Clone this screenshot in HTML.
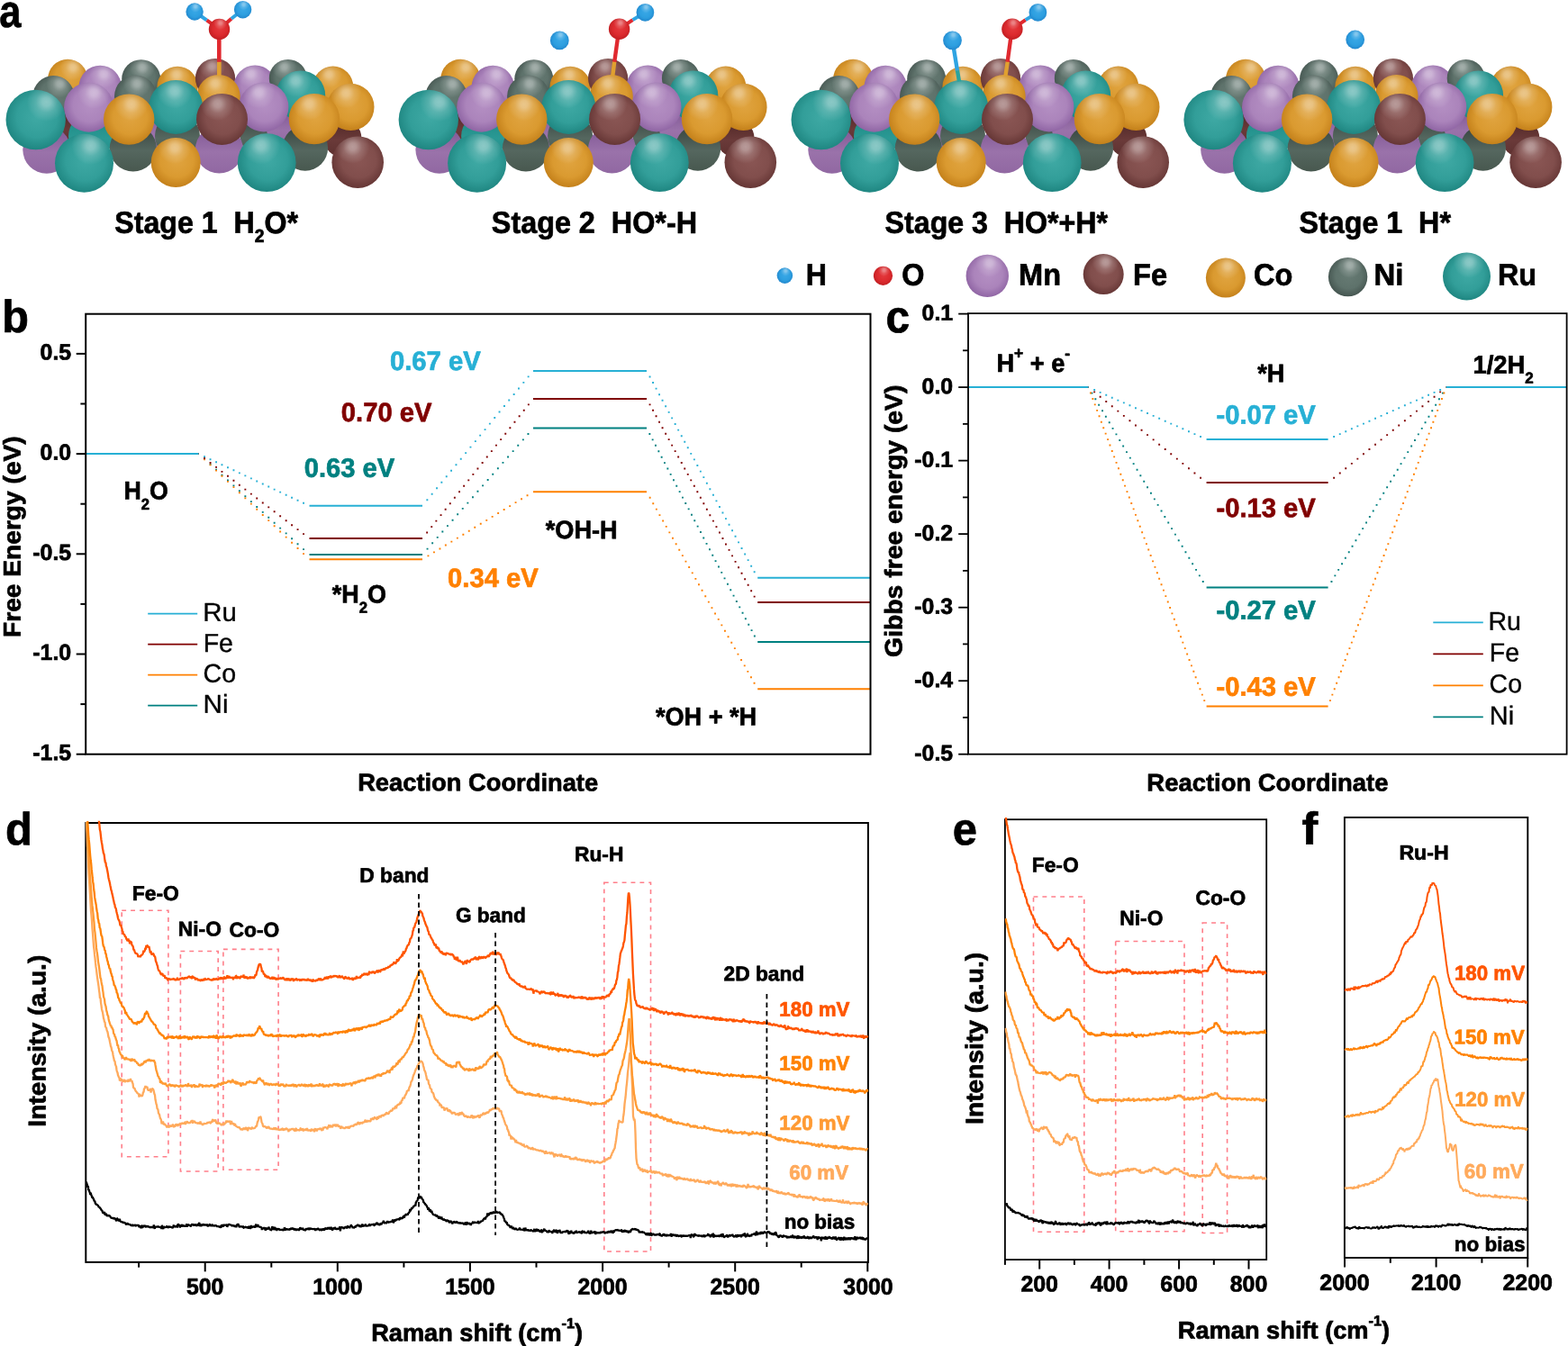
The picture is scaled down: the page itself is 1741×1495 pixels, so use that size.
<!DOCTYPE html>
<html lang="en">
<head>
<meta charset="utf-8">
<title>Figure: reaction stages, free energy diagrams and in-situ Raman spectra</title>
<style>
html,body{margin:0;padding:0;background:#fff;}
body{width:1741px;height:1495px;overflow:hidden;}
svg{display:block;}
svg text{font-family:"Liberation Sans", sans-serif;font-weight:bold;white-space:pre;stroke-linejoin:round;text-rendering:geometricPrecision;}
svg text.r{font-weight:normal;}
</style>
</head>
<body>
<svg width="1741" height="1495" viewBox="0 0 1741 1495" role="img" aria-label="Reaction stages on a high-entropy alloy surface, free energy diagrams, and in-situ Raman spectra">
<rect width="1741" height="1495" fill="#fff"/>
<defs>
<radialGradient id="gRu" cx="0.52" cy="0.46" r="0.56"><stop offset="0" stop-color="#3fa9a4"/><stop offset="0.6" stop-color="#329e99"/><stop offset="1" stop-color="#1d847f"/></radialGradient>
<radialGradient id="gCo" cx="0.52" cy="0.46" r="0.56"><stop offset="0" stop-color="#e0a440"/><stop offset="0.6" stop-color="#da9a30"/><stop offset="1" stop-color="#c27e18"/></radialGradient>
<radialGradient id="gMn" cx="0.52" cy="0.46" r="0.56"><stop offset="0" stop-color="#b48fc3"/><stop offset="0.6" stop-color="#ab84bb"/><stop offset="1" stop-color="#8d62a2"/></radialGradient>
<radialGradient id="gNi" cx="0.52" cy="0.46" r="0.56"><stop offset="0" stop-color="#667a73"/><stop offset="0.6" stop-color="#5e726b"/><stop offset="1" stop-color="#43534e"/></radialGradient>
<radialGradient id="gFe" cx="0.52" cy="0.46" r="0.56"><stop offset="0" stop-color="#8a5654"/><stop offset="0.6" stop-color="#814e4c"/><stop offset="1" stop-color="#633433"/></radialGradient>
<radialGradient id="gH" cx="0.52" cy="0.46" r="0.56"><stop offset="0" stop-color="#3aa8e6"/><stop offset="0.6" stop-color="#2d9fe0"/><stop offset="1" stop-color="#2286cc"/></radialGradient>
<radialGradient id="gO" cx="0.52" cy="0.46" r="0.56"><stop offset="0" stop-color="#e43a3e"/><stop offset="0.6" stop-color="#dc2a2e"/><stop offset="1" stop-color="#bf1e22"/></radialGradient>
<linearGradient id="gRud" x1="0.5" y1="0" x2="0.5" y2="1"><stop offset="0" stop-color="#1c8681"/><stop offset="0.55" stop-color="#2a9994"/><stop offset="1" stop-color="#238c87"/></linearGradient>
<linearGradient id="gMnd" x1="0.5" y1="0" x2="0.5" y2="1"><stop offset="0" stop-color="#7d5592"/><stop offset="0.55" stop-color="#9a72aa"/><stop offset="1" stop-color="#9168a2"/></linearGradient>
<linearGradient id="gNid" x1="0.5" y1="0" x2="0.5" y2="1"><stop offset="0" stop-color="#35423e"/><stop offset="0.55" stop-color="#55675f"/><stop offset="1" stop-color="#48584f"/></linearGradient>
<linearGradient id="gFed" x1="0.5" y1="0" x2="0.5" y2="1"><stop offset="0" stop-color="#4f2625"/><stop offset="0.55" stop-color="#6a3a39"/><stop offset="1" stop-color="#5d302f"/></linearGradient>
<radialGradient id="hl" cx="0.5" cy="0.5" r="0.5"><stop offset="0" stop-color="#fff" stop-opacity="0.43"/><stop offset="0.22" stop-color="#fff" stop-opacity="0.38"/><stop offset="0.55" stop-color="#fff" stop-opacity="0.16"/><stop offset="1" stop-color="#fff" stop-opacity="0"/></radialGradient>
<g id="slab">
<circle cx="76.0" cy="142.0" r="20.0" fill="url(#gFed)"/>
<circle cx="51.8" cy="166.3" r="26.5" fill="url(#gMnd)"/>
<circle cx="101.0" cy="151.0" r="25.0" fill="url(#gRud)"/>
<circle cx="172.0" cy="146.0" r="22.0" fill="url(#gMnd)"/>
<circle cx="197.0" cy="151.0" r="25.0" fill="url(#gNid)"/>
<circle cx="289.5" cy="151.0" r="23.0" fill="url(#gNid)"/>
<circle cx="318.0" cy="143.0" r="22.0" fill="url(#gMnd)"/>
<circle cx="380.5" cy="153.6" r="21.0" fill="url(#gFed)"/>
<clipPath id="k1"><circle cx="75.2" cy="87.9" r="22.1"/></clipPath><circle cx="75.2" cy="87.9" r="22.1" fill="url(#gCo)"/><circle cx="81.1" cy="74.6" r="14.6" fill="url(#hl)" clip-path="url(#k1)"/>
<clipPath id="k2"><circle cx="111.2" cy="96.5" r="23.7"/></clipPath><circle cx="111.2" cy="96.5" r="23.7" fill="url(#gMn)"/><circle cx="115.3" cy="82.3" r="15.6" fill="url(#hl)" clip-path="url(#k2)"/>
<clipPath id="k3"><circle cx="156.7" cy="87.7" r="21.5"/></clipPath><circle cx="156.7" cy="87.7" r="21.5" fill="url(#gNi)"/><circle cx="157.9" cy="74.8" r="14.2" fill="url(#hl)" clip-path="url(#k3)"/>
<clipPath id="k4"><circle cx="197.1" cy="96.5" r="22.7"/></clipPath><circle cx="197.1" cy="96.5" r="22.7" fill="url(#gCo)"/><circle cx="196.0" cy="82.9" r="15.0" fill="url(#hl)" clip-path="url(#k4)"/>
<clipPath id="k5"><circle cx="239.0" cy="87.0" r="22.1"/></clipPath><circle cx="239.0" cy="87.0" r="22.1" fill="url(#gFe)"/><circle cx="235.5" cy="73.7" r="14.6" fill="url(#hl)" clip-path="url(#k5)"/>
<clipPath id="k6"><circle cx="283.2" cy="96.2" r="23.7"/></clipPath><circle cx="283.2" cy="96.2" r="23.7" fill="url(#gMn)"/><circle cx="278.5" cy="82.0" r="15.6" fill="url(#hl)" clip-path="url(#k6)"/>
<clipPath id="k7"><circle cx="319.8" cy="86.9" r="21.0"/></clipPath><circle cx="319.8" cy="86.9" r="21.0" fill="url(#gNi)"/><circle cx="315.6" cy="74.3" r="13.9" fill="url(#hl)" clip-path="url(#k7)"/>
<clipPath id="k8"><circle cx="369.7" cy="96.1" r="22.5"/></clipPath><circle cx="369.7" cy="96.1" r="22.5" fill="url(#gCo)"/><circle cx="365.2" cy="82.6" r="14.9" fill="url(#hl)" clip-path="url(#k8)"/>
<clipPath id="k9"><circle cx="59.4" cy="106.9" r="23.0"/></clipPath><circle cx="59.4" cy="106.9" r="23.0" fill="url(#gNi)"/><circle cx="66.5" cy="93.1" r="15.2" fill="url(#hl)" clip-path="url(#k9)"/>
<clipPath id="k10"><circle cx="150.4" cy="106.9" r="23.4"/></clipPath><circle cx="150.4" cy="106.9" r="23.4" fill="url(#gNi)"/><circle cx="152.1" cy="92.9" r="15.4" fill="url(#hl)" clip-path="url(#k10)"/>
<clipPath id="k11"><circle cx="242.7" cy="106.9" r="24.0"/></clipPath><circle cx="242.7" cy="106.9" r="24.0" fill="url(#gCo)"/><circle cx="238.7" cy="92.5" r="15.8" fill="url(#hl)" clip-path="url(#k11)"/>
<clipPath id="k12"><circle cx="333.7" cy="106.0" r="27.5"/></clipPath><circle cx="333.7" cy="106.0" r="27.5" fill="url(#gRu)"/><circle cx="328.2" cy="89.5" r="18.2" fill="url(#hl)" clip-path="url(#k12)"/>
<clipPath id="k13"><circle cx="98.6" cy="119.2" r="27.5"/></clipPath><circle cx="98.6" cy="119.2" r="27.5" fill="url(#gMn)"/><circle cx="104.3" cy="102.7" r="18.2" fill="url(#hl)" clip-path="url(#k13)"/>
<clipPath id="k14"><circle cx="195.2" cy="118.9" r="30.0"/></clipPath><circle cx="195.2" cy="118.9" r="30.0" fill="url(#gRu)"/><circle cx="193.9" cy="100.9" r="19.8" fill="url(#hl)" clip-path="url(#k14)"/>
<clipPath id="k15"><circle cx="292.9" cy="118.9" r="27.5"/></clipPath><circle cx="292.9" cy="118.9" r="27.5" fill="url(#gMn)"/><circle cx="287.4" cy="102.4" r="18.2" fill="url(#hl)" clip-path="url(#k15)"/>
<clipPath id="k16"><circle cx="389.3" cy="118.9" r="26.2"/></clipPath><circle cx="389.3" cy="118.9" r="26.2" fill="url(#gCo)"/><circle cx="384.1" cy="103.2" r="17.3" fill="url(#hl)" clip-path="url(#k16)"/>
<circle cx="147.8" cy="164.6" r="26.0" fill="url(#gNid)"/>
<circle cx="243.4" cy="166.0" r="26.5" fill="url(#gMnd)"/>
<circle cx="338.8" cy="164.4" r="25.3" fill="url(#gNid)"/>
<clipPath id="k17"><circle cx="39.7" cy="133.0" r="33.2"/></clipPath><circle cx="39.7" cy="133.0" r="33.2" fill="url(#gRu)"/><circle cx="51.7" cy="113.1" r="21.9" fill="url(#hl)" clip-path="url(#k17)"/>
<clipPath id="k18"><circle cx="143.2" cy="132.6" r="28.2"/></clipPath><circle cx="143.2" cy="132.6" r="28.2" fill="url(#gCo)"/><circle cx="145.8" cy="115.7" r="18.6" fill="url(#hl)" clip-path="url(#k18)"/>
<clipPath id="k19"><circle cx="246.5" cy="132.4" r="28.5"/></clipPath><circle cx="246.5" cy="132.4" r="28.5" fill="url(#gFe)"/><circle cx="241.5" cy="115.3" r="18.8" fill="url(#hl)" clip-path="url(#k19)"/>
<clipPath id="k20"><circle cx="348.9" cy="132.1" r="28.2"/></clipPath><circle cx="348.9" cy="132.1" r="28.2" fill="url(#gCo)"/><circle cx="343.3" cy="115.2" r="18.6" fill="url(#hl)" clip-path="url(#k20)"/>
<clipPath id="k21"><circle cx="93.5" cy="181.2" r="32.5"/></clipPath><circle cx="93.5" cy="181.2" r="32.5" fill="url(#gRu)"/><circle cx="100.7" cy="161.7" r="21.4" fill="url(#hl)" clip-path="url(#k21)"/>
<clipPath id="k22"><circle cx="195.2" cy="180.5" r="27.5"/></clipPath><circle cx="195.2" cy="180.5" r="27.5" fill="url(#gCo)"/><circle cx="194.0" cy="164.0" r="18.2" fill="url(#hl)" clip-path="url(#k22)"/>
<clipPath id="k23"><circle cx="296.2" cy="180.7" r="32.4"/></clipPath><circle cx="296.2" cy="180.7" r="32.4" fill="url(#gRu)"/><circle cx="289.7" cy="161.3" r="21.4" fill="url(#hl)" clip-path="url(#k23)"/>
<clipPath id="k24"><circle cx="397.2" cy="180.2" r="28.8"/></clipPath><circle cx="397.2" cy="180.2" r="28.8" fill="url(#gFe)"/><circle cx="391.4" cy="162.9" r="19.0" fill="url(#hl)" clip-path="url(#k24)"/>
</g>
</defs>

<g id="panel-a">
<use href="#slab" x="0" y="0"/>
<use href="#slab" x="436.1" y="0"/>
<use href="#slab" x="872.0" y="0"/>
<use href="#slab" x="1307.9" y="0"/>
<line x1="243.3" y1="32.4" x2="243.3" y2="69.0" stroke="#e0292f" stroke-width="4.6"/>
<line x1="243.3" y1="68.8" x2="243.3" y2="84.0" stroke="#e0a030" stroke-width="4.6"/>
<line x1="243.5" y1="32.4" x2="229.5" y2="22.4" stroke="#e0292f" stroke-width="4.0"/>
<line x1="229.5" y1="22.4" x2="216.1" y2="13.0" stroke="#2fa4e2" stroke-width="4.0"/>
<line x1="243.5" y1="32.4" x2="256.9" y2="20.7" stroke="#e0292f" stroke-width="4.0"/>
<line x1="256.9" y1="20.7" x2="269.6" y2="10.7" stroke="#2fa4e2" stroke-width="4.0"/>
<clipPath id="k25"><circle cx="216.1" cy="13.0" r="9.7"/></clipPath><circle cx="216.1" cy="13.0" r="9.7" fill="url(#gH)"/><circle cx="217.1" cy="7.2" r="6.4" fill="url(#hl)" clip-path="url(#k25)"/>
<clipPath id="k26"><circle cx="269.6" cy="10.7" r="9.7"/></clipPath><circle cx="269.6" cy="10.7" r="9.7" fill="url(#gH)"/><circle cx="270.6" cy="4.9" r="6.4" fill="url(#hl)" clip-path="url(#k26)"/>
<clipPath id="k27"><circle cx="243.5" cy="32.4" r="11.7"/></clipPath><circle cx="243.5" cy="32.4" r="11.7" fill="url(#gO)"/><circle cx="244.7" cy="25.4" r="7.7" fill="url(#hl)" clip-path="url(#k27)"/>
<line x1="687.3" y1="32.2" x2="682.2" y2="69.0" stroke="#e0292f" stroke-width="4.4"/>
<line x1="682.2" y1="68.7" x2="680.2" y2="84.5" stroke="#e0a030" stroke-width="4.4"/>
<line x1="687.6" y1="32.2" x2="702.5" y2="22.1" stroke="#e0292f" stroke-width="4.0"/>
<line x1="702.5" y1="22.1" x2="716.4" y2="13.8" stroke="#2fa4e2" stroke-width="4.0"/>
<clipPath id="k28"><circle cx="716.4" cy="13.8" r="9.9"/></clipPath><circle cx="716.4" cy="13.8" r="9.9" fill="url(#gH)"/><circle cx="717.4" cy="7.9" r="6.5" fill="url(#hl)" clip-path="url(#k28)"/>
<clipPath id="k29"><circle cx="621.3" cy="44.9" r="10.4"/></clipPath><circle cx="621.3" cy="44.9" r="10.4" fill="url(#gH)"/><circle cx="622.3" cy="38.7" r="6.9" fill="url(#hl)" clip-path="url(#k29)"/>
<clipPath id="k30"><circle cx="687.6" cy="32.2" r="11.7"/></clipPath><circle cx="687.6" cy="32.2" r="11.7" fill="url(#gO)"/><circle cx="688.8" cy="25.2" r="7.7" fill="url(#hl)" clip-path="url(#k30)"/>
<line x1="1123.6" y1="32.2" x2="1118.6" y2="69.0" stroke="#e0292f" stroke-width="4.4"/>
<line x1="1118.7" y1="68.7" x2="1116.4" y2="84.5" stroke="#e0a030" stroke-width="4.4"/>
<line x1="1123.9" y1="32.2" x2="1138.7" y2="22.1" stroke="#e0292f" stroke-width="4.0"/>
<line x1="1138.7" y1="22.1" x2="1152.4" y2="13.8" stroke="#2fa4e2" stroke-width="4.0"/>
<line x1="1057.5" y1="44.8" x2="1063.0" y2="78.6" stroke="#2fa4e2" stroke-width="4.4"/>
<line x1="1063.0" y1="78.3" x2="1065.0" y2="90.5" stroke="#2aa39e" stroke-width="4.4"/>
<clipPath id="k31"><circle cx="1152.4" cy="13.8" r="9.9"/></clipPath><circle cx="1152.4" cy="13.8" r="9.9" fill="url(#gH)"/><circle cx="1153.4" cy="7.9" r="6.5" fill="url(#hl)" clip-path="url(#k31)"/>
<clipPath id="k32"><circle cx="1057.5" cy="44.8" r="10.4"/></clipPath><circle cx="1057.5" cy="44.8" r="10.4" fill="url(#gH)"/><circle cx="1058.5" cy="38.6" r="6.9" fill="url(#hl)" clip-path="url(#k32)"/>
<clipPath id="k33"><circle cx="1123.9" cy="32.2" r="11.7"/></clipPath><circle cx="1123.9" cy="32.2" r="11.7" fill="url(#gO)"/><circle cx="1125.1" cy="25.2" r="7.7" fill="url(#hl)" clip-path="url(#k33)"/>
<clipPath id="k34"><circle cx="1504.7" cy="44.0" r="10.4"/></clipPath><circle cx="1504.7" cy="44.0" r="10.4" fill="url(#gH)"/><circle cx="1505.7" cy="37.8" r="6.9" fill="url(#hl)" clip-path="url(#k34)"/>
<text transform="translate(-0.64 29.50) rotate(0.03) scale(0.8583 1.0000)" font-size="50.71" stroke="#000" stroke-width="0.7">a</text>
<text transform="translate(127.31 258.79) rotate(0.03) scale(0.9452 1.0000)" font-size="34.01" stroke="#000" stroke-width="0.7">Stage 1  H<tspan dy="10.20" font-size="20.41">2</tspan><tspan dy="-10.20">O*</tspan></text>
<text transform="translate(545.81 258.79) rotate(0.03) scale(0.9510 1.0000)" font-size="34.01" stroke="#000" stroke-width="0.7">Stage 2  HO*-H</text>
<text transform="translate(982.61 258.79) rotate(0.03) scale(0.9457 1.0000)" font-size="34.01" stroke="#000" stroke-width="0.7">Stage 3  HO*+H*</text>
<text transform="translate(1442.61 258.79) rotate(0.03) scale(0.9476 1.0000)" font-size="34.01" stroke="#000" stroke-width="0.7">Stage 1  H*</text>
<clipPath id="k35"><circle cx="871.4" cy="306.1" r="8.8"/></clipPath><circle cx="871.4" cy="306.1" r="8.8" fill="url(#gH)"/><circle cx="872.3" cy="300.8" r="5.8" fill="url(#hl)" clip-path="url(#k35)"/>
<text transform="translate(894.81 316.69) rotate(0.03) scale(0.9421 1.0000)" font-size="34.01" stroke="#000" stroke-width="0.7">H</text>
<clipPath id="k36"><circle cx="980.5" cy="306.3" r="10.6"/></clipPath><circle cx="980.5" cy="306.3" r="10.6" fill="url(#gO)"/><circle cx="981.6" cy="299.9" r="7.0" fill="url(#hl)" clip-path="url(#k36)"/>
<text transform="translate(1001.31 316.69) rotate(0.03) scale(0.9526 1.0000)" font-size="34.01" stroke="#000" stroke-width="0.7">O</text>
<clipPath id="k37"><circle cx="1096.3" cy="306.4" r="23.7"/></clipPath><circle cx="1096.3" cy="306.4" r="23.7" fill="url(#gMn)"/><circle cx="1098.7" cy="292.2" r="15.6" fill="url(#hl)" clip-path="url(#k37)"/>
<text transform="translate(1131.09 316.69) rotate(0.03) scale(0.9573 1.0000)" font-size="34.01" stroke="#000" stroke-width="0.7">Mn</text>
<clipPath id="k38"><circle cx="1225.2" cy="304.6" r="22.5"/></clipPath><circle cx="1225.2" cy="304.6" r="22.5" fill="url(#gFe)"/><circle cx="1227.5" cy="291.1" r="14.9" fill="url(#hl)" clip-path="url(#k38)"/>
<text transform="translate(1257.98 316.69) rotate(0.03) scale(0.9584 1.0000)" font-size="34.01" stroke="#000" stroke-width="0.7">Fe</text>
<clipPath id="k39"><circle cx="1360.9" cy="308.6" r="22.0"/></clipPath><circle cx="1360.9" cy="308.6" r="22.0" fill="url(#gCo)"/><circle cx="1363.1" cy="295.4" r="14.5" fill="url(#hl)" clip-path="url(#k39)"/>
<text transform="translate(1392.00 316.69) rotate(0.03) scale(0.9558 1.0000)" font-size="34.01" stroke="#000" stroke-width="0.7">Co</text>
<clipPath id="k40"><circle cx="1496.6" cy="307.6" r="21.7"/></clipPath><circle cx="1496.6" cy="307.6" r="21.7" fill="url(#gNi)"/><circle cx="1498.8" cy="294.6" r="14.3" fill="url(#hl)" clip-path="url(#k40)"/>
<text transform="translate(1525.57 316.69) rotate(0.03) scale(0.9684 1.0000)" font-size="34.01" stroke="#000" stroke-width="0.7">Ni</text>
<clipPath id="k41"><circle cx="1628.5" cy="307.1" r="26.5"/></clipPath><circle cx="1628.5" cy="307.1" r="26.5" fill="url(#gRu)"/><circle cx="1631.2" cy="291.2" r="17.5" fill="url(#hl)" clip-path="url(#k41)"/>
<text transform="translate(1662.89 316.69) rotate(0.03) scale(0.9536 1.0000)" font-size="34.01" stroke="#000" stroke-width="0.7">Ru</text>
</g>
<g id="panel-b">
<path d="M226.1,510.0h1.9M232.6,515.9h1.9M239.1,521.8h1.9M245.5,527.7h1.9M252.0,533.5h1.9M258.5,539.4h1.9M264.9,545.3h1.9M271.4,551.2h1.9M277.9,557.1h1.9M284.3,563.0h1.9M290.8,568.9h1.9M297.3,574.8h1.9M303.7,580.7h1.9M310.2,586.6h1.9M316.7,592.4h1.9M323.1,598.3h1.9M329.6,604.2h1.9M336.1,610.1h1.9" stroke="#008080" stroke-width="1.9" fill="none"/>
<path d="M473.6,609.6h1.9M479.2,603.2h1.9M484.8,596.9h1.9M490.4,590.5h1.9M496.0,584.1h1.9M501.6,577.7h1.9M507.2,571.3h1.9M512.8,564.9h1.9M518.4,558.6h1.9M524.0,552.2h1.9M529.5,545.8h1.9M535.1,539.4h1.9M540.7,533.0h1.9M546.3,526.7h1.9M551.9,520.3h1.9M557.5,513.9h1.9M563.1,507.5h1.9M568.7,501.1h1.9M574.3,494.7h1.9M579.9,488.4h1.9M585.5,482.0h1.9" stroke="#008080" stroke-width="1.9" fill="none"/>
<path d="M720.4,482.0h1.9M723.7,488.4h1.9M727.0,494.8h1.9M730.4,501.3h1.9M733.7,507.7h1.9M737.0,514.1h1.9M740.4,520.5h1.9M743.7,526.9h1.9M747.0,533.3h1.9M750.3,539.7h1.9M753.7,546.1h1.9M757.0,552.6h1.9M760.3,559.0h1.9M763.7,565.4h1.9M767.0,571.8h1.9M770.3,578.2h1.9M773.7,584.6h1.9M777.0,591.0h1.9M780.3,597.5h1.9M783.6,603.9h1.9M787.0,610.3h1.9M790.3,616.7h1.9M793.6,623.1h1.9M797.0,629.5h1.9M800.3,635.9h1.9M803.6,642.4h1.9M807.0,648.8h1.9M810.3,655.2h1.9M813.6,661.6h1.9M816.9,668.0h1.9M820.3,674.4h1.9M823.6,680.8h1.9M826.9,687.2h1.9M830.3,693.7h1.9M833.6,700.1h1.9M836.9,706.5h1.9" stroke="#008080" stroke-width="1.9" fill="none"/>
<path d="M226.1,510.3h1.9M232.6,516.4h1.9M239.1,522.6h1.9M245.5,528.8h1.9M252.0,534.9h1.9M258.5,541.1h1.9M264.9,547.3h1.9M271.4,553.4h1.9M277.9,559.6h1.9M284.3,565.8h1.9M290.8,572.0h1.9M297.3,578.1h1.9M303.7,584.3h1.9M310.2,590.5h1.9M316.7,596.6h1.9M323.1,602.8h1.9M329.6,609.0h1.9M336.1,615.1h1.9" stroke="#ff8000" stroke-width="1.9" fill="none"/>
<path d="M474.5,617.4h1.9M481.0,613.4h1.9M487.5,609.5h1.9M493.9,605.5h1.9M500.4,601.6h1.9M506.9,597.6h1.9M513.4,593.7h1.9M519.8,589.7h1.9M526.3,585.8h1.9M532.8,581.8h1.9M539.3,577.9h1.9M545.7,573.9h1.9M552.2,570.0h1.9M558.7,566.0h1.9M565.2,562.1h1.9M571.6,558.1h1.9M578.1,554.2h1.9M584.6,550.2h1.9" stroke="#ff8000" stroke-width="1.9" fill="none"/>
<path d="M720.7,552.7h1.9M724.3,559.2h1.9M727.9,565.6h1.9M731.5,572.1h1.9M735.2,578.5h1.9M738.8,584.9h1.9M742.4,591.4h1.9M746.0,597.8h1.9M749.7,604.2h1.9M753.3,610.7h1.9M756.9,617.1h1.9M760.5,623.6h1.9M764.2,630.0h1.9M767.8,636.4h1.9M771.4,642.9h1.9M775.0,649.3h1.9M778.6,655.8h1.9M782.3,662.2h1.9M785.9,668.6h1.9M789.5,675.1h1.9M793.1,681.5h1.9M796.8,687.9h1.9M800.4,694.4h1.9M804.0,700.8h1.9M807.6,707.3h1.9M811.3,713.7h1.9M814.9,720.1h1.9M818.5,726.6h1.9M822.1,733.0h1.9M825.8,739.4h1.9M829.4,745.9h1.9M833.0,752.3h1.9M836.6,758.8h1.9" stroke="#ff8000" stroke-width="1.9" fill="none"/>
<path d="M226.1,509.0h1.9M232.6,514.0h1.9M239.1,518.9h1.9M245.5,523.9h1.9M252.0,528.8h1.9M258.5,533.8h1.9M264.9,538.7h1.9M271.4,543.6h1.9M277.9,548.6h1.9M284.3,553.5h1.9M290.8,558.5h1.9M297.3,563.4h1.9M303.7,568.3h1.9M310.2,573.3h1.9M316.7,578.2h1.9M323.1,583.2h1.9M329.6,588.1h1.9M336.1,593.1h1.9" stroke="#800000" stroke-width="1.9" fill="none"/>
<path d="M473.2,591.5h1.9M478.3,585.1h1.9M483.4,578.6h1.9M488.6,572.1h1.9M493.7,565.7h1.9M498.8,559.2h1.9M503.9,552.8h1.9M509.1,546.3h1.9M514.2,539.8h1.9M519.3,533.4h1.9M524.4,526.9h1.9M529.5,520.5h1.9M534.7,514.0h1.9M539.8,507.5h1.9M544.9,501.1h1.9M550.0,494.6h1.9M555.2,488.1h1.9M560.3,481.7h1.9M565.4,475.2h1.9M570.5,468.8h1.9M575.7,462.3h1.9M580.8,455.8h1.9M585.9,449.4h1.9" stroke="#800000" stroke-width="1.9" fill="none"/>
<path d="M720.6,449.4h1.9M724.1,455.8h1.9M727.6,462.3h1.9M731.1,468.8h1.9M734.6,475.2h1.9M738.2,481.7h1.9M741.7,488.1h1.9M745.2,494.6h1.9M748.7,501.1h1.9M752.2,507.5h1.9M755.8,514.0h1.9M759.3,520.5h1.9M762.8,526.9h1.9M766.3,533.4h1.9M769.9,539.8h1.9M773.4,546.3h1.9M776.9,552.8h1.9M780.4,559.2h1.9M783.9,565.7h1.9M787.4,572.2h1.9M791.0,578.6h1.9M794.5,585.1h1.9M798.0,591.5h1.9M801.5,598.0h1.9M805.0,604.5h1.9M808.6,610.9h1.9M812.1,617.4h1.9M815.6,623.9h1.9M819.1,630.3h1.9M822.6,636.8h1.9M826.2,643.2h1.9M829.7,649.7h1.9M833.2,656.2h1.9M836.7,662.6h1.9" stroke="#800000" stroke-width="1.9" fill="none"/>
<path d="M226.1,507.1h1.9M232.6,510.2h1.9M239.1,513.2h1.9M245.5,516.2h1.9M252.0,519.3h1.9M258.5,522.3h1.9M264.9,525.4h1.9M271.4,528.4h1.9M277.9,531.4h1.9M284.3,534.5h1.9M290.8,537.5h1.9M297.3,540.5h1.9M303.7,543.6h1.9M310.2,546.6h1.9M316.7,549.7h1.9M323.1,552.7h1.9M329.6,555.7h1.9M336.1,558.8h1.9" stroke="#27b0d5" stroke-width="1.9" fill="none"/>
<path d="M473.4,555.3h1.9M478.7,548.8h1.9M484.1,542.2h1.9M489.4,535.7h1.9M494.8,529.2h1.9M500.1,522.7h1.9M505.5,516.2h1.9M510.8,509.7h1.9M516.2,503.1h1.9M521.5,496.6h1.9M526.9,490.1h1.9M532.2,483.6h1.9M537.6,477.1h1.9M542.9,470.6h1.9M548.3,464.0h1.9M553.6,457.5h1.9M559.0,451.0h1.9M564.3,444.5h1.9M569.7,438.0h1.9M575.0,431.5h1.9M580.4,424.9h1.9M585.7,418.4h1.9" stroke="#27b0d5" stroke-width="1.9" fill="none"/>
<path d="M720.6,418.5h1.9M724.1,425.0h1.9M727.6,431.6h1.9M731.1,438.2h1.9M734.6,444.7h1.9M738.2,451.3h1.9M741.7,457.9h1.9M745.2,464.4h1.9M748.7,471.0h1.9M752.2,477.6h1.9M755.8,484.2h1.9M759.3,490.7h1.9M762.8,497.3h1.9M766.3,503.9h1.9M769.9,510.4h1.9M773.4,517.0h1.9M776.9,523.6h1.9M780.4,530.1h1.9M783.9,536.7h1.9M787.4,543.3h1.9M791.0,549.8h1.9M794.5,556.4h1.9M798.0,563.0h1.9M801.5,569.5h1.9M805.0,576.1h1.9M808.6,582.7h1.9M812.1,589.3h1.9M815.6,595.8h1.9M819.1,602.4h1.9M822.6,609.0h1.9M826.2,615.5h1.9M829.7,622.1h1.9M833.2,628.7h1.9M836.7,635.2h1.9" stroke="#27b0d5" stroke-width="1.9" fill="none"/>
<line x1="95.2" y1="504.1" x2="220.6" y2="504.1" stroke="#008080" stroke-width="2.0"/>
<line x1="343.5" y1="616.0" x2="469.0" y2="616.0" stroke="#008080" stroke-width="2.0"/>
<line x1="592.0" y1="475.6" x2="718.0" y2="475.6" stroke="#008080" stroke-width="2.0"/>
<line x1="841.2" y1="712.9" x2="966.5" y2="712.9" stroke="#008080" stroke-width="2.0"/>
<line x1="95.2" y1="504.1" x2="220.6" y2="504.1" stroke="#ff8000" stroke-width="2.0"/>
<line x1="343.5" y1="621.3" x2="469.0" y2="621.3" stroke="#ff8000" stroke-width="2.0"/>
<line x1="592.0" y1="546.3" x2="718.0" y2="546.3" stroke="#ff8000" stroke-width="2.0"/>
<line x1="841.2" y1="765.2" x2="966.5" y2="765.2" stroke="#ff8000" stroke-width="2.0"/>
<line x1="95.2" y1="504.1" x2="220.6" y2="504.1" stroke="#800000" stroke-width="2.0"/>
<line x1="343.5" y1="598.0" x2="469.0" y2="598.0" stroke="#800000" stroke-width="2.0"/>
<line x1="592.0" y1="442.9" x2="718.0" y2="442.9" stroke="#800000" stroke-width="2.0"/>
<line x1="841.2" y1="669.1" x2="966.5" y2="669.1" stroke="#800000" stroke-width="2.0"/>
<line x1="95.2" y1="504.1" x2="220.6" y2="504.1" stroke="#27b0d5" stroke-width="2.0"/>
<line x1="343.5" y1="561.8" x2="469.0" y2="561.8" stroke="#27b0d5" stroke-width="2.0"/>
<line x1="592.0" y1="411.9" x2="718.0" y2="411.9" stroke="#27b0d5" stroke-width="2.0"/>
<line x1="841.2" y1="641.8" x2="966.5" y2="641.8" stroke="#27b0d5" stroke-width="2.0"/>
<rect x="95.2" y="348.7" width="871.3" height="489.0" fill="none" stroke="#000" stroke-width="2"/>
<line x1="84.7" y1="392.9" x2="95.2" y2="392.9" stroke="#000" stroke-width="2"/>
<text transform="translate(44.57 399.50) rotate(0.03) scale(1.0000 1.0000)" font-size="24.91" stroke="#000" stroke-width="0.7">0.5</text>
<line x1="84.7" y1="504.1" x2="95.2" y2="504.1" stroke="#000" stroke-width="2"/>
<text transform="translate(44.57 510.69) rotate(0.03) scale(1.0000 1.0000)" font-size="24.91" stroke="#000" stroke-width="0.7">0.0</text>
<line x1="84.7" y1="615.3" x2="95.2" y2="615.3" stroke="#000" stroke-width="2"/>
<text transform="translate(36.28 621.90) rotate(0.03) scale(1.0000 1.0000)" font-size="24.91" stroke="#000" stroke-width="0.7">-0.5</text>
<line x1="84.7" y1="726.5" x2="95.2" y2="726.5" stroke="#000" stroke-width="2"/>
<text transform="translate(36.28 733.10) rotate(0.03) scale(1.0000 1.0000)" font-size="24.91" stroke="#000" stroke-width="0.7">-1.0</text>
<line x1="84.7" y1="837.7" x2="95.2" y2="837.7" stroke="#000" stroke-width="2"/>
<text transform="translate(36.28 844.30) rotate(0.03) scale(1.0000 1.0000)" font-size="24.91" stroke="#000" stroke-width="0.7">-1.5</text>
<line x1="89.4" y1="448.5" x2="95.2" y2="448.5" stroke="#000" stroke-width="2"/>
<line x1="89.4" y1="559.7" x2="95.2" y2="559.7" stroke="#000" stroke-width="2"/>
<line x1="89.4" y1="670.9" x2="95.2" y2="670.9" stroke="#000" stroke-width="2"/>
<line x1="89.4" y1="782.1" x2="95.2" y2="782.1" stroke="#000" stroke-width="2"/>
<text transform="translate(432.92 411.00) rotate(0.03) scale(0.9852 1.0000)" font-size="29.71" fill="#27b0d5" stroke="#27b0d5" stroke-width="0.7">0.67 eV</text>
<text transform="translate(378.82 468.09) rotate(0.03) scale(0.9823 1.0000)" font-size="29.71" fill="#800000" stroke="#800000" stroke-width="0.7">0.70 eV</text>
<text transform="translate(337.82 529.79) rotate(0.03) scale(0.9793 1.0000)" font-size="29.71" fill="#008080" stroke="#008080" stroke-width="0.7">0.63 eV</text>
<text transform="translate(497.12 651.89) rotate(0.03) scale(0.9823 1.0000)" font-size="29.71" fill="#ff8000" stroke="#ff8000" stroke-width="0.7">0.34 eV</text>
<text transform="translate(137.57 554.60) rotate(0.03) scale(0.9474 1.0000)" font-size="28.21" stroke="#000" stroke-width="0.7">H<tspan dy="11.28" font-size="17.49">2</tspan><tspan dy="-11.28">O</tspan></text>
<text transform="translate(368.84 669.50) rotate(0.03) scale(0.9543 1.0000)" font-size="28.21" stroke="#000" stroke-width="0.7">*H<tspan dy="11.28" font-size="17.49">2</tspan><tspan dy="-11.28">O</tspan></text>
<text transform="translate(605.74 598.10) rotate(0.03) scale(0.9615 1.0000)" font-size="28.21" stroke="#000" stroke-width="0.7">*OH-H</text>
<text transform="translate(727.94 805.39) rotate(0.03) scale(0.9605 1.0000)" font-size="28.21" stroke="#000" stroke-width="0.7">*OH + *H</text>
<line x1="164.2" y1="681.6" x2="219.2" y2="681.6" stroke="#27b0d5" stroke-width="1.8"/>
<text transform="translate(225.20 689.85) rotate(0.03) scale(1.0161 1.0000)" font-size="28.86" stroke="#000" stroke-width="0.35" class="r">Ru</text>
<line x1="164.2" y1="715.6" x2="219.2" y2="715.6" stroke="#800000" stroke-width="1.8"/>
<text transform="translate(225.66 723.95) rotate(0.03) scale(0.9877 1.0000)" font-size="28.86" stroke="#000" stroke-width="0.35" class="r">Fe</text>
<line x1="164.2" y1="749.6" x2="219.2" y2="749.6" stroke="#ff8000" stroke-width="1.8"/>
<text transform="translate(225.62 757.65) rotate(0.03) scale(0.9897 1.0000)" font-size="28.86" stroke="#000" stroke-width="0.35" class="r">Co</text>
<line x1="164.2" y1="783.6" x2="219.2" y2="783.6" stroke="#008080" stroke-width="1.8"/>
<text transform="translate(225.58 791.85) rotate(0.03) scale(1.0256 1.0000)" font-size="28.86" stroke="#000" stroke-width="0.35" class="r">Ni</text>
<text transform="translate(397.15 878.29) rotate(0.03) scale(1.0070 1.0000)" font-size="27.11" stroke="#000" stroke-width="0.7">Reaction Coordinate</text>
<text transform="translate(22.70 707.99) rotate(-89.97) scale(1.0382 1.0000)" font-size="27.11" stroke="#000" stroke-width="0.7">Free Energy (eV)</text>
<text transform="translate(2.33 368.89) rotate(0.03) scale(0.9578 1.0000)" font-size="50.71" stroke="#000" stroke-width="0.7">b</text>
</g>
<g id="panel-c">
<path d="M1211.5,436.6h1.9M1215.4,443.2h1.9M1219.2,449.7h1.9M1223.1,456.3h1.9M1226.9,462.8h1.9M1230.8,469.3h1.9M1234.6,475.9h1.9M1238.5,482.4h1.9M1242.3,489.0h1.9M1246.2,495.5h1.9M1250.0,502.1h1.9M1253.9,508.6h1.9M1257.7,515.1h1.9M1261.6,521.7h1.9M1265.4,528.2h1.9M1269.3,534.8h1.9M1273.1,541.3h1.9M1277.0,547.8h1.9M1280.9,554.4h1.9M1284.7,560.9h1.9M1288.6,567.5h1.9M1292.4,574.0h1.9M1296.3,580.5h1.9M1300.1,587.1h1.9M1304.0,593.6h1.9M1307.8,600.2h1.9M1311.7,606.7h1.9M1315.5,613.3h1.9M1319.4,619.8h1.9M1323.2,626.3h1.9M1327.1,632.9h1.9M1330.9,639.4h1.9M1334.8,646.0h1.9" stroke="#008080" stroke-width="1.9" fill="none"/>
<path d="M1477.5,646.0h1.9M1481.4,639.4h1.9M1485.2,632.9h1.9M1489.1,626.3h1.9M1492.9,619.8h1.9M1496.8,613.3h1.9M1500.6,606.7h1.9M1504.5,600.2h1.9M1508.4,593.6h1.9M1512.2,587.1h1.9M1516.1,580.5h1.9M1519.9,574.0h1.9M1523.8,567.5h1.9M1527.6,560.9h1.9M1531.5,554.4h1.9M1535.3,547.8h1.9M1539.2,541.3h1.9M1543.1,534.8h1.9M1546.9,528.2h1.9M1550.8,521.7h1.9M1554.6,515.1h1.9M1558.5,508.6h1.9M1562.3,502.1h1.9M1566.2,495.5h1.9M1570.0,489.0h1.9M1573.9,482.4h1.9M1577.8,475.9h1.9M1581.6,469.3h1.9M1585.5,462.8h1.9M1589.3,456.3h1.9M1593.2,449.7h1.9M1597.0,443.2h1.9M1600.9,436.6h1.9" stroke="#008080" stroke-width="1.9" fill="none"/>
<path d="M1210.0,436.5h1.9M1212.4,443.0h1.9M1214.8,449.4h1.9M1217.2,455.9h1.9M1219.6,462.3h1.9M1221.9,468.8h1.9M1224.3,475.2h1.9M1226.7,481.6h1.9M1229.1,488.1h1.9M1231.5,494.5h1.9M1233.8,501.0h1.9M1236.2,507.4h1.9M1238.6,513.9h1.9M1241.0,520.3h1.9M1243.4,526.8h1.9M1245.8,533.2h1.9M1248.1,539.6h1.9M1250.5,546.1h1.9M1252.9,552.5h1.9M1255.3,559.0h1.9M1257.7,565.4h1.9M1260.0,571.9h1.9M1262.4,578.3h1.9M1264.8,584.7h1.9M1267.2,591.2h1.9M1269.6,597.6h1.9M1272.0,604.1h1.9M1274.3,610.5h1.9M1276.7,617.0h1.9M1279.1,623.4h1.9M1281.5,629.9h1.9M1283.9,636.3h1.9M1286.2,642.7h1.9M1288.6,649.2h1.9M1291.0,655.6h1.9M1293.4,662.1h1.9M1295.8,668.5h1.9M1298.2,675.0h1.9M1300.5,681.4h1.9M1302.9,687.8h1.9M1305.3,694.3h1.9M1307.7,700.7h1.9M1310.1,707.2h1.9M1312.4,713.6h1.9M1314.8,720.1h1.9M1317.2,726.5h1.9M1319.6,733.0h1.9M1322.0,739.4h1.9M1324.4,745.8h1.9M1326.7,752.3h1.9M1329.1,758.7h1.9M1331.5,765.2h1.9M1333.9,771.6h1.9M1336.3,778.1h1.9" stroke="#ff8000" stroke-width="1.9" fill="none"/>
<path d="M1476.0,778.1h1.9M1478.4,771.6h1.9M1480.8,765.2h1.9M1483.2,758.7h1.9M1485.6,752.3h1.9M1488.0,745.8h1.9M1490.3,739.4h1.9M1492.7,733.0h1.9M1495.1,726.5h1.9M1497.5,720.1h1.9M1499.9,713.6h1.9M1502.3,707.2h1.9M1504.6,700.7h1.9M1507.0,694.3h1.9M1509.4,687.8h1.9M1511.8,681.4h1.9M1514.2,675.0h1.9M1516.6,668.5h1.9M1518.9,662.1h1.9M1521.3,655.6h1.9M1523.7,649.2h1.9M1526.1,642.7h1.9M1528.5,636.3h1.9M1530.9,629.9h1.9M1533.2,623.4h1.9M1535.6,617.0h1.9M1538.0,610.5h1.9M1540.4,604.1h1.9M1542.8,597.6h1.9M1545.2,591.2h1.9M1547.5,584.7h1.9M1549.9,578.3h1.9M1552.3,571.9h1.9M1554.7,565.4h1.9M1557.1,559.0h1.9M1559.5,552.5h1.9M1561.8,546.1h1.9M1564.2,539.6h1.9M1566.6,533.2h1.9M1569.0,526.8h1.9M1571.4,520.3h1.9M1573.8,513.9h1.9M1576.1,507.4h1.9M1578.5,501.0h1.9M1580.9,494.5h1.9M1583.3,488.1h1.9M1585.7,481.6h1.9M1588.1,475.2h1.9M1590.4,468.8h1.9M1592.8,462.3h1.9M1595.2,455.9h1.9M1597.6,449.4h1.9M1600.0,443.0h1.9M1602.4,436.5h1.9" stroke="#ff8000" stroke-width="1.9" fill="none"/>
<path d="M1214.2,435.4h1.9M1220.7,440.7h1.9M1227.3,446.0h1.9M1233.8,451.3h1.9M1240.4,456.6h1.9M1246.9,461.9h1.9M1253.5,467.2h1.9M1260.0,472.5h1.9M1266.6,477.8h1.9M1273.1,483.1h1.9M1279.7,488.4h1.9M1286.2,493.7h1.9M1292.8,499.0h1.9M1299.3,504.3h1.9M1305.9,509.6h1.9M1312.4,514.9h1.9M1319.0,520.2h1.9M1325.5,525.5h1.9M1332.1,530.8h1.9" stroke="#800000" stroke-width="1.9" fill="none"/>
<path d="M1480.2,530.8h1.9M1486.8,525.5h1.9M1493.3,520.2h1.9M1499.9,514.9h1.9M1506.4,509.6h1.9M1513.0,504.3h1.9M1519.5,499.0h1.9M1526.1,493.7h1.9M1532.6,488.4h1.9M1539.2,483.1h1.9M1545.8,477.8h1.9M1552.3,472.5h1.9M1558.9,467.2h1.9M1565.4,461.9h1.9M1572.0,456.6h1.9M1578.5,451.3h1.9M1585.1,446.0h1.9M1591.6,440.7h1.9M1598.2,435.4h1.9" stroke="#800000" stroke-width="1.9" fill="none"/>
<path d="M1214.2,433.0h1.9M1220.7,435.9h1.9M1227.3,438.8h1.9M1233.8,441.7h1.9M1240.4,444.6h1.9M1246.9,447.4h1.9M1253.5,450.3h1.9M1260.0,453.2h1.9M1266.6,456.1h1.9M1273.1,459.0h1.9M1279.7,461.9h1.9M1286.2,464.8h1.9M1292.8,467.7h1.9M1299.3,470.6h1.9M1305.9,473.4h1.9M1312.4,476.3h1.9M1319.0,479.2h1.9M1325.5,482.1h1.9M1332.1,485.0h1.9" stroke="#27b0d5" stroke-width="1.9" fill="none"/>
<path d="M1480.2,485.0h1.9M1486.8,482.1h1.9M1493.3,479.2h1.9M1499.9,476.3h1.9M1506.4,473.4h1.9M1513.0,470.6h1.9M1519.5,467.7h1.9M1526.1,464.8h1.9M1532.6,461.9h1.9M1539.2,459.0h1.9M1545.8,456.1h1.9M1552.3,453.2h1.9M1558.9,450.3h1.9M1565.4,447.4h1.9M1572.0,444.6h1.9M1578.5,441.7h1.9M1585.1,438.8h1.9M1591.6,435.9h1.9M1598.2,433.0h1.9" stroke="#27b0d5" stroke-width="1.9" fill="none"/>
<line x1="1075.0" y1="430.1" x2="1208.6" y2="430.1" stroke="#008080" stroke-width="2.0"/>
<line x1="1339.6" y1="652.5" x2="1474.6" y2="652.5" stroke="#008080" stroke-width="2.0"/>
<line x1="1605.7" y1="430.1" x2="1739.6" y2="430.1" stroke="#008080" stroke-width="2.0"/>
<line x1="1075.0" y1="430.1" x2="1208.6" y2="430.1" stroke="#ff8000" stroke-width="2.0"/>
<line x1="1339.6" y1="784.5" x2="1474.6" y2="784.5" stroke="#ff8000" stroke-width="2.0"/>
<line x1="1605.7" y1="430.1" x2="1739.6" y2="430.1" stroke="#ff8000" stroke-width="2.0"/>
<line x1="1075.0" y1="430.1" x2="1208.6" y2="430.1" stroke="#800000" stroke-width="2.0"/>
<line x1="1339.6" y1="536.1" x2="1474.6" y2="536.1" stroke="#800000" stroke-width="2.0"/>
<line x1="1605.7" y1="430.1" x2="1739.6" y2="430.1" stroke="#800000" stroke-width="2.0"/>
<line x1="1075.0" y1="430.1" x2="1208.6" y2="430.1" stroke="#27b0d5" stroke-width="2.0"/>
<line x1="1339.6" y1="487.9" x2="1474.6" y2="487.9" stroke="#27b0d5" stroke-width="2.0"/>
<line x1="1605.7" y1="430.1" x2="1739.6" y2="430.1" stroke="#27b0d5" stroke-width="2.0"/>
<rect x="1075.0" y="348.1" width="664.6" height="489.6" fill="none" stroke="#000" stroke-width="1.8"/>
<line x1="1064.2" y1="348.6" x2="1075.0" y2="348.6" stroke="#000" stroke-width="1.8"/>
<text transform="translate(1023.61 355.68) rotate(0.03) scale(1.0080 1.0000)" font-size="24.61" stroke="#000" stroke-width="0.7">0.1</text>
<line x1="1064.2" y1="430.1" x2="1075.0" y2="430.1" stroke="#000" stroke-width="1.8"/>
<text transform="translate(1023.61 437.19) rotate(0.03) scale(1.0080 1.0000)" font-size="24.61" stroke="#000" stroke-width="0.7">0.0</text>
<line x1="1064.2" y1="511.6" x2="1075.0" y2="511.6" stroke="#000" stroke-width="1.8"/>
<text transform="translate(1015.35 518.72) rotate(0.03) scale(1.0080 1.0000)" font-size="24.61" stroke="#000" stroke-width="0.7">-0.1</text>
<line x1="1064.2" y1="593.1" x2="1075.0" y2="593.1" stroke="#000" stroke-width="1.8"/>
<text transform="translate(1015.35 600.24) rotate(0.03) scale(1.0080 1.0000)" font-size="24.61" stroke="#000" stroke-width="0.7">-0.2</text>
<line x1="1064.2" y1="674.7" x2="1075.0" y2="674.7" stroke="#000" stroke-width="1.8"/>
<text transform="translate(1015.35 681.76) rotate(0.03) scale(1.0080 1.0000)" font-size="24.61" stroke="#000" stroke-width="0.7">-0.3</text>
<line x1="1064.2" y1="756.2" x2="1075.0" y2="756.2" stroke="#000" stroke-width="1.8"/>
<text transform="translate(1015.35 763.28) rotate(0.03) scale(1.0080 1.0000)" font-size="24.61" stroke="#000" stroke-width="0.7">-0.4</text>
<line x1="1064.2" y1="837.7" x2="1075.0" y2="837.7" stroke="#000" stroke-width="1.8"/>
<text transform="translate(1015.35 844.80) rotate(0.03) scale(1.0080 1.0000)" font-size="24.61" stroke="#000" stroke-width="0.7">-0.5</text>
<line x1="1069.0" y1="389.3" x2="1075.0" y2="389.3" stroke="#000" stroke-width="1.8"/>
<line x1="1069.0" y1="470.9" x2="1075.0" y2="470.9" stroke="#000" stroke-width="1.8"/>
<line x1="1069.0" y1="552.4" x2="1075.0" y2="552.4" stroke="#000" stroke-width="1.8"/>
<line x1="1069.0" y1="633.9" x2="1075.0" y2="633.9" stroke="#000" stroke-width="1.8"/>
<line x1="1069.0" y1="715.4" x2="1075.0" y2="715.4" stroke="#000" stroke-width="1.8"/>
<line x1="1069.0" y1="796.9" x2="1075.0" y2="796.9" stroke="#000" stroke-width="1.8"/>
<text transform="translate(1106.44 413.00) rotate(0.03) scale(0.9638 1.0000)" font-size="28.21" stroke="#000" stroke-width="0.7">H<tspan dy="-14.67" font-size="18.05">+</tspan><tspan dy="14.67"> + e</tspan><tspan dy="-14.67" font-size="18.05">-</tspan></text>
<text transform="translate(1396.34 424.29) rotate(0.03) scale(0.9583 1.0000)" font-size="28.21" stroke="#000" stroke-width="0.7">*H</text>
<text transform="translate(1635.50 414.79) rotate(0.03) scale(0.9714 1.0000)" font-size="28.21" stroke="#000" stroke-width="0.7">1/2H<tspan dy="10.86" font-size="17.49">2</tspan></text>
<text transform="translate(1350.42 470.69) rotate(0.03) scale(0.9832 1.0000)" font-size="29.71" fill="#27b0d5" stroke="#27b0d5" stroke-width="0.7">-0.07 eV</text>
<text transform="translate(1350.42 574.29) rotate(0.03) scale(0.9832 1.0000)" font-size="29.71" fill="#800000" stroke="#800000" stroke-width="0.7">-0.13 eV</text>
<text transform="translate(1350.42 687.69) rotate(0.03) scale(0.9832 1.0000)" font-size="29.71" fill="#008080" stroke="#008080" stroke-width="0.7">-0.27 eV</text>
<text transform="translate(1350.42 772.69) rotate(0.03) scale(0.9832 1.0000)" font-size="29.71" fill="#ff8000" stroke="#ff8000" stroke-width="0.7">-0.43 eV</text>
<line x1="1591.3" y1="691.4" x2="1646.8" y2="691.4" stroke="#27b0d5" stroke-width="1.8"/>
<text transform="translate(1652.46 699.65) rotate(0.03) scale(0.9888 1.0000)" font-size="28.86" stroke="#000" stroke-width="0.35" class="r">Ru</text>
<line x1="1591.3" y1="726.4" x2="1646.8" y2="726.4" stroke="#800000" stroke-width="1.8"/>
<text transform="translate(1653.87 734.45) rotate(0.03) scale(0.9844 1.0000)" font-size="28.86" stroke="#000" stroke-width="0.35" class="r">Fe</text>
<line x1="1591.3" y1="761.3" x2="1646.8" y2="761.3" stroke="#ff8000" stroke-width="1.8"/>
<text transform="translate(1653.62 769.35) rotate(0.03) scale(0.9839 1.0000)" font-size="28.86" stroke="#000" stroke-width="0.35" class="r">Co</text>
<line x1="1591.3" y1="796.3" x2="1646.8" y2="796.3" stroke="#008080" stroke-width="1.8"/>
<text transform="translate(1653.83 804.55) rotate(0.03) scale(1.0041 1.0000)" font-size="28.86" stroke="#000" stroke-width="0.35" class="r">Ni</text>
<text transform="translate(1273.34 878.39) rotate(0.03) scale(1.0115 1.0000)" font-size="27.11" stroke="#000" stroke-width="0.7">Reaction Coordinate</text>
<text transform="translate(1001.39 729.90) rotate(-89.97) scale(1.0451 1.0000)" font-size="27.11" stroke="#000" stroke-width="0.7">Gibbs free energy (eV)</text>
<text transform="translate(983.39 369.29) rotate(0.03) scale(0.9432 1.0000)" font-size="50.71" stroke="#000" stroke-width="0.7">c</text>
</g>
<g id="panel-d">
<clipPath id="cd"><rect x="95.0" y="911.8" width="869.2" height="489.9"/></clipPath>
<rect x="95.3" y="914.0" width="868.6" height="487.9" fill="none" stroke="#000" stroke-width="2.0"/>
<rect x="135.2" y="1011.3" width="51.7" height="273.5" fill="none" stroke="#ff7f8a" stroke-width="1.6" stroke-dasharray="4.9 5"/>
<rect x="200.4" y="1056.5" width="41.8" height="244.5" fill="none" stroke="#ff7f8a" stroke-width="1.6" stroke-dasharray="4.9 5"/>
<rect x="247.9" y="1054.4" width="61.2" height="244.8" fill="none" stroke="#ff7f8a" stroke-width="1.6" stroke-dasharray="4.9 5"/>
<rect x="670.8" y="980.3" width="51.7" height="409.7" fill="none" stroke="#ff7f8a" stroke-width="1.6" stroke-dasharray="4.9 5"/>
<g clip-path="url(#cd)">
<path d="M95.3,1313.3 95.8,1312.9 96.3,1314.4 96.8,1315.5 97.3,1318.9 97.8,1317.2 98.3,1322.2 98.8,1321.3 99.3,1323.7 99.8,1324.5 100.3,1327.1 100.8,1324.8 101.3,1327.4 101.8,1328.2 102.3,1330.4 102.8,1329.3 103.3,1331.1 103.8,1331.4 104.3,1333.0 104.8,1334.3 105.3,1333.7 105.8,1336.6 106.3,1337.0 106.8,1337.4 107.3,1338.6 107.8,1337.8 108.3,1338.8 108.8,1338.7 109.3,1339.7 109.8,1341.2 110.3,1340.5 110.8,1341.5 111.3,1341.9 111.8,1342.5 112.3,1343.3 112.8,1344.5 113.3,1344.2 113.8,1345.9 114.3,1347.5 114.8,1347.2 115.3,1346.9 115.8,1346.5 116.3,1347.1 116.8,1349.7 117.3,1348.5 117.8,1348.0 118.3,1349.1 118.8,1351.0 119.3,1349.7 119.8,1350.4 120.3,1350.4 120.8,1350.1 121.3,1349.7 121.8,1350.6 122.3,1350.9 122.8,1351.9 123.3,1352.5 123.8,1352.9 124.3,1352.5 124.8,1353.5 125.3,1352.0 125.8,1354.0 126.3,1353.3 126.8,1352.6 127.3,1353.4 127.8,1353.3 128.3,1354.4 128.8,1355.2 129.3,1356.3 129.8,1353.1 130.3,1353.4 130.8,1354.5 131.3,1355.2 131.8,1355.9 132.3,1355.8 132.8,1353.7 133.3,1355.4 133.8,1356.9 134.3,1356.7 134.8,1357.6 135.3,1357.0 135.8,1357.3 136.3,1357.8 136.8,1358.2 137.3,1357.9 137.8,1358.0 138.3,1357.4 138.8,1358.7 139.3,1358.5 139.8,1359.8 140.3,1360.1 140.8,1359.4 141.3,1358.9 141.8,1358.8 142.3,1360.0 142.8,1359.8 143.3,1359.6 143.8,1360.1 144.3,1359.7 144.8,1361.1 145.3,1360.1 145.8,1361.6 146.3,1361.1 146.8,1361.3 147.3,1359.8 147.8,1361.2 148.3,1361.8 148.8,1360.4 149.3,1361.1 149.8,1361.3 150.3,1360.0 150.8,1361.5 151.3,1362.0 151.8,1360.4 152.3,1361.6 152.8,1360.1 153.3,1361.5 153.8,1360.3 154.3,1363.0 154.8,1362.5 155.3,1362.3 155.8,1361.4 156.3,1363.4 156.8,1364.2 157.3,1360.6 157.8,1363.3 158.3,1363.6 158.8,1362.3 159.3,1360.8 159.8,1362.7 160.3,1361.9 160.8,1361.7 161.3,1361.1 161.8,1362.6 162.3,1362.9 162.8,1361.6 163.3,1362.5 163.8,1361.2 164.3,1363.2 164.8,1362.5 165.3,1362.4 165.8,1362.7 166.3,1363.5 166.8,1363.3 167.3,1363.1 167.8,1362.7 168.3,1362.9 168.8,1363.3 169.3,1363.1 169.8,1363.6 170.3,1362.6 170.8,1360.5 171.3,1363.7 171.8,1364.8 172.3,1363.1 172.8,1362.7 173.3,1362.6 173.8,1362.6 174.3,1362.8 174.8,1362.0 175.3,1362.6 175.8,1362.1 176.3,1363.2 176.8,1362.6 177.3,1363.2 177.8,1362.6 178.3,1363.9 178.8,1363.1 179.3,1364.9 179.8,1361.0 180.3,1362.2 180.8,1363.5 181.3,1365.1 181.8,1362.6 182.3,1362.8 182.8,1362.5 183.3,1364.0 183.8,1362.5 184.3,1363.4 184.8,1362.5 185.3,1361.5 185.8,1363.0 186.3,1363.2 186.8,1363.9 187.3,1362.7 187.8,1362.1 188.3,1363.2 188.8,1362.8 189.3,1362.7 189.8,1362.3 190.3,1363.6 190.8,1362.6 191.3,1364.1 191.8,1363.4 192.3,1362.8 192.8,1360.6 193.3,1362.6 193.8,1362.1 194.3,1362.4 194.8,1362.7 195.3,1361.5 195.8,1362.5 196.3,1361.1 196.8,1363.5 197.3,1360.4 197.8,1359.7 198.3,1360.0 198.8,1360.9 199.3,1360.7 199.8,1363.5 200.3,1361.5 200.8,1360.5 201.3,1362.6 201.8,1360.9 202.3,1360.2 202.8,1361.8 203.3,1361.7 203.8,1360.6 204.3,1362.2 204.8,1361.1 205.3,1362.5 205.8,1361.3 206.3,1362.2 206.8,1360.8 207.3,1359.5 207.8,1362.8 208.3,1360.2 208.8,1360.6 209.3,1360.1 209.8,1360.6 210.3,1361.0 210.8,1360.8 211.3,1361.3 211.8,1362.4 212.3,1360.8 212.8,1360.0 213.3,1360.0 213.8,1360.3 214.3,1359.3 214.8,1361.5 215.3,1360.1 215.8,1360.5 216.3,1361.0 216.8,1359.9 217.3,1360.3 217.8,1361.6 218.3,1361.2 218.8,1360.1 219.3,1361.9 219.8,1359.0 220.3,1359.9 220.8,1360.2 221.3,1357.8 221.8,1362.1 222.3,1360.7 222.8,1359.4 223.3,1362.2 223.8,1360.8 224.3,1360.8 224.8,1360.1 225.3,1360.7 225.8,1359.2 226.3,1361.4 226.8,1360.2 227.3,1360.3 227.8,1361.3 228.3,1360.4 228.8,1360.4 229.3,1360.6 229.8,1359.7 230.3,1361.3 230.8,1362.0 231.3,1361.4 231.8,1361.6 232.3,1360.1 232.8,1360.1 233.3,1359.8 233.8,1362.0 234.3,1360.6 234.8,1362.2 235.3,1360.2 235.8,1360.4 236.3,1360.9 236.8,1361.9 237.3,1361.1 237.8,1361.5 238.3,1361.4 238.8,1361.8 239.3,1360.5 239.8,1361.8 240.3,1361.6 240.8,1361.8 241.3,1362.5 241.8,1361.5 242.3,1362.3 242.8,1362.0 243.3,1362.6 243.8,1363.0 244.3,1361.5 244.8,1362.7 245.3,1363.9 245.8,1360.7 246.3,1360.9 246.8,1360.7 247.3,1361.0 247.8,1362.6 248.3,1360.9 248.8,1360.3 249.3,1361.1 249.8,1360.0 250.3,1361.5 250.8,1360.7 251.3,1361.4 251.8,1359.6 252.3,1362.9 252.8,1360.9 253.3,1360.9 253.8,1360.4 254.3,1359.9 254.8,1359.9 255.3,1360.5 255.8,1359.9 256.3,1361.0 256.8,1360.1 257.3,1361.4 257.8,1361.8 258.3,1360.2 258.8,1362.0 259.3,1360.7 259.8,1362.2 260.3,1361.9 260.8,1362.7 261.3,1360.9 261.8,1361.7 262.3,1363.1 262.8,1361.3 263.3,1360.0 263.8,1360.2 264.3,1359.6 264.8,1360.2 265.3,1361.6 265.8,1363.3 266.3,1361.9 266.8,1362.7 267.3,1362.3 267.8,1362.5 268.3,1362.3 268.8,1362.3 269.3,1363.1 269.8,1361.6 270.3,1363.8 270.8,1363.8 271.3,1362.8 271.8,1363.7 272.3,1362.5 272.8,1362.7 273.3,1363.4 273.8,1363.3 274.3,1363.2 274.8,1363.1 275.3,1363.2 275.8,1364.6 276.3,1361.8 276.8,1364.0 277.3,1363.4 277.8,1364.3 278.3,1364.2 278.8,1360.9 279.3,1363.8 279.8,1363.3 280.3,1362.7 280.8,1362.0 281.3,1363.0 281.8,1361.5 282.3,1363.5 282.8,1362.2 283.3,1363.5 283.8,1360.9 284.3,1359.7 284.8,1362.1 285.3,1362.3 285.8,1361.6 286.3,1360.2 286.8,1361.6 287.3,1362.8 287.8,1362.3 288.3,1362.7 288.8,1363.1 289.3,1362.6 289.8,1363.2 290.3,1362.9 290.8,1366.0 291.3,1364.1 291.8,1365.1 292.3,1363.7 292.8,1365.1 293.3,1363.0 293.8,1365.4 294.3,1364.7 294.8,1366.7 295.3,1363.5 295.8,1364.4 296.3,1364.8 296.8,1365.6 297.3,1364.0 297.8,1364.5 298.3,1362.8 298.8,1364.0 299.3,1365.2 299.8,1365.9 300.3,1364.7 300.8,1366.6 301.3,1366.1 301.8,1364.4 302.3,1362.4 302.8,1363.1 303.3,1364.1 303.8,1365.9 304.3,1365.2 304.8,1362.8 305.3,1364.5 305.8,1366.3 306.3,1364.6 306.8,1364.4 307.3,1367.0 307.8,1365.1 308.3,1364.7 308.8,1365.4 309.3,1365.0 309.8,1364.5 310.3,1366.1 310.8,1366.0 311.3,1365.9 311.8,1365.1 312.3,1366.5 312.8,1365.4 313.3,1365.9 313.8,1366.4 314.3,1366.0 314.8,1366.9 315.3,1365.7 315.8,1363.6 316.3,1364.1 316.8,1366.6 317.3,1365.0 317.8,1365.4 318.3,1364.4 318.8,1366.2 319.3,1364.8 319.8,1366.5 320.3,1364.7 320.8,1366.2 321.3,1365.7 321.8,1364.6 322.3,1366.2 322.8,1364.4 323.3,1364.4 323.8,1365.7 324.3,1364.2 324.8,1364.3 325.3,1364.5 325.8,1364.0 326.3,1366.1 326.8,1365.8 327.3,1365.2 327.8,1365.1 328.3,1365.6 328.8,1366.7 329.3,1366.0 329.8,1364.8 330.3,1366.1 330.8,1365.3 331.3,1365.3 331.8,1367.0 332.3,1365.0 332.8,1364.8 333.3,1363.5 333.8,1364.1 334.3,1365.9 334.8,1364.7 335.3,1365.8 335.8,1364.1 336.3,1364.5 336.8,1365.7 337.3,1366.5 337.8,1365.8 338.3,1366.3 338.8,1366.8 339.3,1366.1 339.8,1364.4 340.3,1365.1 340.8,1365.7 341.3,1364.6 341.8,1365.5 342.3,1363.8 342.8,1364.8 343.3,1366.2 343.8,1363.7 344.3,1364.7 344.8,1365.7 345.3,1363.9 345.8,1365.5 346.3,1364.7 346.8,1365.3 347.3,1365.0 347.8,1365.4 348.3,1364.7 348.8,1365.2 349.3,1364.6 349.8,1365.7 350.3,1366.9 350.8,1365.6 351.3,1365.6 351.8,1364.5 352.3,1366.0 352.8,1364.6 353.3,1364.5 353.8,1365.5 354.3,1365.1 354.8,1366.2 355.3,1366.5 355.8,1364.7 356.3,1365.6 356.8,1366.8 357.3,1366.0 357.8,1365.7 358.3,1366.4 358.8,1364.4 359.3,1365.3 359.8,1366.1 360.3,1366.2 360.8,1363.9 361.3,1364.4 361.8,1365.3 362.3,1364.5 362.8,1364.4 363.3,1365.5 363.8,1364.5 364.3,1363.0 364.8,1365.1 365.3,1364.3 365.8,1363.9 366.3,1363.3 366.8,1365.9 367.3,1363.1 367.8,1363.6 368.3,1364.8 368.8,1366.2 369.3,1366.2 369.8,1363.7 370.3,1364.5 370.8,1363.4 371.3,1365.4 371.8,1363.0 372.3,1364.4 372.8,1365.4 373.3,1364.2 373.8,1366.0 374.3,1364.0 374.8,1365.0 375.3,1365.3 375.8,1364.1 376.3,1365.3 376.8,1364.3 377.3,1362.3 377.8,1367.4 378.3,1364.4 378.8,1363.8 379.3,1362.4 379.8,1363.7 380.3,1363.2 380.8,1363.9 381.3,1363.6 381.8,1365.0 382.3,1363.1 382.8,1363.4 383.3,1363.5 383.8,1362.8 384.3,1362.6 384.8,1364.0 385.3,1363.7 385.8,1362.1 386.3,1361.7 386.8,1362.8 387.3,1363.8 387.8,1362.5 388.3,1364.3 388.8,1362.1 389.3,1362.6 389.8,1360.2 390.3,1361.8 390.8,1362.0 391.3,1362.7 391.8,1364.0 392.3,1362.5 392.8,1364.1 393.3,1363.3 393.8,1363.5 394.3,1361.9 394.8,1363.5 395.3,1361.0 395.8,1362.2 396.3,1360.8 396.8,1361.1 397.3,1360.1 397.8,1361.1 398.3,1361.9 398.8,1361.5 399.3,1360.5 399.8,1363.0 400.3,1361.8 400.8,1362.5 401.3,1362.3 401.8,1360.9 402.3,1359.7 402.8,1360.7 403.3,1362.6 403.8,1360.4 404.3,1362.0 404.8,1360.8 405.3,1361.5 405.8,1359.5 406.3,1362.2 406.8,1361.1 407.3,1362.0 407.8,1361.3 408.3,1361.8 408.8,1361.1 409.3,1361.9 409.8,1359.8 410.3,1360.1 410.8,1361.6 411.3,1360.8 411.8,1360.5 412.3,1360.2 412.8,1360.7 413.3,1359.6 413.8,1360.7 414.3,1359.3 414.8,1359.9 415.3,1361.2 415.8,1361.2 416.3,1359.0 416.8,1360.8 417.3,1358.9 417.8,1360.3 418.3,1357.8 418.8,1358.6 419.3,1358.9 419.8,1359.2 420.3,1360.6 420.8,1360.2 421.3,1360.7 421.8,1360.2 422.3,1358.8 422.8,1359.1 423.3,1360.2 423.8,1359.0 424.3,1358.7 424.8,1357.7 425.3,1358.3 425.8,1355.7 426.3,1358.1 426.8,1357.6 427.3,1359.0 427.8,1357.8 428.3,1357.8 428.8,1359.2 429.3,1357.0 429.8,1358.0 430.3,1356.0 430.8,1357.5 431.3,1357.7 431.8,1358.0 432.3,1356.5 432.8,1357.4 433.3,1357.3 433.8,1356.8 434.3,1356.8 434.8,1357.0 435.3,1356.7 435.8,1355.4 436.3,1355.0 436.8,1358.3 437.3,1357.3 437.8,1354.4 438.3,1355.8 438.8,1355.8 439.3,1355.7 439.8,1355.2 440.3,1354.0 440.8,1354.6 441.3,1354.2 441.8,1354.5 442.3,1353.9 442.8,1353.9 443.3,1354.6 443.8,1354.6 444.3,1352.3 444.8,1352.9 445.3,1352.5 445.8,1354.1 446.3,1352.6 446.8,1353.7 447.3,1351.7 447.8,1351.6 448.3,1350.1 448.8,1352.6 449.3,1350.7 449.8,1349.3 450.3,1349.9 450.8,1348.0 451.3,1349.5 451.8,1349.2 452.3,1348.9 452.8,1349.5 453.3,1347.2 453.8,1347.6 454.3,1346.6 454.8,1345.7 455.3,1343.0 455.8,1345.1 456.3,1343.3 456.8,1343.0 457.3,1341.1 457.8,1342.0 458.3,1341.3 458.8,1340.6 459.3,1339.6 459.8,1339.8 460.3,1339.2 460.8,1338.2 461.3,1339.6 461.8,1335.5 462.3,1335.0 462.8,1333.5 463.3,1334.0 463.8,1332.2 464.3,1329.6 464.8,1330.1 465.3,1330.6 465.8,1331.1 466.3,1328.4 466.8,1329.2 467.3,1329.7 467.8,1329.4 468.3,1331.3 468.8,1331.5 469.3,1332.6 469.8,1332.6 470.3,1335.7 470.8,1335.0 471.3,1337.1 471.8,1336.3 472.3,1338.2 472.8,1337.9 473.3,1338.6 473.8,1339.5 474.3,1340.8 474.8,1341.3 475.3,1343.7 475.8,1341.8 476.3,1342.4 476.8,1345.4 477.3,1344.9 477.8,1343.1 478.3,1346.0 478.8,1346.2 479.3,1344.8 479.8,1347.0 480.3,1347.8 480.8,1348.7 481.3,1349.5 481.8,1348.9 482.3,1350.1 482.8,1349.5 483.3,1349.3 483.8,1349.5 484.3,1351.3 484.8,1349.3 485.3,1351.9 485.8,1350.6 486.3,1351.5 486.8,1352.6 487.3,1353.5 487.8,1351.0 488.3,1352.2 488.8,1353.1 489.3,1352.8 489.8,1354.1 490.3,1351.5 490.8,1354.0 491.3,1354.1 491.8,1354.0 492.3,1355.2 492.8,1353.4 493.3,1355.8 493.8,1354.4 494.3,1355.9 494.8,1355.1 495.3,1356.3 495.8,1356.4 496.3,1354.6 496.8,1355.9 497.3,1356.2 497.8,1356.0 498.3,1355.8 498.8,1358.4 499.3,1356.9 499.8,1358.2 500.3,1356.6 500.8,1356.3 501.3,1357.4 501.8,1356.7 502.3,1359.5 502.8,1357.6 503.3,1358.3 503.8,1356.9 504.3,1357.0 504.8,1357.3 505.3,1357.7 505.8,1358.4 506.3,1357.5 506.8,1357.1 507.3,1356.8 507.8,1357.7 508.3,1358.3 508.8,1358.5 509.3,1358.2 509.8,1357.7 510.3,1358.5 510.8,1358.9 511.3,1358.3 511.8,1358.6 512.3,1358.2 512.8,1359.1 513.3,1358.0 513.8,1358.7 514.3,1358.9 514.8,1359.5 515.3,1360.2 515.8,1359.4 516.3,1359.2 516.8,1357.2 517.3,1359.1 517.8,1360.7 518.3,1357.8 518.8,1357.8 519.3,1358.6 519.8,1359.6 520.3,1359.3 520.8,1358.4 521.3,1358.7 521.8,1359.6 522.3,1359.4 522.8,1361.0 523.3,1359.3 523.8,1358.6 524.3,1358.8 524.8,1357.6 525.3,1357.0 525.8,1358.1 526.3,1358.6 526.8,1357.0 527.3,1357.8 527.8,1357.7 528.3,1358.3 528.8,1357.6 529.3,1358.2 529.8,1357.7 530.3,1358.6 530.8,1355.9 531.3,1358.8 531.8,1358.5 532.3,1357.3 532.8,1357.7 533.3,1357.6 533.8,1356.2 534.3,1356.5 534.8,1356.6 535.3,1355.9 535.8,1356.3 536.3,1355.0 536.8,1354.7 537.3,1353.4 537.8,1353.4 538.3,1352.8 538.8,1354.4 539.3,1352.6 539.8,1351.0 540.3,1351.6 540.8,1350.7 541.3,1347.5 541.8,1350.6 542.3,1348.4 542.8,1350.0 543.3,1348.2 543.8,1347.4 544.3,1348.7 544.8,1346.4 545.3,1347.2 545.8,1347.6 546.3,1347.6 546.8,1347.5 547.3,1346.6 547.8,1345.8 548.3,1348.0 548.8,1345.6 549.3,1347.7 549.8,1345.7 550.3,1346.9 550.8,1346.9 551.3,1345.1 551.8,1346.4 552.3,1346.8 552.8,1346.9 553.3,1346.5 553.8,1347.0 554.3,1346.5 554.8,1346.1 555.3,1348.1 555.8,1346.9 556.3,1349.0 556.8,1348.8 557.3,1348.1 557.8,1349.7 558.3,1350.4 558.8,1350.7 559.3,1353.1 559.8,1353.1 560.3,1356.3 560.8,1356.5 561.3,1356.1 561.8,1357.8 562.3,1358.2 562.8,1357.4 563.3,1360.2 563.8,1360.3 564.3,1360.9 564.8,1360.2 565.3,1362.0 565.8,1361.2 566.3,1362.8 566.8,1363.8 567.3,1362.8 567.8,1361.6 568.3,1363.0 568.8,1364.1 569.3,1365.1 569.8,1363.0 570.3,1364.3 570.8,1364.9 571.3,1365.3 571.8,1365.7 572.3,1364.1 572.8,1364.5 573.3,1366.0 573.8,1365.4 574.3,1365.7 574.8,1366.2 575.3,1365.4 575.8,1365.8 576.3,1365.2 576.8,1364.1 577.3,1364.4 577.8,1365.8 578.3,1365.7 578.8,1365.2 579.3,1366.3 579.8,1365.3 580.3,1366.2 580.8,1366.1 581.3,1365.4 581.8,1364.0 582.3,1367.2 582.8,1366.4 583.3,1363.6 583.8,1365.5 584.3,1366.5 584.8,1366.0 585.3,1366.8 585.8,1365.4 586.3,1366.9 586.8,1366.6 587.3,1366.6 587.8,1366.4 588.3,1366.9 588.8,1367.3 589.3,1366.2 589.8,1366.2 590.3,1367.0 590.8,1366.8 591.3,1367.2 591.8,1367.4 592.3,1367.9 592.8,1366.6 593.3,1364.9 593.8,1367.1 594.3,1367.6 594.8,1367.3 595.3,1367.1 595.8,1364.8 596.3,1367.6 596.8,1366.8 597.3,1365.6 597.8,1366.2 598.3,1366.3 598.8,1367.7 599.3,1367.6 599.8,1368.5 600.3,1368.0 600.8,1366.2 601.3,1366.2 601.8,1368.5 602.3,1368.8 602.8,1367.0 603.3,1367.6 603.8,1365.6 604.3,1365.1 604.8,1365.9 605.3,1366.8 605.8,1366.8 606.3,1367.2 606.8,1367.2 607.3,1368.3 607.8,1368.8 608.3,1367.5 608.8,1369.2 609.3,1366.7 609.8,1366.9 610.3,1367.9 610.8,1367.2 611.3,1368.7 611.8,1367.2 612.3,1369.0 612.8,1367.8 613.3,1370.0 613.8,1367.1 614.3,1367.2 614.8,1367.7 615.3,1365.6 615.8,1368.2 616.3,1368.2 616.8,1367.9 617.3,1366.3 617.8,1366.6 618.3,1368.6 618.8,1369.1 619.3,1369.4 619.8,1367.2 620.3,1366.8 620.8,1367.7 621.3,1366.0 621.8,1367.3 622.3,1368.8 622.8,1369.4 623.3,1368.1 623.8,1369.7 624.3,1368.6 624.8,1368.3 625.3,1368.2 625.8,1368.5 626.3,1368.0 626.8,1368.0 627.3,1367.6 627.8,1368.4 628.3,1368.2 628.8,1366.7 629.3,1368.0 629.8,1367.3 630.3,1366.4 630.8,1368.8 631.3,1369.9 631.8,1370.5 632.3,1369.7 632.8,1367.5 633.3,1369.3 633.8,1369.3 634.3,1366.6 634.8,1369.4 635.3,1369.1 635.8,1369.0 636.3,1369.4 636.8,1369.2 637.3,1370.5 637.8,1368.6 638.3,1368.5 638.8,1368.4 639.3,1368.6 639.8,1366.7 640.3,1369.7 640.8,1368.7 641.3,1369.0 641.8,1368.7 642.3,1368.5 642.8,1368.1 643.3,1368.3 643.8,1368.5 644.3,1369.3 644.8,1368.5 645.3,1368.3 645.8,1370.4 646.3,1367.5 646.8,1367.5 647.3,1369.1 647.8,1368.5 648.3,1367.0 648.8,1368.5 649.3,1368.3 649.8,1370.0 650.3,1368.2 650.8,1369.8 651.3,1369.2 651.8,1368.5 652.3,1368.8 652.8,1369.3 653.3,1366.8 653.8,1369.5 654.3,1368.8 654.8,1370.8 655.3,1368.6 655.8,1370.1 656.3,1366.7 656.8,1369.8 657.3,1369.2 657.8,1368.8 658.3,1369.0 658.8,1368.8 659.3,1369.3 659.8,1368.8 660.3,1367.3 660.8,1368.7 661.3,1370.9 661.8,1368.9 662.3,1369.1 662.8,1368.6 663.3,1369.3 663.8,1369.4 664.3,1369.0 664.8,1370.1 665.3,1368.3 665.8,1369.2 666.3,1369.6 666.8,1369.1 667.3,1368.1 667.8,1369.7 668.3,1368.1 668.8,1368.6 669.3,1368.0 669.8,1368.6 670.3,1368.2 670.8,1368.3 671.3,1369.4 671.8,1370.3 672.3,1368.4 672.8,1369.3 673.3,1368.4 673.8,1368.7 674.3,1369.8 674.8,1368.7 675.3,1367.9 675.8,1368.0 676.3,1368.0 676.8,1368.4 677.3,1369.3 677.8,1367.2 678.3,1367.4 678.8,1367.6 679.3,1366.8 679.8,1369.5 680.3,1368.2 680.8,1369.8 681.3,1366.4 681.8,1368.8 682.3,1366.7 682.8,1366.7 683.3,1366.3 683.8,1366.3 684.3,1365.7 684.8,1367.1 685.3,1365.5 685.8,1366.2 686.3,1366.3 686.8,1366.9 687.3,1366.4 687.8,1366.7 688.3,1367.0 688.8,1366.6 689.3,1367.0 689.8,1365.9 690.3,1366.3 690.8,1368.9 691.3,1367.3 691.8,1366.7 692.3,1368.6 692.8,1367.2 693.3,1366.8 693.8,1366.0 694.3,1368.3 694.8,1366.7 695.3,1367.2 695.8,1368.4 696.3,1368.1 696.8,1367.6 697.3,1367.3 697.8,1368.6 698.3,1369.4 698.8,1366.7 699.3,1367.6 699.8,1368.7 700.3,1367.6 700.8,1365.7 701.3,1365.7 701.8,1365.4 702.3,1365.0 702.8,1365.1 703.3,1365.8 703.8,1364.8 704.3,1365.8 704.8,1365.2 705.3,1364.6 705.8,1366.0 706.3,1365.6 706.8,1365.7 707.3,1366.5 707.8,1366.1 708.3,1365.7 708.8,1367.0 709.3,1366.7 709.8,1369.3 710.3,1368.0 710.8,1368.4 711.3,1368.7 711.8,1367.9 712.3,1369.3 712.8,1368.3 713.3,1367.9 713.8,1368.5 714.3,1369.6 714.8,1368.0 715.3,1369.8 715.8,1369.1 716.3,1370.4 716.8,1369.4 717.3,1371.8 717.8,1371.1 718.3,1369.3 718.8,1372.2 719.3,1370.4 719.8,1370.0 720.3,1369.8 720.8,1371.3 721.3,1372.3 721.8,1370.4 722.3,1369.9 722.8,1369.6 723.3,1371.9 723.8,1372.1 724.3,1370.1 724.8,1371.0 725.3,1370.6 725.8,1370.7 726.3,1371.7 726.8,1371.6 727.3,1371.6 727.8,1371.1 728.3,1372.2 728.8,1371.0 729.3,1371.2 729.8,1371.5 730.3,1370.4 730.8,1371.2 731.3,1371.4 731.8,1371.7 732.3,1370.4 732.8,1370.1 733.3,1372.8 733.8,1372.3 734.3,1372.2 734.8,1373.2 735.3,1372.1 735.8,1371.7 736.3,1372.4 736.8,1370.3 737.3,1371.1 737.8,1372.8 738.3,1372.2 738.8,1370.8 739.3,1372.3 739.8,1372.8 740.3,1372.5 740.8,1371.9 741.3,1371.3 741.8,1372.3 742.3,1372.3 742.8,1371.7 743.3,1372.5 743.8,1372.0 744.3,1372.0 744.8,1369.9 745.3,1372.6 745.8,1373.4 746.3,1371.6 746.8,1370.6 747.3,1372.6 747.8,1371.6 748.3,1371.0 748.8,1373.0 749.3,1370.9 749.8,1372.8 750.3,1371.1 750.8,1373.5 751.3,1372.6 751.8,1371.6 752.3,1372.0 752.8,1372.5 753.3,1372.9 753.8,1373.1 754.3,1372.8 754.8,1372.1 755.3,1373.2 755.8,1371.5 756.3,1373.5 756.8,1373.5 757.3,1373.8 757.8,1371.9 758.3,1372.5 758.8,1373.3 759.3,1372.7 759.8,1372.0 760.3,1372.8 760.8,1372.6 761.3,1373.4 761.8,1372.0 762.3,1372.9 762.8,1372.7 763.3,1373.2 763.8,1372.3 764.3,1372.5 764.8,1372.1 765.3,1372.1 765.8,1372.2 766.3,1372.0 766.8,1375.0 767.3,1371.5 767.8,1371.2 768.3,1371.4 768.8,1371.4 769.3,1372.0 769.8,1373.5 770.3,1373.8 770.8,1372.6 771.3,1370.0 771.8,1372.7 772.3,1371.2 772.8,1372.0 773.3,1371.5 773.8,1372.9 774.3,1371.8 774.8,1373.2 775.3,1372.6 775.8,1371.9 776.3,1372.3 776.8,1373.2 777.3,1371.9 777.8,1373.3 778.3,1372.3 778.8,1372.6 779.3,1373.2 779.8,1373.6 780.3,1372.8 780.8,1372.6 781.3,1373.4 781.8,1371.4 782.3,1374.3 782.8,1371.6 783.3,1373.5 783.8,1371.9 784.3,1372.7 784.8,1372.0 785.3,1372.4 785.8,1371.4 786.3,1370.3 786.8,1372.8 787.3,1372.1 787.8,1371.9 788.3,1371.9 788.8,1374.2 789.3,1371.6 789.8,1372.2 790.3,1370.9 790.8,1373.5 791.3,1371.4 791.8,1369.7 792.3,1374.6 792.8,1371.1 793.3,1373.2 793.8,1373.0 794.3,1372.8 794.8,1372.3 795.3,1372.7 795.8,1373.7 796.3,1372.2 796.8,1372.7 797.3,1373.2 797.8,1372.5 798.3,1372.2 798.8,1373.8 799.3,1372.8 799.8,1372.2 800.3,1371.5 800.8,1371.3 801.3,1373.2 801.8,1373.3 802.3,1370.1 802.8,1371.5 803.3,1372.8 803.8,1374.1 804.3,1374.1 804.8,1373.2 805.3,1373.9 805.8,1372.3 806.3,1373.5 806.8,1371.5 807.3,1372.2 807.8,1372.7 808.3,1374.4 808.8,1373.1 809.3,1372.7 809.8,1372.1 810.3,1371.3 810.8,1373.2 811.3,1372.1 811.8,1372.6 812.3,1371.6 812.8,1372.5 813.3,1370.9 813.8,1372.7 814.3,1373.5 814.8,1373.1 815.3,1374.2 815.8,1372.5 816.3,1372.7 816.8,1372.8 817.3,1371.5 817.8,1374.2 818.3,1373.2 818.8,1372.1 819.3,1371.5 819.8,1372.9 820.3,1373.2 820.8,1372.3 821.3,1372.2 821.8,1372.0 822.3,1372.2 822.8,1373.5 823.3,1373.7 823.8,1371.0 824.3,1372.5 824.8,1371.3 825.3,1371.2 825.8,1372.9 826.3,1371.5 826.8,1369.4 827.3,1372.7 827.8,1373.3 828.3,1373.9 828.8,1371.9 829.3,1373.6 829.8,1369.9 830.3,1371.3 830.8,1372.6 831.3,1372.5 831.8,1373.1 832.3,1372.9 832.8,1371.7 833.3,1373.2 833.8,1372.3 834.3,1373.2 834.8,1370.5 835.3,1371.4 835.8,1370.5 836.3,1371.5 836.8,1370.4 837.3,1370.5 837.8,1369.5 838.3,1371.1 838.8,1371.8 839.3,1371.4 839.8,1367.6 840.3,1368.8 840.8,1371.9 841.3,1369.7 841.8,1369.9 842.3,1371.1 842.8,1370.0 843.3,1369.2 843.8,1369.5 844.3,1371.2 844.8,1367.9 845.3,1370.4 845.8,1368.8 846.3,1368.7 846.8,1370.8 847.3,1368.4 847.8,1369.8 848.3,1368.6 848.8,1367.9 849.3,1368.7 849.8,1369.9 850.3,1368.4 850.8,1369.3 851.3,1368.8 851.8,1368.7 852.3,1368.5 852.8,1369.3 853.3,1367.4 853.8,1369.0 854.3,1368.0 854.8,1370.1 855.3,1370.2 855.8,1369.1 856.3,1370.8 856.8,1370.7 857.3,1370.4 857.8,1370.1 858.3,1371.1 858.8,1371.7 859.3,1370.0 859.8,1370.0 860.3,1371.9 860.8,1368.8 861.3,1368.9 861.8,1369.8 862.3,1372.0 862.8,1372.2 863.3,1372.7 863.8,1372.6 864.3,1374.1 864.8,1374.2 865.3,1373.8 865.8,1371.7 866.3,1373.2 866.8,1372.4 867.3,1372.8 867.8,1372.6 868.3,1373.7 868.8,1374.2 869.3,1373.8 869.8,1372.6 870.3,1372.1 870.8,1372.8 871.3,1372.6 871.8,1373.9 872.3,1373.0 872.8,1373.2 873.3,1373.3 873.8,1374.5 874.3,1375.1 874.8,1373.9 875.3,1373.4 875.8,1375.0 876.3,1374.2 876.8,1373.3 877.3,1374.7 877.8,1374.0 878.3,1372.6 878.8,1374.5 879.3,1374.3 879.8,1372.4 880.3,1372.1 880.8,1374.2 881.3,1374.6 881.8,1374.6 882.3,1372.7 882.8,1373.8 883.3,1374.9 883.8,1373.0 884.3,1374.7 884.8,1375.1 885.3,1375.4 885.8,1372.2 886.3,1374.4 886.8,1375.9 887.3,1373.3 887.8,1373.6 888.3,1375.0 888.8,1373.7 889.3,1375.4 889.8,1375.0 890.3,1373.3 890.8,1374.8 891.3,1373.1 891.8,1375.6 892.3,1373.4 892.8,1373.1 893.3,1373.7 893.8,1374.0 894.3,1375.8 894.8,1374.4 895.3,1374.8 895.8,1375.5 896.3,1373.9 896.8,1373.9 897.3,1373.6 897.8,1375.1 898.3,1375.9 898.8,1374.9 899.3,1374.2 899.8,1374.5 900.3,1374.0 900.8,1375.9 901.3,1374.4 901.8,1375.0 902.3,1374.0 902.8,1373.4 903.3,1372.7 903.8,1374.1 904.3,1375.1 904.8,1374.7 905.3,1374.7 905.8,1374.0 906.3,1374.1 906.8,1374.1 907.3,1375.3 907.8,1376.9 908.3,1374.7 908.8,1373.4 909.3,1375.7 909.8,1373.8 910.3,1375.3 910.8,1374.4 911.3,1375.1 911.8,1378.3 912.3,1374.4 912.8,1374.5 913.3,1375.5 913.8,1375.2 914.3,1374.9 914.8,1374.5 915.3,1375.7 915.8,1376.0 916.3,1374.0 916.8,1373.8 917.3,1376.8 917.8,1373.8 918.3,1376.0 918.8,1375.7 919.3,1374.1 919.8,1375.6 920.3,1374.0 920.8,1373.9 921.3,1373.7 921.8,1375.8 922.3,1374.6 922.8,1376.0 923.3,1374.4 923.8,1375.6 924.3,1376.4 924.8,1374.9 925.3,1373.8 925.8,1374.5 926.3,1376.0 926.8,1375.7 927.3,1374.8 927.8,1373.6 928.3,1375.9 928.8,1377.0 929.3,1377.0 929.8,1376.0 930.3,1375.5 930.8,1375.1 931.3,1375.2 931.8,1374.1 932.3,1377.4 932.8,1375.4 933.3,1377.7 933.8,1375.6 934.3,1374.2 934.8,1377.6 935.3,1375.2 935.8,1375.6 936.3,1377.2 936.8,1377.1 937.3,1373.7 937.8,1375.7 938.3,1374.7 938.8,1376.3 939.3,1377.2 939.8,1375.3 940.3,1377.0 940.8,1374.4 941.3,1377.4 941.8,1374.8 942.3,1375.2 942.8,1375.9 943.3,1374.5 943.8,1377.2 944.3,1374.6 944.8,1376.4 945.3,1374.4 945.8,1375.8 946.3,1375.7 946.8,1375.4 947.3,1376.0 947.8,1374.6 948.3,1377.0 948.8,1375.8 949.3,1373.1 949.8,1377.4 950.3,1376.1 950.8,1377.1 951.3,1375.7 951.8,1373.9 952.3,1375.5 952.8,1374.7 953.3,1375.7 953.8,1375.1 954.3,1375.5 954.8,1373.7 955.3,1375.5 955.8,1375.1 956.3,1376.2 956.8,1373.9 957.3,1375.2 957.8,1376.9 958.3,1374.3 958.8,1376.2 959.3,1376.8 959.8,1375.6 960.3,1376.6 960.8,1376.7 961.3,1377.0 961.8,1375.2 962.3,1375.4 962.8,1376.2 963.3,1374.7 963.8,1375.6" fill="none" stroke="#000000" stroke-width="2.3" stroke-linejoin="bevel"/>
<path d="M96.0,913.0 96.5,923.5 97.0,939.5 97.5,948.1 98.0,959.4 98.5,970.0 99.0,977.5 99.5,986.1 100.0,994.2 100.5,1003.0 101.0,1012.0 101.5,1017.0 102.0,1023.0 102.5,1031.5 103.0,1037.1 103.5,1044.0 104.0,1051.0 104.5,1054.5 105.0,1060.2 105.5,1064.2 106.0,1069.4 106.5,1073.9 107.0,1077.1 107.5,1081.7 108.0,1085.6 108.5,1088.8 109.0,1092.0 109.5,1095.3 110.0,1099.8 110.5,1103.1 111.0,1108.9 111.5,1107.9 112.0,1113.6 112.5,1116.9 113.0,1120.9 113.5,1123.0 114.0,1124.4 114.5,1127.8 115.0,1131.0 115.5,1132.4 116.0,1135.4 116.5,1134.8 117.0,1139.8 117.5,1141.2 118.0,1141.1 118.5,1143.9 119.0,1145.2 119.5,1146.3 120.0,1149.1 120.5,1152.0 121.0,1152.6 121.5,1154.6 122.0,1157.2 122.5,1159.6 123.0,1162.4 123.5,1163.0 124.0,1166.1 124.5,1167.8 125.0,1168.1 125.5,1171.7 126.0,1174.1 126.5,1176.3 127.0,1178.7 127.5,1178.4 128.0,1182.2 128.5,1183.4 129.0,1184.5 129.5,1188.5 130.0,1190.6 130.5,1191.2 131.0,1194.3 131.5,1195.1 132.0,1196.8 132.5,1197.0 133.0,1200.5 133.5,1197.3 134.0,1200.0 134.5,1200.7 135.0,1198.2 135.5,1200.0 136.0,1200.2 136.5,1201.1 137.0,1201.5 137.5,1200.0 138.0,1199.0 138.5,1201.6 139.0,1201.4 139.5,1199.9 140.0,1200.6 140.5,1200.6 141.0,1200.7 141.5,1200.5 142.0,1201.7 142.5,1198.7 143.0,1201.2 143.5,1200.4 144.0,1199.9 144.5,1201.1 145.0,1197.8 145.5,1201.2 146.0,1200.8 146.5,1200.2 147.0,1202.7 147.5,1203.4 148.0,1207.6 148.5,1208.4 149.0,1208.6 149.5,1209.0 150.0,1210.4 150.5,1211.6 151.0,1212.2 151.5,1212.6 152.0,1213.3 152.5,1214.3 153.0,1214.5 153.5,1214.8 154.0,1214.8 154.5,1218.5 155.0,1215.1 155.5,1215.9 156.0,1217.3 156.5,1216.6 157.0,1217.3 157.5,1217.3 158.0,1217.0 158.5,1215.6 159.0,1212.7 159.5,1213.3 160.0,1209.2 160.5,1209.2 161.0,1207.6 161.5,1206.2 162.0,1207.3 162.5,1206.6 163.0,1208.5 163.5,1207.0 164.0,1210.3 164.5,1210.8 165.0,1211.3 165.5,1210.3 166.0,1211.5 166.5,1209.9 167.0,1209.2 167.5,1213.6 168.0,1210.8 168.5,1211.0 169.0,1208.7 169.5,1209.5 170.0,1209.7 170.5,1211.0 171.0,1212.9 171.5,1215.3 172.0,1216.3 172.5,1221.3 173.0,1223.4 173.5,1226.2 174.0,1227.2 174.5,1231.3 175.0,1231.6 175.5,1232.8 176.0,1236.7 176.5,1237.1 177.0,1237.9 177.5,1240.3 178.0,1242.1 178.5,1242.9 179.0,1244.1 179.5,1248.4 180.0,1246.5 180.5,1248.0 181.0,1245.5 181.5,1248.4 182.0,1249.2 182.5,1248.5 183.0,1248.4 183.5,1250.0 184.0,1249.8 184.5,1249.8 185.0,1251.6 185.5,1251.9 186.0,1251.2 186.5,1250.6 187.0,1251.5 187.5,1251.9 188.0,1251.7 188.5,1249.7 189.0,1250.3 189.5,1251.0 190.0,1250.9 190.5,1250.9 191.0,1250.6 191.5,1249.0 192.0,1249.4 192.5,1249.1 193.0,1252.2 193.5,1250.7 194.0,1251.0 194.5,1251.2 195.0,1249.6 195.5,1248.5 196.0,1249.0 196.5,1249.4 197.0,1250.7 197.5,1250.1 198.0,1248.2 198.5,1249.7 199.0,1249.6 199.5,1247.8 200.0,1248.8 200.5,1247.2 201.0,1249.0 201.5,1248.2 202.0,1247.3 202.5,1247.6 203.0,1248.2 203.5,1247.2 204.0,1247.9 204.5,1247.7 205.0,1246.3 205.5,1246.6 206.0,1248.9 206.5,1246.8 207.0,1245.9 207.5,1246.5 208.0,1245.3 208.5,1247.4 209.0,1246.7 209.5,1247.4 210.0,1247.3 210.5,1246.6 211.0,1247.3 211.5,1246.6 212.0,1245.6 212.5,1245.3 213.0,1246.0 213.5,1243.9 214.0,1247.9 214.5,1244.9 215.0,1246.5 215.5,1245.5 216.0,1245.0 216.5,1246.8 217.0,1246.9 217.5,1247.0 218.0,1247.7 218.5,1246.7 219.0,1247.7 219.5,1247.8 220.0,1247.2 220.5,1247.3 221.0,1248.2 221.5,1247.8 222.0,1247.9 222.5,1245.6 223.0,1248.0 223.5,1248.4 224.0,1248.0 224.5,1248.5 225.0,1250.0 225.5,1248.3 226.0,1249.0 226.5,1247.8 227.0,1247.8 227.5,1248.2 228.0,1247.7 228.5,1248.6 229.0,1247.6 229.5,1248.3 230.0,1247.0 230.5,1246.5 231.0,1247.2 231.5,1246.6 232.0,1246.7 232.5,1246.4 233.0,1246.4 233.5,1247.5 234.0,1247.4 234.5,1246.4 235.0,1245.3 235.5,1246.7 236.0,1243.8 236.5,1243.3 237.0,1245.3 237.5,1244.9 238.0,1244.9 238.5,1245.1 239.0,1243.6 239.5,1244.5 240.0,1247.0 240.5,1247.3 241.0,1246.0 241.5,1248.8 242.0,1246.4 242.5,1247.2 243.0,1248.1 243.5,1247.1 244.0,1248.0 244.5,1248.3 245.0,1248.3 245.5,1249.7 246.0,1249.6 246.5,1248.1 247.0,1248.5 247.5,1249.2 248.0,1248.7 248.5,1247.6 249.0,1248.6 249.5,1248.6 250.0,1246.9 250.5,1247.8 251.0,1245.4 251.5,1245.1 252.0,1246.7 252.5,1245.4 253.0,1245.3 253.5,1245.9 254.0,1245.4 254.5,1246.5 255.0,1244.8 255.5,1245.8 256.0,1249.2 256.5,1246.6 257.0,1245.0 257.5,1247.5 258.0,1247.8 258.5,1248.8 259.0,1248.0 259.5,1247.4 260.0,1250.0 260.5,1249.7 261.0,1247.9 261.5,1250.5 262.0,1250.1 262.5,1251.7 263.0,1250.9 263.5,1252.1 264.0,1251.9 264.5,1252.4 265.0,1252.0 265.5,1251.7 266.0,1252.6 266.5,1253.5 267.0,1253.8 267.5,1255.0 268.0,1254.1 268.5,1254.2 269.0,1255.4 269.5,1253.3 270.0,1253.8 270.5,1252.7 271.0,1253.3 271.5,1254.8 272.0,1253.7 272.5,1254.9 273.0,1252.6 273.5,1252.2 274.0,1254.0 274.5,1252.4 275.0,1256.0 275.5,1254.6 276.0,1252.1 276.5,1253.2 277.0,1252.7 277.5,1253.5 278.0,1253.1 278.5,1253.9 279.0,1254.3 279.5,1252.6 280.0,1251.8 280.5,1253.4 281.0,1252.8 281.5,1253.9 282.0,1252.6 282.5,1253.3 283.0,1252.8 283.5,1252.1 284.0,1250.9 284.5,1250.9 285.0,1251.1 285.5,1248.1 286.0,1245.8 286.5,1245.3 287.0,1243.3 287.5,1240.8 288.0,1241.1 288.5,1241.5 289.0,1240.2 289.5,1240.5 290.0,1243.3 290.5,1246.3 291.0,1247.2 291.5,1248.3 292.0,1250.8 292.5,1251.3 293.0,1251.3 293.5,1250.6 294.0,1251.3 294.5,1251.2 295.0,1252.1 295.5,1251.0 296.0,1253.4 296.5,1252.3 297.0,1252.0 297.5,1253.4 298.0,1250.9 298.5,1252.2 299.0,1252.4 299.5,1253.9 300.0,1252.7 300.5,1254.4 301.0,1252.9 301.5,1254.1 302.0,1253.1 302.5,1254.8 303.0,1253.7 303.5,1254.3 304.0,1253.2 304.5,1252.6 305.0,1253.7 305.5,1254.8 306.0,1253.1 306.5,1252.9 307.0,1254.0 307.5,1255.0 308.0,1253.5 308.5,1254.0 309.0,1254.4 309.5,1254.2 310.0,1254.9 310.5,1255.5 311.0,1254.4 311.5,1254.6 312.0,1255.3 312.5,1254.3 313.0,1253.6 313.5,1253.6 314.0,1253.3 314.5,1255.9 315.0,1254.2 315.5,1254.7 316.0,1254.8 316.5,1253.4 317.0,1255.1 317.5,1254.0 318.0,1252.7 318.5,1254.6 319.0,1253.9 319.5,1254.7 320.0,1255.4 320.5,1257.1 321.0,1254.4 321.5,1254.6 322.0,1255.1 322.5,1255.0 323.0,1254.5 323.5,1253.8 324.0,1253.9 324.5,1254.4 325.0,1253.5 325.5,1254.1 326.0,1253.7 326.5,1256.0 327.0,1253.5 327.5,1256.7 328.0,1254.2 328.5,1253.6 329.0,1253.5 329.5,1255.4 330.0,1255.7 330.5,1254.3 331.0,1255.6 331.5,1255.2 332.0,1255.1 332.5,1255.5 333.0,1255.9 333.5,1253.3 334.0,1253.0 334.5,1255.1 335.0,1254.9 335.5,1255.6 336.0,1253.6 336.5,1254.1 337.0,1256.5 337.5,1254.0 338.0,1255.5 338.5,1254.3 339.0,1254.7 339.5,1254.0 340.0,1256.1 340.5,1253.3 341.0,1253.8 341.5,1254.3 342.0,1256.1 342.5,1255.3 343.0,1255.8 343.5,1255.1 344.0,1255.3 344.5,1255.6 345.0,1256.7 345.5,1255.2 346.0,1253.7 346.5,1255.9 347.0,1255.1 347.5,1254.2 348.0,1255.2 348.5,1254.4 349.0,1257.3 349.5,1254.7 350.0,1253.2 350.5,1255.4 351.0,1254.4 351.5,1256.3 352.0,1255.5 352.5,1253.5 353.0,1254.5 353.5,1254.0 354.0,1254.3 354.5,1254.2 355.0,1252.8 355.5,1254.7 356.0,1253.5 356.5,1253.3 357.0,1254.9 357.5,1256.1 358.0,1253.5 358.5,1255.5 359.0,1251.6 359.5,1253.5 360.0,1252.0 360.5,1252.4 361.0,1251.7 361.5,1252.2 362.0,1252.4 362.5,1252.2 363.0,1252.9 363.5,1254.3 364.0,1251.4 364.5,1251.8 365.0,1250.3 365.5,1249.3 366.0,1252.6 366.5,1250.1 367.0,1250.3 367.5,1250.8 368.0,1251.6 368.5,1251.1 369.0,1252.3 369.5,1250.3 370.0,1248.8 370.5,1250.4 371.0,1249.9 371.5,1248.9 372.0,1249.5 372.5,1249.2 373.0,1251.4 373.5,1249.5 374.0,1248.8 374.5,1250.5 375.0,1248.7 375.5,1250.9 376.0,1251.2 376.5,1250.5 377.0,1251.1 377.5,1251.3 378.0,1253.6 378.5,1252.7 379.0,1251.2 379.5,1251.4 380.0,1252.6 380.5,1252.7 381.0,1252.0 381.5,1253.1 382.0,1252.6 382.5,1253.7 383.0,1253.0 383.5,1252.5 384.0,1252.5 384.5,1251.3 385.0,1253.0 385.5,1252.5 386.0,1251.6 386.5,1252.1 387.0,1251.3 387.5,1253.9 388.0,1251.0 388.5,1251.8 389.0,1251.6 389.5,1250.3 390.0,1250.8 390.5,1250.5 391.0,1250.7 391.5,1250.4 392.0,1250.9 392.5,1250.7 393.0,1249.5 393.5,1249.5 394.0,1249.4 394.5,1249.0 395.0,1248.1 395.5,1249.8 396.0,1248.9 396.5,1248.6 397.0,1247.1 397.5,1247.0 398.0,1246.2 398.5,1248.3 399.0,1248.7 399.5,1248.3 400.0,1247.6 400.5,1246.4 401.0,1247.2 401.5,1247.2 402.0,1247.9 402.5,1247.5 403.0,1246.6 403.5,1246.3 404.0,1246.7 404.5,1246.3 405.0,1245.8 405.5,1243.7 406.0,1245.2 406.5,1246.5 407.0,1245.7 407.5,1246.3 408.0,1244.7 408.5,1244.8 409.0,1245.4 409.5,1245.2 410.0,1244.7 410.5,1245.3 411.0,1245.4 411.5,1245.2 412.0,1242.0 412.5,1243.0 413.0,1243.1 413.5,1242.8 414.0,1241.4 414.5,1244.1 415.0,1241.6 415.5,1242.6 416.0,1240.2 416.5,1242.0 417.0,1242.0 417.5,1241.4 418.0,1242.6 418.5,1243.8 419.0,1240.7 419.5,1240.4 420.0,1242.5 420.5,1241.2 421.0,1240.3 421.5,1239.2 422.0,1240.8 422.5,1240.0 423.0,1241.2 423.5,1238.6 424.0,1238.9 424.5,1238.7 425.0,1238.6 425.5,1239.6 426.0,1239.3 426.5,1237.9 427.0,1238.1 427.5,1237.7 428.0,1238.3 428.5,1237.0 429.0,1235.8 429.5,1236.0 430.0,1236.3 430.5,1237.0 431.0,1237.1 431.5,1237.1 432.0,1235.8 432.5,1234.4 433.0,1235.1 433.5,1234.0 434.0,1233.2 434.5,1233.9 435.0,1233.7 435.5,1233.7 436.0,1231.8 436.5,1230.7 437.0,1232.3 437.5,1230.6 438.0,1232.1 438.5,1229.6 439.0,1229.7 439.5,1228.1 440.0,1231.2 440.5,1228.3 441.0,1228.0 441.5,1227.1 442.0,1226.9 442.5,1227.4 443.0,1226.4 443.5,1226.1 444.0,1226.7 444.5,1223.7 445.0,1225.3 445.5,1225.1 446.0,1221.7 446.5,1222.7 447.0,1220.7 447.5,1219.2 448.0,1219.4 448.5,1220.0 449.0,1219.4 449.5,1217.5 450.0,1216.2 450.5,1216.0 451.0,1214.6 451.5,1213.7 452.0,1211.1 452.5,1212.0 453.0,1210.7 453.5,1212.0 454.0,1209.6 454.5,1207.7 455.0,1207.0 455.5,1206.1 456.0,1203.9 456.5,1201.2 457.0,1201.0 457.5,1199.9 458.0,1198.8 458.5,1196.2 459.0,1194.5 459.5,1193.6 460.0,1192.3 460.5,1191.1 461.0,1189.1 461.5,1188.7 462.0,1186.4 462.5,1187.2 463.0,1185.7 463.5,1183.6 464.0,1183.5 464.5,1182.7 465.0,1180.6 465.5,1181.3 466.0,1179.4 466.5,1179.5 467.0,1177.9 467.5,1178.9 468.0,1179.4 468.5,1178.9 469.0,1180.2 469.5,1181.3 470.0,1183.8 470.5,1185.3 471.0,1187.8 471.5,1189.3 472.0,1190.0 472.5,1191.6 473.0,1193.9 473.5,1196.0 474.0,1199.1 474.5,1199.3 475.0,1199.6 475.5,1199.7 476.0,1203.8 476.5,1204.7 477.0,1204.8 477.5,1208.1 478.0,1208.9 478.5,1209.6 479.0,1209.3 479.5,1213.0 480.0,1213.1 480.5,1213.8 481.0,1214.1 481.5,1215.6 482.0,1218.2 482.5,1218.7 483.0,1220.8 483.5,1220.7 484.0,1221.0 484.5,1222.4 485.0,1222.3 485.5,1221.6 486.0,1223.2 486.5,1224.7 487.0,1224.4 487.5,1225.3 488.0,1225.3 488.5,1228.6 489.0,1226.5 489.5,1227.2 490.0,1227.8 490.5,1229.9 491.0,1230.5 491.5,1229.2 492.0,1230.5 492.5,1229.6 493.0,1230.8 493.5,1233.6 494.0,1232.4 494.5,1231.7 495.0,1230.7 495.5,1232.0 496.0,1231.1 496.5,1230.6 497.0,1233.6 497.5,1233.8 498.0,1233.6 498.5,1234.5 499.0,1232.3 499.5,1235.3 500.0,1233.4 500.5,1234.9 501.0,1235.3 501.5,1236.3 502.0,1237.3 502.5,1236.0 503.0,1235.7 503.5,1235.3 504.0,1236.7 504.5,1235.9 505.0,1235.8 505.5,1237.1 506.0,1238.2 506.5,1237.6 507.0,1237.0 507.5,1238.1 508.0,1237.0 508.5,1236.7 509.0,1239.2 509.5,1237.8 510.0,1238.9 510.5,1235.4 511.0,1237.3 511.5,1235.7 512.0,1238.2 512.5,1235.6 513.0,1235.6 513.5,1236.7 514.0,1237.2 514.5,1237.1 515.0,1239.0 515.5,1239.3 516.0,1240.0 516.5,1239.9 517.0,1239.3 517.5,1239.4 518.0,1240.5 518.5,1239.3 519.0,1241.7 519.5,1240.3 520.0,1239.5 520.5,1241.3 521.0,1240.2 521.5,1241.2 522.0,1240.3 522.5,1241.8 523.0,1240.0 523.5,1238.5 524.0,1239.3 524.5,1239.2 525.0,1241.2 525.5,1242.2 526.0,1240.3 526.5,1239.2 527.0,1241.0 527.5,1241.0 528.0,1240.1 528.5,1240.9 529.0,1240.4 529.5,1239.3 530.0,1240.6 530.5,1239.4 531.0,1239.0 531.5,1239.3 532.0,1241.0 532.5,1241.4 533.0,1240.7 533.5,1238.5 534.0,1238.2 534.5,1239.2 535.0,1238.5 535.5,1238.4 536.0,1237.1 536.5,1236.6 537.0,1236.1 537.5,1237.6 538.0,1237.6 538.5,1235.8 539.0,1237.0 539.5,1236.9 540.0,1235.4 540.5,1235.9 541.0,1236.6 541.5,1234.6 542.0,1236.4 542.5,1234.8 543.0,1234.7 543.5,1233.8 544.0,1232.2 544.5,1233.6 545.0,1232.9 545.5,1232.2 546.0,1232.1 546.5,1232.5 547.0,1231.4 547.5,1230.8 548.0,1231.3 548.5,1231.8 549.0,1231.1 549.5,1230.5 550.0,1232.0 550.5,1230.9 551.0,1231.9 551.5,1231.3 552.0,1230.7 552.5,1230.7 553.0,1231.4 553.5,1232.2 554.0,1230.8 554.5,1233.6 555.0,1234.7 555.5,1233.9 556.0,1233.8 556.5,1233.9 557.0,1236.8 557.5,1238.3 558.0,1239.2 558.5,1241.3 559.0,1241.6 559.5,1243.5 560.0,1245.3 560.5,1246.4 561.0,1248.1 561.5,1249.4 562.0,1249.8 562.5,1250.5 563.0,1252.0 563.5,1255.1 564.0,1254.5 564.5,1257.0 565.0,1257.3 565.5,1261.5 566.0,1259.9 566.5,1261.7 567.0,1261.2 567.5,1265.6 568.0,1262.0 568.5,1263.9 569.0,1263.0 569.5,1265.4 570.0,1264.0 570.5,1265.4 571.0,1264.9 571.5,1266.4 572.0,1267.1 572.5,1269.2 573.0,1265.9 573.5,1268.9 574.0,1268.9 574.5,1268.6 575.0,1269.0 575.5,1269.8 576.0,1269.6 576.5,1269.7 577.0,1269.4 577.5,1270.2 578.0,1271.2 578.5,1270.0 579.0,1270.7 579.5,1271.6 580.0,1272.0 580.5,1272.1 581.0,1272.0 581.5,1270.5 582.0,1273.3 582.5,1273.5 583.0,1274.0 583.5,1273.3 584.0,1273.9 584.5,1272.9 585.0,1272.5 585.5,1273.4 586.0,1273.6 586.5,1275.3 587.0,1275.4 587.5,1274.3 588.0,1275.0 588.5,1275.5 589.0,1275.4 589.5,1276.9 590.0,1275.2 590.5,1276.7 591.0,1274.2 591.5,1275.1 592.0,1277.2 592.5,1276.2 593.0,1276.1 593.5,1276.9 594.0,1276.2 594.5,1276.6 595.0,1277.0 595.5,1277.3 596.0,1277.3 596.5,1276.7 597.0,1277.8 597.5,1277.0 598.0,1278.2 598.5,1277.8 599.0,1278.3 599.5,1278.3 600.0,1277.5 600.5,1277.7 601.0,1278.2 601.5,1278.6 602.0,1279.2 602.5,1278.5 603.0,1278.2 603.5,1279.3 604.0,1279.6 604.5,1280.3 605.0,1280.9 605.5,1281.5 606.0,1278.3 606.5,1279.4 607.0,1280.1 607.5,1280.8 608.0,1280.9 608.5,1280.4 609.0,1281.1 609.5,1279.9 610.0,1280.2 610.5,1281.0 611.0,1279.8 611.5,1282.3 612.0,1280.2 612.5,1280.2 613.0,1281.5 613.5,1279.8 614.0,1281.6 614.5,1282.1 615.0,1283.5 615.5,1285.4 616.0,1282.6 616.5,1281.3 617.0,1282.8 617.5,1283.4 618.0,1281.9 618.5,1283.2 619.0,1284.4 619.5,1283.5 620.0,1282.4 620.5,1282.9 621.0,1281.9 621.5,1283.0 622.0,1283.0 622.5,1284.9 623.0,1282.0 623.5,1282.3 624.0,1284.2 624.5,1284.3 625.0,1283.5 625.5,1284.4 626.0,1284.9 626.5,1285.0 627.0,1284.9 627.5,1284.9 628.0,1283.2 628.5,1285.4 629.0,1285.0 629.5,1284.2 630.0,1284.8 630.5,1284.9 631.0,1284.8 631.5,1285.2 632.0,1285.3 632.5,1284.4 633.0,1287.9 633.5,1286.5 634.0,1288.3 634.5,1286.1 635.0,1287.9 635.5,1286.2 636.0,1287.7 636.5,1287.4 637.0,1287.0 637.5,1286.2 638.0,1286.8 638.5,1288.0 639.0,1285.0 639.5,1286.4 640.0,1286.1 640.5,1286.5 641.0,1288.1 641.5,1288.4 642.0,1287.6 642.5,1288.9 643.0,1287.3 643.5,1287.4 644.0,1288.2 644.5,1288.4 645.0,1288.1 645.5,1287.3 646.0,1288.7 646.5,1289.8 647.0,1288.3 647.5,1288.4 648.0,1287.6 648.5,1288.9 649.0,1288.2 649.5,1289.0 650.0,1290.7 650.5,1289.7 651.0,1288.6 651.5,1290.0 652.0,1287.7 652.5,1290.3 653.0,1289.8 653.5,1288.6 654.0,1289.5 654.5,1289.1 655.0,1291.9 655.5,1290.5 656.0,1289.1 656.5,1289.3 657.0,1289.9 657.5,1289.3 658.0,1290.1 658.5,1290.3 659.0,1288.9 659.5,1291.0 660.0,1292.2 660.5,1291.2 661.0,1291.4 661.5,1290.4 662.0,1290.5 662.5,1291.0 663.0,1290.0 663.5,1289.4 664.0,1291.8 664.5,1290.5 665.0,1291.5 665.5,1291.4 666.0,1291.5 666.5,1291.6 667.0,1291.5 667.5,1290.6 668.0,1291.4 668.5,1290.3 669.0,1290.5 669.5,1289.3 670.0,1290.0 670.5,1289.0 671.0,1290.8 671.5,1289.7 672.0,1288.5 672.5,1286.8 673.0,1287.6 673.5,1289.0 674.0,1287.0 674.5,1288.2 675.0,1286.8 675.5,1286.4 676.0,1285.5 676.5,1286.4 677.0,1286.8 677.5,1286.3 678.0,1285.4 678.5,1283.3 679.0,1283.3 679.5,1281.1 680.0,1279.9 680.5,1280.1 681.0,1277.5 681.5,1277.6 682.0,1275.7 682.5,1275.9 683.0,1271.9 683.5,1269.4 684.0,1266.5 684.5,1262.6 685.0,1259.1 685.5,1253.5 686.0,1253.2 686.5,1248.0 687.0,1246.3 687.5,1244.0 688.0,1246.3 688.5,1245.9 689.0,1246.4 689.5,1245.9 690.0,1246.8 690.5,1246.4 691.0,1246.8 691.5,1246.3 692.0,1240.4 692.5,1238.0 693.0,1232.8 693.5,1226.4 694.0,1222.1 694.5,1219.0 695.0,1213.3 695.5,1207.4 696.0,1203.3 696.5,1197.9 697.0,1191.3 697.5,1187.4 698.0,1182.8 698.5,1177.0 699.0,1171.9 699.5,1169.1 700.0,1170.6 700.5,1175.4 701.0,1184.0 701.5,1194.4 702.0,1206.7 702.5,1222.6 703.0,1239.5 703.5,1242.1 704.0,1244.4 704.5,1242.7 705.0,1247.1 705.5,1258.7 706.0,1275.8 706.5,1286.5 707.0,1290.1 707.5,1293.6 708.0,1293.3 708.5,1295.2 709.0,1297.2 709.5,1297.8 710.0,1296.3 710.5,1297.7 711.0,1299.4 711.5,1300.0 712.0,1298.4 712.5,1299.8 713.0,1297.7 713.5,1300.9 714.0,1301.7 714.5,1299.1 715.0,1300.2 715.5,1298.9 716.0,1299.8 716.5,1301.0 717.0,1301.2 717.5,1301.2 718.0,1299.8 718.5,1300.3 719.0,1302.9 719.5,1301.5 720.0,1300.8 720.5,1301.5 721.0,1300.8 721.5,1301.3 722.0,1300.4 722.5,1300.5 723.0,1299.7 723.5,1302.9 724.0,1302.2 724.5,1302.2 725.0,1302.3 725.5,1301.4 726.0,1300.7 726.5,1302.3 727.0,1302.9 727.5,1302.7 728.0,1301.8 728.5,1300.7 729.0,1303.0 729.5,1302.5 730.0,1302.3 730.5,1302.2 731.0,1302.5 731.5,1302.2 732.0,1301.7 732.5,1303.1 733.0,1303.1 733.5,1303.8 734.0,1303.4 734.5,1303.9 735.0,1302.9 735.5,1304.5 736.0,1306.1 736.5,1304.1 737.0,1305.0 737.5,1305.2 738.0,1304.8 738.5,1305.0 739.0,1303.5 739.5,1304.3 740.0,1306.7 740.5,1305.5 741.0,1305.7 741.5,1307.3 742.0,1304.0 742.5,1306.8 743.0,1306.6 743.5,1304.3 744.0,1305.5 744.5,1306.7 745.0,1305.7 745.5,1305.6 746.0,1307.0 746.5,1306.5 747.0,1307.1 747.5,1306.9 748.0,1307.6 748.5,1307.8 749.0,1309.8 749.5,1308.4 750.0,1307.5 750.5,1308.5 751.0,1308.5 751.5,1311.2 752.0,1306.7 752.5,1308.6 753.0,1308.2 753.5,1309.6 754.0,1307.6 754.5,1307.4 755.0,1308.8 755.5,1309.3 756.0,1308.9 756.5,1308.9 757.0,1308.5 757.5,1309.8 758.0,1309.2 758.5,1308.7 759.0,1310.7 759.5,1309.0 760.0,1308.4 760.5,1309.7 761.0,1310.1 761.5,1310.1 762.0,1309.5 762.5,1310.1 763.0,1309.4 763.5,1308.9 764.0,1311.2 764.5,1309.9 765.0,1311.4 765.5,1310.5 766.0,1310.9 766.5,1312.0 767.0,1308.9 767.5,1311.6 768.0,1310.8 768.5,1311.8 769.0,1310.6 769.5,1311.0 770.0,1310.7 770.5,1309.9 771.0,1311.0 771.5,1312.7 772.0,1312.4 772.5,1312.9 773.0,1311.4 773.5,1311.5 774.0,1311.5 774.5,1309.9 775.0,1311.6 775.5,1311.3 776.0,1312.7 776.5,1312.8 777.0,1312.5 777.5,1311.3 778.0,1311.6 778.5,1313.4 779.0,1312.6 779.5,1313.4 780.0,1312.2 780.5,1313.7 781.0,1312.7 781.5,1312.5 782.0,1313.3 782.5,1312.6 783.0,1312.2 783.5,1314.5 784.0,1314.1 784.5,1313.0 785.0,1313.4 785.5,1314.4 786.0,1313.0 786.5,1311.3 787.0,1315.7 787.5,1312.1 788.0,1313.2 788.5,1311.5 789.0,1311.3 789.5,1313.7 790.0,1312.3 790.5,1314.1 791.0,1313.4 791.5,1313.4 792.0,1314.4 792.5,1314.4 793.0,1315.2 793.5,1312.8 794.0,1313.6 794.5,1314.8 795.0,1315.1 795.5,1313.7 796.0,1313.3 796.5,1314.4 797.0,1311.8 797.5,1312.9 798.0,1316.0 798.5,1313.7 799.0,1317.0 799.5,1315.2 800.0,1315.3 800.5,1317.3 801.0,1315.7 801.5,1314.5 802.0,1314.3 802.5,1314.3 803.0,1313.0 803.5,1315.3 804.0,1315.1 804.5,1314.5 805.0,1316.1 805.5,1314.9 806.0,1313.8 806.5,1314.5 807.0,1315.5 807.5,1315.8 808.0,1317.3 808.5,1315.3 809.0,1316.2 809.5,1316.8 810.0,1316.7 810.5,1316.5 811.0,1315.2 811.5,1316.0 812.0,1318.3 812.5,1316.1 813.0,1315.7 813.5,1314.8 814.0,1316.2 814.5,1317.7 815.0,1316.0 815.5,1316.0 816.0,1316.6 816.5,1316.1 817.0,1315.9 817.5,1318.5 818.0,1317.3 818.5,1315.6 819.0,1317.1 819.5,1318.2 820.0,1317.0 820.5,1318.0 821.0,1316.2 821.5,1317.8 822.0,1317.2 822.5,1318.1 823.0,1317.6 823.5,1317.2 824.0,1318.0 824.5,1318.1 825.0,1318.0 825.5,1316.1 826.0,1316.9 826.5,1317.2 827.0,1317.4 827.5,1317.6 828.0,1317.9 828.5,1319.1 829.0,1319.6 829.5,1319.0 830.0,1318.3 830.5,1315.0 831.0,1317.3 831.5,1318.3 832.0,1317.0 832.5,1319.2 833.0,1317.5 833.5,1318.4 834.0,1318.1 834.5,1318.7 835.0,1317.0 835.5,1317.9 836.0,1317.6 836.5,1317.3 837.0,1316.8 837.5,1319.2 838.0,1317.4 838.5,1319.2 839.0,1318.5 839.5,1319.3 840.0,1319.1 840.5,1319.0 841.0,1317.8 841.5,1321.3 842.0,1319.8 842.5,1319.6 843.0,1316.8 843.5,1318.4 844.0,1318.4 844.5,1319.4 845.0,1318.8 845.5,1320.2 846.0,1319.8 846.5,1320.6 847.0,1321.1 847.5,1319.3 848.0,1319.4 848.5,1319.1 849.0,1321.0 849.5,1320.0 850.0,1319.8 850.5,1319.1 851.0,1320.8 851.5,1320.5 852.0,1320.7 852.5,1320.1 853.0,1319.2 853.5,1321.8 854.0,1320.6 854.5,1321.0 855.0,1320.5 855.5,1322.9 856.0,1321.0 856.5,1321.6 857.0,1321.6 857.5,1321.7 858.0,1323.5 858.5,1322.8 859.0,1322.4 859.5,1323.2 860.0,1323.2 860.5,1323.7 861.0,1323.2 861.5,1324.1 862.0,1322.3 862.5,1323.1 863.0,1324.9 863.5,1325.0 864.0,1322.8 864.5,1325.0 865.0,1325.0 865.5,1325.8 866.0,1324.0 866.5,1325.3 867.0,1325.6 867.5,1323.4 868.0,1324.4 868.5,1326.0 869.0,1325.1 869.5,1326.3 870.0,1325.9 870.5,1324.6 871.0,1326.0 871.5,1326.4 872.0,1325.8 872.5,1327.3 873.0,1325.1 873.5,1326.3 874.0,1326.0 874.5,1325.7 875.0,1325.1 875.5,1324.9 876.0,1325.8 876.5,1326.9 877.0,1326.5 877.5,1327.0 878.0,1326.7 878.5,1326.5 879.0,1327.3 879.5,1327.9 880.0,1326.0 880.5,1327.8 881.0,1326.1 881.5,1329.7 882.0,1327.0 882.5,1327.4 883.0,1328.6 883.5,1328.3 884.0,1329.0 884.5,1329.6 885.0,1328.2 885.5,1330.4 886.0,1328.0 886.5,1328.3 887.0,1329.3 887.5,1326.4 888.0,1328.1 888.5,1328.5 889.0,1329.8 889.5,1328.5 890.0,1330.0 890.5,1328.2 891.0,1330.2 891.5,1329.9 892.0,1328.6 892.5,1329.1 893.0,1329.3 893.5,1329.2 894.0,1329.0 894.5,1330.9 895.0,1330.1 895.5,1330.3 896.0,1328.5 896.5,1330.1 897.0,1331.3 897.5,1330.2 898.0,1329.6 898.5,1330.0 899.0,1330.9 899.5,1330.1 900.0,1328.5 900.5,1329.8 901.0,1330.8 901.5,1329.3 902.0,1330.8 902.5,1331.6 903.0,1333.3 903.5,1332.9 904.0,1331.9 904.5,1329.9 905.0,1331.6 905.5,1329.8 906.0,1330.0 906.5,1332.1 907.0,1330.4 907.5,1331.9 908.0,1331.7 908.5,1332.5 909.0,1331.5 909.5,1331.7 910.0,1333.5 910.5,1332.9 911.0,1332.7 911.5,1332.5 912.0,1332.9 912.5,1332.4 913.0,1333.3 913.5,1332.7 914.0,1331.1 914.5,1331.3 915.0,1332.1 915.5,1334.4 916.0,1333.9 916.5,1332.6 917.0,1332.1 917.5,1332.7 918.0,1332.9 918.5,1334.2 919.0,1332.4 919.5,1331.5 920.0,1332.4 920.5,1331.8 921.0,1334.6 921.5,1333.1 922.0,1333.2 922.5,1333.1 923.0,1331.4 923.5,1333.4 924.0,1333.8 924.5,1333.3 925.0,1334.0 925.5,1333.4 926.0,1333.7 926.5,1334.5 927.0,1333.4 927.5,1334.3 928.0,1334.0 928.5,1333.9 929.0,1333.4 929.5,1333.3 930.0,1333.9 930.5,1335.2 931.0,1334.7 931.5,1335.5 932.0,1334.4 932.5,1332.8 933.0,1335.4 933.5,1334.3 934.0,1335.8 934.5,1335.5 935.0,1335.7 935.5,1335.5 936.0,1332.3 936.5,1335.8 937.0,1335.4 937.5,1336.0 938.0,1335.9 938.5,1335.4 939.0,1335.8 939.5,1333.9 940.0,1335.4 940.5,1336.2 941.0,1336.4 941.5,1334.9 942.0,1334.1 942.5,1335.2 943.0,1335.9 943.5,1336.1 944.0,1337.4 944.5,1337.1 945.0,1335.5 945.5,1336.7 946.0,1335.8 946.5,1337.0 947.0,1335.4 947.5,1337.2 948.0,1335.7 948.5,1335.7 949.0,1335.2 949.5,1337.0 950.0,1336.2 950.5,1336.4 951.0,1336.8 951.5,1335.5 952.0,1337.7 952.5,1336.9 953.0,1336.5 953.5,1336.4 954.0,1336.1 954.5,1335.8 955.0,1337.3 955.5,1336.7 956.0,1336.5 956.5,1336.1 957.0,1336.9 957.5,1338.7 958.0,1337.2 958.5,1335.0 959.0,1334.7 959.5,1337.4 960.0,1335.7 960.5,1337.4 961.0,1337.6 961.5,1337.8 962.0,1338.9 962.5,1336.6 963.0,1337.1 963.5,1336.5" fill="none" stroke="#ffaa5c" stroke-width="2.3" stroke-linejoin="bevel"/>
<path d="M96.5,913.1 97.0,923.8 97.5,932.2 98.0,943.1 98.5,951.6 99.0,960.0 99.5,967.1 100.0,974.5 100.5,980.7 101.0,986.3 101.5,994.1 102.0,999.6 102.5,1005.9 103.0,1010.0 103.5,1015.0 104.0,1020.3 104.5,1024.8 105.0,1032.5 105.5,1035.8 106.0,1041.0 106.5,1046.6 107.0,1052.9 107.5,1056.2 108.0,1059.1 108.5,1063.0 109.0,1068.1 109.5,1070.9 110.0,1073.9 110.5,1077.8 111.0,1082.2 111.5,1086.4 112.0,1086.8 112.5,1090.4 113.0,1093.4 113.5,1094.9 114.0,1099.3 114.5,1102.1 115.0,1106.9 115.5,1108.4 116.0,1109.7 116.5,1114.6 117.0,1116.4 117.5,1117.7 118.0,1121.2 118.5,1123.4 119.0,1125.2 119.5,1128.0 120.0,1127.6 120.5,1131.2 121.0,1133.9 121.5,1135.2 122.0,1136.9 122.5,1138.2 123.0,1140.0 123.5,1139.0 124.0,1142.1 124.5,1140.9 125.0,1143.2 125.5,1143.2 126.0,1147.1 126.5,1148.6 127.0,1148.3 127.5,1151.6 128.0,1150.9 128.5,1153.4 129.0,1155.0 129.5,1155.8 130.0,1158.9 130.5,1161.8 131.0,1160.5 131.5,1164.1 132.0,1164.7 132.5,1168.0 133.0,1168.5 133.5,1170.1 134.0,1171.1 134.5,1171.8 135.0,1171.1 135.5,1174.2 136.0,1172.3 136.5,1174.5 137.0,1175.4 137.5,1174.6 138.0,1175.8 138.5,1177.1 139.0,1176.2 139.5,1175.6 140.0,1174.0 140.5,1175.9 141.0,1176.3 141.5,1176.4 142.0,1175.9 142.5,1177.1 143.0,1176.3 143.5,1176.9 144.0,1177.6 144.5,1176.3 145.0,1176.8 145.5,1179.0 146.0,1177.5 146.5,1175.7 147.0,1176.8 147.5,1177.4 148.0,1178.1 148.5,1177.5 149.0,1177.0 149.5,1177.1 150.0,1178.8 150.5,1179.2 151.0,1178.7 151.5,1179.7 152.0,1180.2 152.5,1181.7 153.0,1180.7 153.5,1182.3 154.0,1183.1 154.5,1182.9 155.0,1182.1 155.5,1184.3 156.0,1182.5 156.5,1183.5 157.0,1182.3 157.5,1181.0 158.0,1182.5 158.5,1182.1 159.0,1181.1 159.5,1180.9 160.0,1179.4 160.5,1178.8 161.0,1178.8 161.5,1180.4 162.0,1179.0 162.5,1177.6 163.0,1178.5 163.5,1177.6 164.0,1177.5 164.5,1178.7 165.0,1177.4 165.5,1176.3 166.0,1177.1 166.5,1178.1 167.0,1178.1 167.5,1179.0 168.0,1177.0 168.5,1178.2 169.0,1178.0 169.5,1177.5 170.0,1178.5 170.5,1178.3 171.0,1177.2 171.5,1179.7 172.0,1179.5 172.5,1183.0 173.0,1185.8 173.5,1188.8 174.0,1189.9 174.5,1192.0 175.0,1193.4 175.5,1195.7 176.0,1195.2 176.5,1197.3 177.0,1198.1 177.5,1198.2 178.0,1202.8 178.5,1201.1 179.0,1200.4 179.5,1203.6 180.0,1201.8 180.5,1203.4 181.0,1204.2 181.5,1203.1 182.0,1203.6 182.5,1203.8 183.0,1204.4 183.5,1203.0 184.0,1203.7 184.5,1204.9 185.0,1206.2 185.5,1205.9 186.0,1207.2 186.5,1206.2 187.0,1205.1 187.5,1205.4 188.0,1203.7 188.5,1204.6 189.0,1204.6 189.5,1206.1 190.0,1206.4 190.5,1205.4 191.0,1205.5 191.5,1204.7 192.0,1205.9 192.5,1206.1 193.0,1206.2 193.5,1204.8 194.0,1207.3 194.5,1206.5 195.0,1205.7 195.5,1205.3 196.0,1205.5 196.5,1206.0 197.0,1205.9 197.5,1206.2 198.0,1206.5 198.5,1207.0 199.0,1207.0 199.5,1205.8 200.0,1206.1 200.5,1205.3 201.0,1205.2 201.5,1207.2 202.0,1205.1 202.5,1207.4 203.0,1205.3 203.5,1205.8 204.0,1206.8 204.5,1205.8 205.0,1206.0 205.5,1205.3 206.0,1205.0 206.5,1205.2 207.0,1204.9 207.5,1207.0 208.0,1205.3 208.5,1207.2 209.0,1203.1 209.5,1205.5 210.0,1206.0 210.5,1205.4 211.0,1206.5 211.5,1206.0 212.0,1205.0 212.5,1205.7 213.0,1207.9 213.5,1205.9 214.0,1205.9 214.5,1205.4 215.0,1205.9 215.5,1204.5 216.0,1205.5 216.5,1207.9 217.0,1206.3 217.5,1205.9 218.0,1206.4 218.5,1207.1 219.0,1206.2 219.5,1207.6 220.0,1206.9 220.5,1206.0 221.0,1207.4 221.5,1203.6 222.0,1205.4 222.5,1206.0 223.0,1205.0 223.5,1205.5 224.0,1205.1 224.5,1204.8 225.0,1208.0 225.5,1205.9 226.0,1205.3 226.5,1206.6 227.0,1205.4 227.5,1206.4 228.0,1206.1 228.5,1207.4 229.0,1204.7 229.5,1206.7 230.0,1206.1 230.5,1205.1 231.0,1207.1 231.5,1205.2 232.0,1207.3 232.5,1206.5 233.0,1206.5 233.5,1205.9 234.0,1206.8 234.5,1204.3 235.0,1205.8 235.5,1205.0 236.0,1205.8 236.5,1205.5 237.0,1206.2 237.5,1205.1 238.0,1207.8 238.5,1208.2 239.0,1205.5 239.5,1205.6 240.0,1205.7 240.5,1206.5 241.0,1207.0 241.5,1204.3 242.0,1204.7 242.5,1204.0 243.0,1203.8 243.5,1203.2 244.0,1204.8 244.5,1203.2 245.0,1205.5 245.5,1204.8 246.0,1202.8 246.5,1202.7 247.0,1202.9 247.5,1204.7 248.0,1202.4 248.5,1201.6 249.0,1202.6 249.5,1202.8 250.0,1201.7 250.5,1203.7 251.0,1202.4 251.5,1202.6 252.0,1201.4 252.5,1202.0 253.0,1201.8 253.5,1199.8 254.0,1202.1 254.5,1200.0 255.0,1201.6 255.5,1200.1 256.0,1203.1 256.5,1201.4 257.0,1201.7 257.5,1201.6 258.0,1199.6 258.5,1199.0 259.0,1201.0 259.5,1202.3 260.0,1201.8 260.5,1202.6 261.0,1202.9 261.5,1200.6 262.0,1202.7 262.5,1204.5 263.0,1202.5 263.5,1201.4 264.0,1203.4 264.5,1203.3 265.0,1204.2 265.5,1203.0 266.0,1204.0 266.5,1202.2 267.0,1205.3 267.5,1206.1 268.0,1206.1 268.5,1203.5 269.0,1205.3 269.5,1202.1 270.0,1205.1 270.5,1204.7 271.0,1203.7 271.5,1204.7 272.0,1204.4 272.5,1204.9 273.0,1203.8 273.5,1203.8 274.0,1201.4 274.5,1201.8 275.0,1202.0 275.5,1202.4 276.0,1201.8 276.5,1202.9 277.0,1200.6 277.5,1200.9 278.0,1201.5 278.5,1201.3 279.0,1202.0 279.5,1200.9 280.0,1203.1 280.5,1201.7 281.0,1203.1 281.5,1202.1 282.0,1203.9 282.5,1201.3 283.0,1203.1 283.5,1202.4 284.0,1203.0 284.5,1203.6 285.0,1201.0 285.5,1200.1 286.0,1199.5 286.5,1199.8 287.0,1197.1 287.5,1198.6 288.0,1197.3 288.5,1197.6 289.0,1198.6 289.5,1199.8 290.0,1199.5 290.5,1200.1 291.0,1200.9 291.5,1201.1 292.0,1199.5 292.5,1202.0 293.0,1202.8 293.5,1204.1 294.0,1205.2 294.5,1203.8 295.0,1203.3 295.5,1202.5 296.0,1203.7 296.5,1204.4 297.0,1205.0 297.5,1203.0 298.0,1204.1 298.5,1204.7 299.0,1205.7 299.5,1204.5 300.0,1203.9 300.5,1203.9 301.0,1204.1 301.5,1203.9 302.0,1205.1 302.5,1205.3 303.0,1204.7 303.5,1205.3 304.0,1203.7 304.5,1204.6 305.0,1204.1 305.5,1204.7 306.0,1205.7 306.5,1204.7 307.0,1203.0 307.5,1204.5 308.0,1204.2 308.5,1203.5 309.0,1204.4 309.5,1206.0 310.0,1206.6 310.5,1204.5 311.0,1205.8 311.5,1205.8 312.0,1203.6 312.5,1204.8 313.0,1204.9 313.5,1205.4 314.0,1203.7 314.5,1204.9 315.0,1206.2 315.5,1206.4 316.0,1206.7 316.5,1204.9 317.0,1207.0 317.5,1205.8 318.0,1203.9 318.5,1206.0 319.0,1205.0 319.5,1205.9 320.0,1205.3 320.5,1206.5 321.0,1205.5 321.5,1205.1 322.0,1206.2 322.5,1205.6 323.0,1204.9 323.5,1206.6 324.0,1205.0 324.5,1204.7 325.0,1204.8 325.5,1204.1 326.0,1204.9 326.5,1207.3 327.0,1204.8 327.5,1205.6 328.0,1204.6 328.5,1205.3 329.0,1207.2 329.5,1206.8 330.0,1205.5 330.5,1205.9 331.0,1204.9 331.5,1205.1 332.0,1204.8 332.5,1204.9 333.0,1206.0 333.5,1206.0 334.0,1205.8 334.5,1205.1 335.0,1203.9 335.5,1205.2 336.0,1204.6 336.5,1206.3 337.0,1206.0 337.5,1206.2 338.0,1205.2 338.5,1204.0 339.0,1206.5 339.5,1206.8 340.0,1204.3 340.5,1205.9 341.0,1206.7 341.5,1204.6 342.0,1207.3 342.5,1205.3 343.0,1204.4 343.5,1206.6 344.0,1205.5 344.5,1204.7 345.0,1206.2 345.5,1203.5 346.0,1207.3 346.5,1204.9 347.0,1205.7 347.5,1205.2 348.0,1206.2 348.5,1206.5 349.0,1205.2 349.5,1206.7 350.0,1205.6 350.5,1205.2 351.0,1205.6 351.5,1204.7 352.0,1205.0 352.5,1206.5 353.0,1205.6 353.5,1206.6 354.0,1205.8 354.5,1204.4 355.0,1203.6 355.5,1204.7 356.0,1205.8 356.5,1205.7 357.0,1204.9 357.5,1206.5 358.0,1203.9 358.5,1204.3 359.0,1205.7 359.5,1207.7 360.0,1206.1 360.5,1205.0 361.0,1206.4 361.5,1206.5 362.0,1206.7 362.5,1205.4 363.0,1205.0 363.5,1205.8 364.0,1205.9 364.5,1206.8 365.0,1207.2 365.5,1204.4 366.0,1204.6 366.5,1205.0 367.0,1204.8 367.5,1205.4 368.0,1205.6 368.5,1205.4 369.0,1206.3 369.5,1205.1 370.0,1204.3 370.5,1203.8 371.0,1204.0 371.5,1204.1 372.0,1203.3 372.5,1205.5 373.0,1205.0 373.5,1204.5 374.0,1204.2 374.5,1203.5 375.0,1204.2 375.5,1207.0 376.0,1203.3 376.5,1205.2 377.0,1205.8 377.5,1205.3 378.0,1205.0 378.5,1205.9 379.0,1204.3 379.5,1205.8 380.0,1206.6 380.5,1204.0 381.0,1204.1 381.5,1205.0 382.0,1205.6 382.5,1205.9 383.0,1205.2 383.5,1203.9 384.0,1203.4 384.5,1204.6 385.0,1204.6 385.5,1203.2 386.0,1204.1 386.5,1204.3 387.0,1204.8 387.5,1203.0 388.0,1204.4 388.5,1202.8 389.0,1203.3 389.5,1203.4 390.0,1204.7 390.5,1206.3 391.0,1203.3 391.5,1203.4 392.0,1204.0 392.5,1201.8 393.0,1203.5 393.5,1201.3 394.0,1203.9 394.5,1203.4 395.0,1202.1 395.5,1200.9 396.0,1203.1 396.5,1201.9 397.0,1201.6 397.5,1201.9 398.0,1199.8 398.5,1201.7 399.0,1201.9 399.5,1201.1 400.0,1200.9 400.5,1199.5 401.0,1200.8 401.5,1200.2 402.0,1199.7 402.5,1199.0 403.0,1200.2 403.5,1200.5 404.0,1199.7 404.5,1200.1 405.0,1200.4 405.5,1200.5 406.0,1198.8 406.5,1198.2 407.0,1197.7 407.5,1197.8 408.0,1198.0 408.5,1198.4 409.0,1197.0 409.5,1197.6 410.0,1196.7 410.5,1198.7 411.0,1197.1 411.5,1197.6 412.0,1196.7 412.5,1196.9 413.0,1196.3 413.5,1198.3 414.0,1197.0 414.5,1196.2 415.0,1195.2 415.5,1195.5 416.0,1196.4 416.5,1197.2 417.0,1194.2 417.5,1194.5 418.0,1194.9 418.5,1194.4 419.0,1193.3 419.5,1194.4 420.0,1194.9 420.5,1192.6 421.0,1194.1 421.5,1194.7 422.0,1194.8 422.5,1193.3 423.0,1195.6 423.5,1193.9 424.0,1192.4 424.5,1193.8 425.0,1191.7 425.5,1193.4 426.0,1191.2 426.5,1192.8 427.0,1191.3 427.5,1192.7 428.0,1192.0 428.5,1191.6 429.0,1190.8 429.5,1191.6 430.0,1188.6 430.5,1190.3 431.0,1189.9 431.5,1189.8 432.0,1189.6 432.5,1192.0 433.0,1188.4 433.5,1188.7 434.0,1187.9 434.5,1188.9 435.0,1185.4 435.5,1188.4 436.0,1186.0 436.5,1184.0 437.0,1184.7 437.5,1185.0 438.0,1185.0 438.5,1184.1 439.0,1184.3 439.5,1183.1 440.0,1182.6 440.5,1180.2 441.0,1182.0 441.5,1182.1 442.0,1180.3 442.5,1178.2 443.0,1178.0 443.5,1180.3 444.0,1177.6 444.5,1176.8 445.0,1176.2 445.5,1177.2 446.0,1175.5 446.5,1174.8 447.0,1173.7 447.5,1174.2 448.0,1174.3 448.5,1172.5 449.0,1172.7 449.5,1171.3 450.0,1170.5 450.5,1170.1 451.0,1169.0 451.5,1169.1 452.0,1167.8 452.5,1166.1 453.0,1165.8 453.5,1164.9 454.0,1164.5 454.5,1163.2 455.0,1162.4 455.5,1159.6 456.0,1160.4 456.5,1160.1 457.0,1156.4 457.5,1158.0 458.0,1155.6 458.5,1153.7 459.0,1150.9 459.5,1152.3 460.0,1148.9 460.5,1147.5 461.0,1146.3 461.5,1142.2 462.0,1139.3 462.5,1136.3 463.0,1134.3 463.5,1132.5 464.0,1130.1 464.5,1128.5 465.0,1126.7 465.5,1127.2 466.0,1126.4 466.5,1129.3 467.0,1128.3 467.5,1127.2 468.0,1129.1 468.5,1132.5 469.0,1131.0 469.5,1133.3 470.0,1135.7 470.5,1135.8 471.0,1139.5 471.5,1141.5 472.0,1140.8 472.5,1144.3 473.0,1144.0 473.5,1145.6 474.0,1148.4 474.5,1149.7 475.0,1150.2 475.5,1152.9 476.0,1152.2 476.5,1154.4 477.0,1155.9 477.5,1159.2 478.0,1160.7 478.5,1162.1 479.0,1161.6 479.5,1164.3 480.0,1165.9 480.5,1165.2 481.0,1166.9 481.5,1169.2 482.0,1169.9 482.5,1170.1 483.0,1171.1 483.5,1171.5 484.0,1172.0 484.5,1172.2 485.0,1172.0 485.5,1173.2 486.0,1173.6 486.5,1176.6 487.0,1175.3 487.5,1175.6 488.0,1175.9 488.5,1176.6 489.0,1176.8 489.5,1177.9 490.0,1177.8 490.5,1178.7 491.0,1177.7 491.5,1179.1 492.0,1179.9 492.5,1178.3 493.0,1180.2 493.5,1180.6 494.0,1180.6 494.5,1181.1 495.0,1180.3 495.5,1183.5 496.0,1182.1 496.5,1181.9 497.0,1184.1 497.5,1182.0 498.0,1184.6 498.5,1184.0 499.0,1184.6 499.5,1183.9 500.0,1183.1 500.5,1182.8 501.0,1186.2 501.5,1184.4 502.0,1184.3 502.5,1186.3 503.0,1183.9 503.5,1184.0 504.0,1184.0 504.5,1184.2 505.0,1183.2 505.5,1183.8 506.0,1185.4 506.5,1184.4 507.0,1180.0 507.5,1180.0 508.0,1181.1 508.5,1179.9 509.0,1179.5 509.5,1180.9 510.0,1178.8 510.5,1182.4 511.0,1182.5 511.5,1183.9 512.0,1184.4 512.5,1185.5 513.0,1185.3 513.5,1185.6 514.0,1187.2 514.5,1186.9 515.0,1185.9 515.5,1188.5 516.0,1188.4 516.5,1188.7 517.0,1187.5 517.5,1187.8 518.0,1187.3 518.5,1186.9 519.0,1188.0 519.5,1188.1 520.0,1187.6 520.5,1190.0 521.0,1186.6 521.5,1187.4 522.0,1187.6 522.5,1189.4 523.0,1188.2 523.5,1188.1 524.0,1187.6 524.5,1187.7 525.0,1187.1 525.5,1188.9 526.0,1188.6 526.5,1188.7 527.0,1187.0 527.5,1189.9 528.0,1186.5 528.5,1185.4 529.0,1187.0 529.5,1187.3 530.0,1187.7 530.5,1185.8 531.0,1186.9 531.5,1187.6 532.0,1185.1 532.5,1185.1 533.0,1184.1 533.5,1185.8 534.0,1186.4 534.5,1186.0 535.0,1185.5 535.5,1185.7 536.0,1184.2 536.5,1184.4 537.0,1182.4 537.5,1182.3 538.0,1183.1 538.5,1181.7 539.0,1182.6 539.5,1182.8 540.0,1181.2 540.5,1179.1 541.0,1178.4 541.5,1179.5 542.0,1176.8 542.5,1177.2 543.0,1176.4 543.5,1176.1 544.0,1176.6 544.5,1174.3 545.0,1172.9 545.5,1175.1 546.0,1173.4 546.5,1173.4 547.0,1172.4 547.5,1172.5 548.0,1172.6 548.5,1172.2 549.0,1170.3 549.5,1169.9 550.0,1170.5 550.5,1170.3 551.0,1170.6 551.5,1169.5 552.0,1168.3 552.5,1171.2 553.0,1171.9 553.5,1172.3 554.0,1173.9 554.5,1173.8 555.0,1173.2 555.5,1175.2 556.0,1175.0 556.5,1177.0 557.0,1177.3 557.5,1178.9 558.0,1180.4 558.5,1182.3 559.0,1183.2 559.5,1186.6 560.0,1186.6 560.5,1191.0 561.0,1193.0 561.5,1195.2 562.0,1194.9 562.5,1195.4 563.0,1196.0 563.5,1200.5 564.0,1198.8 564.5,1202.1 565.0,1200.1 565.5,1203.2 566.0,1204.9 566.5,1205.3 567.0,1205.7 567.5,1205.5 568.0,1205.8 568.5,1208.1 569.0,1208.3 569.5,1208.2 570.0,1208.9 570.5,1208.4 571.0,1210.5 571.5,1211.0 572.0,1209.3 572.5,1210.8 573.0,1211.9 573.5,1210.7 574.0,1213.5 574.5,1213.4 575.0,1212.0 575.5,1213.4 576.0,1214.2 576.5,1211.8 577.0,1213.9 577.5,1213.4 578.0,1213.6 578.5,1214.6 579.0,1213.7 579.5,1212.9 580.0,1212.9 580.5,1214.2 581.0,1215.0 581.5,1214.4 582.0,1214.4 582.5,1214.7 583.0,1216.3 583.5,1215.8 584.0,1214.6 584.5,1215.0 585.0,1216.2 585.5,1214.5 586.0,1214.5 586.5,1215.0 587.0,1214.1 587.5,1216.3 588.0,1213.5 588.5,1216.9 589.0,1215.3 589.5,1214.8 590.0,1216.2 590.5,1214.4 591.0,1216.8 591.5,1217.1 592.0,1215.8 592.5,1216.0 593.0,1217.2 593.5,1215.7 594.0,1216.3 594.5,1216.6 595.0,1217.7 595.5,1216.0 596.0,1216.5 596.5,1217.6 597.0,1214.3 597.5,1216.5 598.0,1215.0 598.5,1215.1 599.0,1218.8 599.5,1217.2 600.0,1218.3 600.5,1216.7 601.0,1217.5 601.5,1216.6 602.0,1216.6 602.5,1217.4 603.0,1217.7 603.5,1219.1 604.0,1217.7 604.5,1218.2 605.0,1217.8 605.5,1218.2 606.0,1216.7 606.5,1219.1 607.0,1217.6 607.5,1218.1 608.0,1217.9 608.5,1219.2 609.0,1218.8 609.5,1218.5 610.0,1218.7 610.5,1219.0 611.0,1219.4 611.5,1219.2 612.0,1220.0 612.5,1220.3 613.0,1219.3 613.5,1217.6 614.0,1220.5 614.5,1221.0 615.0,1218.9 615.5,1219.1 616.0,1217.6 616.5,1220.4 617.0,1218.7 617.5,1221.4 618.0,1217.4 618.5,1219.8 619.0,1220.5 619.5,1219.7 620.0,1219.3 620.5,1220.3 621.0,1219.7 621.5,1219.9 622.0,1220.2 622.5,1219.9 623.0,1220.2 623.5,1221.2 624.0,1220.1 624.5,1220.8 625.0,1220.2 625.5,1221.8 626.0,1219.9 626.5,1222.0 627.0,1218.3 627.5,1220.3 628.0,1219.6 628.5,1222.2 629.0,1221.4 629.5,1220.0 630.0,1220.5 630.5,1222.3 631.0,1221.1 631.5,1221.8 632.0,1219.9 632.5,1220.1 633.0,1222.1 633.5,1223.7 634.0,1221.2 634.5,1222.5 635.0,1221.2 635.5,1223.4 636.0,1222.0 636.5,1221.9 637.0,1220.7 637.5,1222.0 638.0,1222.5 638.5,1223.7 639.0,1221.5 639.5,1223.5 640.0,1222.4 640.5,1222.6 641.0,1222.2 641.5,1221.7 642.0,1222.3 642.5,1225.0 643.0,1222.6 643.5,1223.1 644.0,1224.8 644.5,1221.9 645.0,1224.4 645.5,1223.6 646.0,1224.2 646.5,1224.6 647.0,1223.7 647.5,1223.7 648.0,1224.7 648.5,1224.7 649.0,1223.9 649.5,1224.6 650.0,1223.8 650.5,1226.1 651.0,1223.9 651.5,1224.9 652.0,1226.5 652.5,1225.5 653.0,1224.6 653.5,1224.5 654.0,1224.9 654.5,1226.4 655.0,1226.0 655.5,1225.8 656.0,1228.3 656.5,1225.0 657.0,1225.2 657.5,1225.2 658.0,1225.8 658.5,1225.7 659.0,1225.4 659.5,1226.4 660.0,1226.6 660.5,1225.9 661.0,1224.1 661.5,1227.0 662.0,1225.6 662.5,1225.8 663.0,1226.3 663.5,1225.3 664.0,1225.7 664.5,1226.4 665.0,1225.9 665.5,1226.6 666.0,1225.4 666.5,1226.0 667.0,1225.4 667.5,1226.1 668.0,1226.4 668.5,1225.8 669.0,1224.6 669.5,1225.4 670.0,1225.6 670.5,1226.3 671.0,1225.0 671.5,1224.5 672.0,1223.8 672.5,1226.5 673.0,1223.6 673.5,1223.2 674.0,1223.7 674.5,1221.8 675.0,1224.0 675.5,1222.9 676.0,1222.9 676.5,1221.2 677.0,1221.1 677.5,1221.8 678.0,1221.2 678.5,1222.0 679.0,1219.7 679.5,1216.2 680.0,1217.2 680.5,1215.9 681.0,1216.3 681.5,1214.1 682.0,1213.5 682.5,1211.5 683.0,1210.9 683.5,1210.2 684.0,1206.3 684.5,1203.0 685.0,1201.9 685.5,1202.2 686.0,1198.9 686.5,1196.3 687.0,1193.6 687.5,1193.7 688.0,1191.5 688.5,1189.5 689.0,1187.7 689.5,1186.7 690.0,1185.1 690.5,1184.1 691.0,1183.0 691.5,1178.5 692.0,1177.1 692.5,1176.3 693.0,1174.4 693.5,1170.8 694.0,1169.2 694.5,1166.9 695.0,1164.3 695.5,1161.3 696.0,1158.3 696.5,1154.6 697.0,1148.0 697.5,1141.1 698.0,1135.2 698.5,1131.1 699.0,1132.6 699.5,1141.8 700.0,1153.8 700.5,1168.4 701.0,1180.0 701.5,1187.6 702.0,1194.4 702.5,1198.6 703.0,1205.1 703.5,1209.5 704.0,1215.0 704.5,1217.1 705.0,1220.6 705.5,1222.6 706.0,1225.9 706.5,1228.3 707.0,1229.4 707.5,1231.3 708.0,1232.3 708.5,1233.4 709.0,1232.9 709.5,1233.5 710.0,1233.4 710.5,1233.3 711.0,1234.8 711.5,1235.2 712.0,1234.4 712.5,1236.8 713.0,1234.8 713.5,1236.3 714.0,1236.2 714.5,1234.4 715.0,1236.1 715.5,1234.8 716.0,1236.2 716.5,1237.1 717.0,1238.0 717.5,1237.0 718.0,1235.0 718.5,1236.2 719.0,1238.0 719.5,1237.0 720.0,1238.6 720.5,1236.3 721.0,1236.5 721.5,1235.8 722.0,1236.9 722.5,1238.8 723.0,1237.1 723.5,1239.0 724.0,1238.9 724.5,1239.3 725.0,1238.4 725.5,1238.8 726.0,1241.0 726.5,1238.0 727.0,1240.2 727.5,1241.0 728.0,1240.2 728.5,1241.1 729.0,1237.0 729.5,1239.3 730.0,1238.5 730.5,1239.6 731.0,1240.1 731.5,1240.9 732.0,1240.1 732.5,1242.0 733.0,1239.9 733.5,1242.5 734.0,1241.6 734.5,1240.3 735.0,1240.4 735.5,1240.5 736.0,1241.3 736.5,1242.5 737.0,1243.8 737.5,1243.6 738.0,1241.9 738.5,1241.2 739.0,1243.2 739.5,1242.4 740.0,1243.4 740.5,1243.0 741.0,1246.1 741.5,1242.5 742.0,1244.2 742.5,1245.9 743.0,1244.1 743.5,1244.0 744.0,1246.2 744.5,1242.8 745.0,1243.4 745.5,1244.1 746.0,1245.6 746.5,1246.2 747.0,1245.7 747.5,1247.9 748.0,1245.8 748.5,1246.2 749.0,1246.0 749.5,1247.4 750.0,1246.5 750.5,1246.2 751.0,1248.2 751.5,1248.0 752.0,1248.0 752.5,1246.1 753.0,1246.4 753.5,1247.3 754.0,1247.5 754.5,1247.6 755.0,1247.9 755.5,1248.7 756.0,1247.1 756.5,1248.2 757.0,1247.7 757.5,1247.8 758.0,1248.0 758.5,1249.4 759.0,1249.1 759.5,1248.1 760.0,1249.2 760.5,1249.2 761.0,1249.5 761.5,1248.9 762.0,1250.2 762.5,1249.8 763.0,1248.4 763.5,1248.3 764.0,1248.1 764.5,1249.9 765.0,1249.1 765.5,1249.6 766.0,1250.0 766.5,1251.3 767.0,1252.1 767.5,1250.0 768.0,1252.0 768.5,1250.7 769.0,1251.6 769.5,1250.6 770.0,1249.8 770.5,1251.4 771.0,1252.4 771.5,1249.6 772.0,1251.0 772.5,1251.5 773.0,1252.0 773.5,1250.4 774.0,1251.3 774.5,1252.7 775.0,1253.5 775.5,1252.0 776.0,1252.9 776.5,1252.3 777.0,1252.8 777.5,1252.3 778.0,1252.3 778.5,1252.1 779.0,1252.8 779.5,1253.8 780.0,1252.9 780.5,1253.6 781.0,1252.5 781.5,1253.7 782.0,1250.0 782.5,1251.8 783.0,1253.0 783.5,1251.5 784.0,1254.0 784.5,1253.8 785.0,1252.8 785.5,1253.7 786.0,1252.4 786.5,1252.8 787.0,1253.4 787.5,1252.4 788.0,1255.1 788.5,1253.5 789.0,1255.3 789.5,1254.3 790.0,1254.6 790.5,1253.5 791.0,1254.4 791.5,1254.2 792.0,1254.8 792.5,1256.0 793.0,1254.4 793.5,1254.7 794.0,1255.3 794.5,1256.1 795.0,1255.5 795.5,1255.3 796.0,1255.2 796.5,1255.8 797.0,1256.0 797.5,1255.1 798.0,1255.6 798.5,1256.5 799.0,1255.9 799.5,1255.6 800.0,1256.7 800.5,1256.9 801.0,1257.1 801.5,1257.0 802.0,1255.9 802.5,1256.4 803.0,1256.3 803.5,1256.1 804.0,1254.5 804.5,1256.3 805.0,1256.6 805.5,1256.9 806.0,1256.3 806.5,1256.7 807.0,1255.0 807.5,1255.3 808.0,1254.0 808.5,1256.6 809.0,1258.3 809.5,1258.5 810.0,1256.0 810.5,1257.6 811.0,1258.1 811.5,1256.6 812.0,1255.1 812.5,1258.4 813.0,1257.0 813.5,1257.1 814.0,1259.2 814.5,1258.1 815.0,1258.5 815.5,1259.0 816.0,1257.5 816.5,1256.8 817.0,1258.4 817.5,1257.8 818.0,1258.7 818.5,1258.4 819.0,1257.5 819.5,1258.4 820.0,1258.1 820.5,1258.2 821.0,1258.1 821.5,1258.1 822.0,1257.8 822.5,1256.6 823.0,1258.4 823.5,1256.7 824.0,1260.3 824.5,1257.8 825.0,1258.3 825.5,1259.7 826.0,1258.4 826.5,1257.3 827.0,1257.0 827.5,1258.4 828.0,1258.5 828.5,1258.9 829.0,1258.5 829.5,1257.9 830.0,1258.9 830.5,1259.7 831.0,1257.8 831.5,1261.6 832.0,1257.9 832.5,1259.6 833.0,1260.4 833.5,1259.4 834.0,1259.0 834.5,1259.3 835.0,1260.0 835.5,1256.3 836.0,1259.2 836.5,1258.4 837.0,1258.4 837.5,1259.0 838.0,1259.1 838.5,1259.4 839.0,1258.5 839.5,1260.0 840.0,1257.1 840.5,1258.2 841.0,1258.0 841.5,1259.2 842.0,1258.7 842.5,1259.7 843.0,1258.6 843.5,1260.5 844.0,1260.2 844.5,1258.9 845.0,1257.9 845.5,1258.4 846.0,1258.4 846.5,1260.8 847.0,1260.5 847.5,1258.6 848.0,1261.7 848.5,1259.5 849.0,1257.9 849.5,1261.2 850.0,1261.8 850.5,1260.5 851.0,1259.8 851.5,1261.7 852.0,1260.2 852.5,1260.5 853.0,1261.3 853.5,1261.3 854.0,1260.8 854.5,1260.4 855.0,1262.4 855.5,1259.7 856.0,1262.4 856.5,1262.4 857.0,1262.9 857.5,1262.2 858.0,1263.0 858.5,1263.6 859.0,1262.3 859.5,1263.4 860.0,1263.9 860.5,1262.5 861.0,1263.2 861.5,1265.5 862.0,1265.2 862.5,1263.7 863.0,1265.3 863.5,1265.1 864.0,1266.3 864.5,1266.2 865.0,1263.3 865.5,1265.0 866.0,1266.5 866.5,1266.7 867.0,1264.6 867.5,1264.0 868.0,1265.6 868.5,1265.1 869.0,1265.9 869.5,1265.0 870.0,1266.8 870.5,1266.9 871.0,1266.8 871.5,1265.5 872.0,1264.9 872.5,1265.4 873.0,1267.0 873.5,1264.9 874.0,1267.1 874.5,1268.3 875.0,1266.1 875.5,1266.6 876.0,1267.8 876.5,1267.8 877.0,1266.3 877.5,1266.8 878.0,1267.4 878.5,1267.0 879.0,1268.1 879.5,1268.0 880.0,1268.9 880.5,1266.1 881.0,1269.0 881.5,1268.7 882.0,1267.8 882.5,1268.4 883.0,1269.0 883.5,1268.5 884.0,1268.0 884.5,1268.8 885.0,1268.1 885.5,1267.4 886.0,1267.8 886.5,1268.1 887.0,1269.0 887.5,1269.6 888.0,1269.1 888.5,1270.6 889.0,1269.0 889.5,1268.7 890.0,1268.7 890.5,1268.5 891.0,1268.9 891.5,1270.7 892.0,1268.0 892.5,1270.0 893.0,1269.6 893.5,1270.6 894.0,1269.6 894.5,1270.7 895.0,1269.6 895.5,1270.7 896.0,1268.2 896.5,1270.3 897.0,1270.8 897.5,1268.7 898.0,1271.1 898.5,1269.2 899.0,1271.2 899.5,1270.2 900.0,1270.9 900.5,1270.7 901.0,1269.5 901.5,1272.1 902.0,1272.1 902.5,1270.2 903.0,1271.7 903.5,1271.6 904.0,1270.6 904.5,1270.4 905.0,1272.6 905.5,1271.1 906.0,1272.4 906.5,1273.5 907.0,1272.2 907.5,1270.9 908.0,1272.7 908.5,1270.5 909.0,1271.0 909.5,1274.6 910.0,1271.1 910.5,1272.4 911.0,1271.1 911.5,1272.1 912.0,1272.3 912.5,1269.8 913.0,1271.5 913.5,1273.0 914.0,1273.2 914.5,1273.0 915.0,1271.9 915.5,1273.3 916.0,1272.4 916.5,1272.2 917.0,1272.9 917.5,1275.0 918.0,1272.0 918.5,1274.0 919.0,1273.3 919.5,1271.7 920.0,1272.4 920.5,1273.2 921.0,1273.1 921.5,1273.8 922.0,1272.6 922.5,1272.7 923.0,1274.6 923.5,1273.7 924.0,1272.9 924.5,1273.7 925.0,1275.5 925.5,1273.1 926.0,1272.4 926.5,1274.8 927.0,1275.9 927.5,1275.1 928.0,1272.9 928.5,1272.2 929.0,1275.4 929.5,1274.2 930.0,1275.0 930.5,1274.5 931.0,1276.4 931.5,1275.0 932.0,1274.7 932.5,1275.3 933.0,1274.0 933.5,1275.1 934.0,1274.8 934.5,1272.8 935.0,1273.6 935.5,1273.4 936.0,1273.4 936.5,1275.2 937.0,1275.8 937.5,1275.2 938.0,1273.9 938.5,1273.5 939.0,1276.1 939.5,1275.3 940.0,1275.4 940.5,1274.1 941.0,1273.5 941.5,1277.4 942.0,1274.7 942.5,1275.3 943.0,1274.4 943.5,1277.1 944.0,1275.6 944.5,1275.8 945.0,1276.0 945.5,1276.2 946.0,1277.3 946.5,1274.1 947.0,1276.4 947.5,1275.3 948.0,1275.5 948.5,1275.3 949.0,1276.3 949.5,1274.7 950.0,1275.5 950.5,1276.6 951.0,1275.7 951.5,1275.8 952.0,1276.6 952.5,1276.0 953.0,1275.6 953.5,1276.0 954.0,1275.2 954.5,1277.0 955.0,1275.6 955.5,1275.2 956.0,1277.1 956.5,1275.5 957.0,1275.7 957.5,1276.3 958.0,1277.1 958.5,1276.1 959.0,1276.2 959.5,1276.2 960.0,1277.2 960.5,1276.4 961.0,1277.2 961.5,1278.2 962.0,1276.8 962.5,1276.5 963.0,1276.0 963.5,1276.2" fill="none" stroke="#ff9a33" stroke-width="2.3" stroke-linejoin="bevel"/>
<path d="M97.2,911.7 97.7,918.6 98.2,927.3 98.7,932.7 99.2,937.4 99.7,944.0 100.2,950.5 100.7,955.5 101.2,959.2 101.7,965.7 102.2,969.8 102.7,975.0 103.2,979.4 103.7,982.3 104.2,988.0 104.7,991.1 105.2,996.9 105.7,999.8 106.2,1002.6 106.7,1004.9 107.2,1009.3 107.7,1012.5 108.2,1014.3 108.7,1020.4 109.2,1021.6 109.7,1025.4 110.2,1025.5 110.7,1030.7 111.2,1030.6 111.7,1033.8 112.2,1037.6 112.7,1039.7 113.2,1039.7 113.7,1043.2 114.2,1047.4 114.7,1050.5 115.2,1051.4 115.7,1052.3 116.2,1055.4 116.7,1055.5 117.2,1059.1 117.7,1059.5 118.2,1062.7 118.7,1064.4 119.2,1067.1 119.7,1068.1 120.2,1071.3 120.7,1071.6 121.2,1074.3 121.7,1076.1 122.2,1075.3 122.7,1078.8 123.2,1080.7 123.7,1081.8 124.2,1084.2 124.7,1084.5 125.2,1088.0 125.7,1089.5 126.2,1091.0 126.7,1094.7 127.2,1094.3 127.7,1095.5 128.2,1096.5 128.7,1098.9 129.2,1099.2 129.7,1103.0 130.2,1102.7 130.7,1104.9 131.2,1108.0 131.7,1108.7 132.2,1109.2 132.7,1111.8 133.2,1111.7 133.7,1113.7 134.2,1114.2 134.7,1114.4 135.2,1116.5 135.7,1118.1 136.2,1117.9 136.7,1118.0 137.2,1119.6 137.7,1119.0 138.2,1121.4 138.7,1122.0 139.2,1126.0 139.7,1124.5 140.2,1124.3 140.7,1127.3 141.2,1127.0 141.7,1128.0 142.2,1128.8 142.7,1129.7 143.2,1129.8 143.7,1131.7 144.2,1131.8 144.7,1131.4 145.2,1132.1 145.7,1131.8 146.2,1133.5 146.7,1134.6 147.2,1135.2 147.7,1135.7 148.2,1135.4 148.7,1137.4 149.2,1135.9 149.7,1136.2 150.2,1136.1 150.7,1136.6 151.2,1136.2 151.7,1138.3 152.2,1136.7 152.7,1134.5 153.2,1135.5 153.7,1134.3 154.2,1136.2 154.7,1136.3 155.2,1134.5 155.7,1135.2 156.2,1134.1 156.7,1134.5 157.2,1135.3 157.7,1132.9 158.2,1131.7 158.7,1132.8 159.2,1131.5 159.7,1130.5 160.2,1129.8 160.7,1127.1 161.2,1124.9 161.7,1127.0 162.2,1124.9 162.7,1123.6 163.2,1123.3 163.7,1125.5 164.2,1125.4 164.7,1127.0 165.2,1129.4 165.7,1129.5 166.2,1130.6 166.7,1131.8 167.2,1132.0 167.7,1133.6 168.2,1133.8 168.7,1135.0 169.2,1134.7 169.7,1135.6 170.2,1136.3 170.7,1137.5 171.2,1138.2 171.7,1137.7 172.2,1138.5 172.7,1138.8 173.2,1141.0 173.7,1142.6 174.2,1141.9 174.7,1144.0 175.2,1143.9 175.7,1145.2 176.2,1146.4 176.7,1146.5 177.2,1148.4 177.7,1146.9 178.2,1148.1 178.7,1149.2 179.2,1148.6 179.7,1150.5 180.2,1149.1 180.7,1150.9 181.2,1149.9 181.7,1151.4 182.2,1152.1 182.7,1153.9 183.2,1153.1 183.7,1153.6 184.2,1152.3 184.7,1154.4 185.2,1152.2 185.7,1152.1 186.2,1151.1 186.7,1152.4 187.2,1153.0 187.7,1151.3 188.2,1151.5 188.7,1151.7 189.2,1151.8 189.7,1151.6 190.2,1151.1 190.7,1153.6 191.2,1150.4 191.7,1151.5 192.2,1152.7 192.7,1153.4 193.2,1152.3 193.7,1152.2 194.2,1152.1 194.7,1151.7 195.2,1152.8 195.7,1151.3 196.2,1150.9 196.7,1151.7 197.2,1152.3 197.7,1153.3 198.2,1153.8 198.7,1151.9 199.2,1151.0 199.7,1150.9 200.2,1154.0 200.7,1151.6 201.2,1152.3 201.7,1153.6 202.2,1151.3 202.7,1152.0 203.2,1151.6 203.7,1151.1 204.2,1152.7 204.7,1153.0 205.2,1150.3 205.7,1153.0 206.2,1151.9 206.7,1152.5 207.2,1152.4 207.7,1151.1 208.2,1152.2 208.7,1151.7 209.2,1154.2 209.7,1154.6 210.2,1152.6 210.7,1151.3 211.2,1153.4 211.7,1152.2 212.2,1153.9 212.7,1154.1 213.2,1153.9 213.7,1151.9 214.2,1151.2 214.7,1151.4 215.2,1151.8 215.7,1150.8 216.2,1153.0 216.7,1152.7 217.2,1152.0 217.7,1151.8 218.2,1152.8 218.7,1153.3 219.2,1150.2 219.7,1152.2 220.2,1151.9 220.7,1151.5 221.2,1151.8 221.7,1152.2 222.2,1153.8 222.7,1152.0 223.2,1151.6 223.7,1150.9 224.2,1152.6 224.7,1151.1 225.2,1151.9 225.7,1152.5 226.2,1152.0 226.7,1151.8 227.2,1152.0 227.7,1152.7 228.2,1151.9 228.7,1152.1 229.2,1152.3 229.7,1151.6 230.2,1152.4 230.7,1151.8 231.2,1152.9 231.7,1152.3 232.2,1150.2 232.7,1151.6 233.2,1152.7 233.7,1151.6 234.2,1151.2 234.7,1152.5 235.2,1150.4 235.7,1151.7 236.2,1152.1 236.7,1152.4 237.2,1150.5 237.7,1150.4 238.2,1152.9 238.7,1150.8 239.2,1151.4 239.7,1153.8 240.2,1151.1 240.7,1149.3 241.2,1153.9 241.7,1152.4 242.2,1151.9 242.7,1154.0 243.2,1151.2 243.7,1152.8 244.2,1151.4 244.7,1151.0 245.2,1152.0 245.7,1152.3 246.2,1152.3 246.7,1152.2 247.2,1150.6 247.7,1151.0 248.2,1152.7 248.7,1151.7 249.2,1151.2 249.7,1152.4 250.2,1152.3 250.7,1152.4 251.2,1150.7 251.7,1151.0 252.2,1152.0 252.7,1152.4 253.2,1150.0 253.7,1150.8 254.2,1150.9 254.7,1152.0 255.2,1150.1 255.7,1153.6 256.2,1151.2 256.7,1151.5 257.2,1152.9 257.7,1151.3 258.2,1151.5 258.7,1150.5 259.2,1151.1 259.7,1149.7 260.2,1150.6 260.7,1150.7 261.2,1149.7 261.7,1151.3 262.2,1150.8 262.7,1148.6 263.2,1151.1 263.7,1149.5 264.2,1151.1 264.7,1149.7 265.2,1150.0 265.7,1150.6 266.2,1151.8 266.7,1148.7 267.2,1149.8 267.7,1149.8 268.2,1151.2 268.7,1150.0 269.2,1150.3 269.7,1151.0 270.2,1150.6 270.7,1149.5 271.2,1149.5 271.7,1149.7 272.2,1150.2 272.7,1149.2 273.2,1149.9 273.7,1150.4 274.2,1149.7 274.7,1149.6 275.2,1150.2 275.7,1150.5 276.2,1148.7 276.7,1149.0 277.2,1151.0 277.7,1149.9 278.2,1149.1 278.7,1150.1 279.2,1151.3 279.7,1149.3 280.2,1148.9 280.7,1149.3 281.2,1150.9 281.7,1148.8 282.2,1149.6 282.7,1149.6 283.2,1148.7 283.7,1147.3 284.2,1147.5 284.7,1146.2 285.2,1146.3 285.7,1145.1 286.2,1144.1 286.7,1141.5 287.2,1142.8 287.7,1141.4 288.2,1139.2 288.7,1141.1 289.2,1142.2 289.7,1142.9 290.2,1141.9 290.7,1144.5 291.2,1145.0 291.7,1146.3 292.2,1145.3 292.7,1148.2 293.2,1148.9 293.7,1149.3 294.2,1149.1 294.7,1149.2 295.2,1150.3 295.7,1149.9 296.2,1149.0 296.7,1149.8 297.2,1150.2 297.7,1150.9 298.2,1150.4 298.7,1149.5 299.2,1149.7 299.7,1150.4 300.2,1150.3 300.7,1150.8 301.2,1148.1 301.7,1149.3 302.2,1148.8 302.7,1151.1 303.2,1151.0 303.7,1150.8 304.2,1151.2 304.7,1150.0 305.2,1151.0 305.7,1150.5 306.2,1150.3 306.7,1150.2 307.2,1151.1 307.7,1151.3 308.2,1149.0 308.7,1150.1 309.2,1150.7 309.7,1151.1 310.2,1149.0 310.7,1149.4 311.2,1149.9 311.7,1151.7 312.2,1149.5 312.7,1150.0 313.2,1150.5 313.7,1150.3 314.2,1150.6 314.7,1150.3 315.2,1150.1 315.7,1150.5 316.2,1150.6 316.7,1150.6 317.2,1150.8 317.7,1149.3 318.2,1150.6 318.7,1150.6 319.2,1151.1 319.7,1151.0 320.2,1151.9 320.7,1149.8 321.2,1150.3 321.7,1150.6 322.2,1149.7 322.7,1150.0 323.2,1149.8 323.7,1149.8 324.2,1152.3 324.7,1150.2 325.2,1151.7 325.7,1149.7 326.2,1150.7 326.7,1150.0 327.2,1151.0 327.7,1152.1 328.2,1152.2 328.7,1151.0 329.2,1150.5 329.7,1150.0 330.2,1150.3 330.7,1151.3 331.2,1148.7 331.7,1150.0 332.2,1149.2 332.7,1151.1 333.2,1148.9 333.7,1150.9 334.2,1149.2 334.7,1149.2 335.2,1151.5 335.7,1151.3 336.2,1149.4 336.7,1148.6 337.2,1149.5 337.7,1150.8 338.2,1150.2 338.7,1149.5 339.2,1151.0 339.7,1151.6 340.2,1149.2 340.7,1150.1 341.2,1149.3 341.7,1150.7 342.2,1150.0 342.7,1149.3 343.2,1148.2 343.7,1150.3 344.2,1149.3 344.7,1149.6 345.2,1149.4 345.7,1149.9 346.2,1147.9 346.7,1148.9 347.2,1150.0 347.7,1151.4 348.2,1150.1 348.7,1149.8 349.2,1149.1 349.7,1149.2 350.2,1149.5 350.7,1149.0 351.2,1150.0 351.7,1149.8 352.2,1151.5 352.7,1149.7 353.2,1150.8 353.7,1149.4 354.2,1150.8 354.7,1152.2 355.2,1149.3 355.7,1148.7 356.2,1150.5 356.7,1149.2 357.2,1148.9 357.7,1149.6 358.2,1149.3 358.7,1150.2 359.2,1149.7 359.7,1148.4 360.2,1148.0 360.7,1147.4 361.2,1148.0 361.7,1149.9 362.2,1147.7 362.7,1148.8 363.2,1149.7 363.7,1149.1 364.2,1149.9 364.7,1149.0 365.2,1149.7 365.7,1147.8 366.2,1147.5 366.7,1150.0 367.2,1148.5 367.7,1148.3 368.2,1147.7 368.7,1149.2 369.2,1148.0 369.7,1147.9 370.2,1146.8 370.7,1147.1 371.2,1147.0 371.7,1147.3 372.2,1147.5 372.7,1146.6 373.2,1146.2 373.7,1147.5 374.2,1145.9 374.7,1148.1 375.2,1148.3 375.7,1145.5 376.2,1147.9 376.7,1145.6 377.2,1147.5 377.7,1145.7 378.2,1146.8 378.7,1145.3 379.2,1146.7 379.7,1146.1 380.2,1147.2 380.7,1146.5 381.2,1144.9 381.7,1146.1 382.2,1145.0 382.7,1146.0 383.2,1146.9 383.7,1146.9 384.2,1145.4 384.7,1144.5 385.2,1145.2 385.7,1147.1 386.2,1144.9 386.7,1143.7 387.2,1143.7 387.7,1143.7 388.2,1145.7 388.7,1144.3 389.2,1143.8 389.7,1144.7 390.2,1145.0 390.7,1143.8 391.2,1143.3 391.7,1144.1 392.2,1144.6 392.7,1142.3 393.2,1142.5 393.7,1145.4 394.2,1143.9 394.7,1143.6 395.2,1142.0 395.7,1142.2 396.2,1142.7 396.7,1144.1 397.2,1143.0 397.7,1141.3 398.2,1144.2 398.7,1144.2 399.2,1143.3 399.7,1141.6 400.2,1141.9 400.7,1142.1 401.2,1142.5 401.7,1143.8 402.2,1140.6 402.7,1141.1 403.2,1141.5 403.7,1140.8 404.2,1141.0 404.7,1139.9 405.2,1141.2 405.7,1140.8 406.2,1141.1 406.7,1141.5 407.2,1140.4 407.7,1140.2 408.2,1140.4 408.7,1139.5 409.2,1140.0 409.7,1138.1 410.2,1139.0 410.7,1140.3 411.2,1139.8 411.7,1140.2 412.2,1138.1 412.7,1138.6 413.2,1138.8 413.7,1138.8 414.2,1138.6 414.7,1139.8 415.2,1137.9 415.7,1137.9 416.2,1138.4 416.7,1138.2 417.2,1137.7 417.7,1139.1 418.2,1137.7 418.7,1136.8 419.2,1136.2 419.7,1138.1 420.2,1136.0 420.7,1136.7 421.2,1135.7 421.7,1137.6 422.2,1136.2 422.7,1134.0 423.2,1135.8 423.7,1134.0 424.2,1134.7 424.7,1135.8 425.2,1133.4 425.7,1134.6 426.2,1134.1 426.7,1134.8 427.2,1132.9 427.7,1134.3 428.2,1133.2 428.7,1134.0 429.2,1132.8 429.7,1133.1 430.2,1133.4 430.7,1132.9 431.2,1131.9 431.7,1132.3 432.2,1131.5 432.7,1131.8 433.2,1132.5 433.7,1129.7 434.2,1129.0 434.7,1130.1 435.2,1128.8 435.7,1130.3 436.2,1129.7 436.7,1129.5 437.2,1128.7 437.7,1127.9 438.2,1127.1 438.7,1127.0 439.2,1126.9 439.7,1125.8 440.2,1127.0 440.7,1126.2 441.2,1124.0 441.7,1122.3 442.2,1125.3 442.7,1122.8 443.2,1120.9 443.7,1121.7 444.2,1122.9 444.7,1123.3 445.2,1122.6 445.7,1122.5 446.2,1122.1 446.7,1121.7 447.2,1118.7 447.7,1118.8 448.2,1117.8 448.7,1117.8 449.2,1116.6 449.7,1116.6 450.2,1117.2 450.7,1114.0 451.2,1114.5 451.7,1112.2 452.2,1110.8 452.7,1112.0 453.2,1110.0 453.7,1109.3 454.2,1109.6 454.7,1106.2 455.2,1106.3 455.7,1106.6 456.2,1102.9 456.7,1102.4 457.2,1101.6 457.7,1100.0 458.2,1098.1 458.7,1096.9 459.2,1095.0 459.7,1093.7 460.2,1091.9 460.7,1089.3 461.2,1089.0 461.7,1087.8 462.2,1087.8 462.7,1086.0 463.2,1084.9 463.7,1083.5 464.2,1082.7 464.7,1080.3 465.2,1079.9 465.7,1078.2 466.2,1077.8 466.7,1077.0 467.2,1080.2 467.7,1079.2 468.2,1078.6 468.7,1080.0 469.2,1081.6 469.7,1082.1 470.2,1084.6 470.7,1085.9 471.2,1087.8 471.7,1085.7 472.2,1090.2 472.7,1090.9 473.2,1092.9 473.7,1092.9 474.2,1094.2 474.7,1095.4 475.2,1098.4 475.7,1099.6 476.2,1099.4 476.7,1101.7 477.2,1103.2 477.7,1103.1 478.2,1104.9 478.7,1105.9 479.2,1106.4 479.7,1106.4 480.2,1109.7 480.7,1109.6 481.2,1110.5 481.7,1110.4 482.2,1112.1 482.7,1112.0 483.2,1113.2 483.7,1114.2 484.2,1115.4 484.7,1114.7 485.2,1115.0 485.7,1117.5 486.2,1115.5 486.7,1117.3 487.2,1117.7 487.7,1119.2 488.2,1118.9 488.7,1118.9 489.2,1120.6 489.7,1119.6 490.2,1120.5 490.7,1121.7 491.2,1122.4 491.7,1121.3 492.2,1124.1 492.7,1123.0 493.2,1124.6 493.7,1124.8 494.2,1124.3 494.7,1124.2 495.2,1123.9 495.7,1126.5 496.2,1127.4 496.7,1126.4 497.2,1126.6 497.7,1125.7 498.2,1125.7 498.7,1126.7 499.2,1128.2 499.7,1127.0 500.2,1128.4 500.7,1128.1 501.2,1127.9 501.7,1127.2 502.2,1127.7 502.7,1127.1 503.2,1128.9 503.7,1128.6 504.2,1127.4 504.7,1127.7 505.2,1126.9 505.7,1128.4 506.2,1128.8 506.7,1127.6 507.2,1128.0 507.7,1128.8 508.2,1127.0 508.7,1128.7 509.2,1129.8 509.7,1129.8 510.2,1128.3 510.7,1128.4 511.2,1129.2 511.7,1129.2 512.2,1130.0 512.7,1129.0 513.2,1129.2 513.7,1129.4 514.2,1130.9 514.7,1128.7 515.2,1130.9 515.7,1130.4 516.2,1130.7 516.7,1129.9 517.2,1130.6 517.7,1130.1 518.2,1128.5 518.7,1131.2 519.2,1129.9 519.7,1131.7 520.2,1130.6 520.7,1131.7 521.2,1131.8 521.7,1130.8 522.2,1132.2 522.7,1131.8 523.2,1130.1 523.7,1133.8 524.2,1132.4 524.7,1132.6 525.2,1131.9 525.7,1132.7 526.2,1131.3 526.7,1132.5 527.2,1132.3 527.7,1131.0 528.2,1131.2 528.7,1131.3 529.2,1129.7 529.7,1131.3 530.2,1130.8 530.7,1131.7 531.2,1130.6 531.7,1129.2 532.2,1129.7 532.7,1128.9 533.2,1127.1 533.7,1128.8 534.2,1127.6 534.7,1129.7 535.2,1128.5 535.7,1128.7 536.2,1128.0 536.7,1127.3 537.2,1127.9 537.7,1125.6 538.2,1127.3 538.7,1125.9 539.2,1123.7 539.7,1124.7 540.2,1125.1 540.7,1123.6 541.2,1124.9 541.7,1124.1 542.2,1121.9 542.7,1121.3 543.2,1121.2 543.7,1120.5 544.2,1121.4 544.7,1121.7 545.2,1120.8 545.7,1120.6 546.2,1119.7 546.7,1119.3 547.2,1118.1 547.7,1120.5 548.2,1119.0 548.7,1118.4 549.2,1117.0 549.7,1116.2 550.2,1116.8 550.7,1116.9 551.2,1116.8 551.7,1117.8 552.2,1116.9 552.7,1118.0 553.2,1118.5 553.7,1119.3 554.2,1119.4 554.7,1121.1 555.2,1121.6 555.7,1122.5 556.2,1123.5 556.7,1124.7 557.2,1126.2 557.7,1127.7 558.2,1127.7 558.7,1129.5 559.2,1130.8 559.7,1133.1 560.2,1133.6 560.7,1135.7 561.2,1137.4 561.7,1138.2 562.2,1140.8 562.7,1139.6 563.2,1140.1 563.7,1140.9 564.2,1142.0 564.7,1143.0 565.2,1144.0 565.7,1145.5 566.2,1145.7 566.7,1146.4 567.2,1148.2 567.7,1148.2 568.2,1149.2 568.7,1149.2 569.2,1148.9 569.7,1150.5 570.2,1150.7 570.7,1151.5 571.2,1151.6 571.7,1151.2 572.2,1153.6 572.7,1151.7 573.2,1151.5 573.7,1152.8 574.2,1153.4 574.7,1154.7 575.2,1153.6 575.7,1154.3 576.2,1154.8 576.7,1155.3 577.2,1153.3 577.7,1155.6 578.2,1154.5 578.7,1156.9 579.2,1155.6 579.7,1155.9 580.2,1157.0 580.7,1156.6 581.2,1156.6 581.7,1157.4 582.2,1156.7 582.7,1156.6 583.2,1158.5 583.7,1157.4 584.2,1158.2 584.7,1157.1 585.2,1158.5 585.7,1158.3 586.2,1159.0 586.7,1160.8 587.2,1157.3 587.7,1158.2 588.2,1159.0 588.7,1159.6 589.2,1158.3 589.7,1159.4 590.2,1158.9 590.7,1159.8 591.2,1158.9 591.7,1162.5 592.2,1160.5 592.7,1161.1 593.2,1158.4 593.7,1159.9 594.2,1160.5 594.7,1162.2 595.2,1160.1 595.7,1161.2 596.2,1160.2 596.7,1161.1 597.2,1159.7 597.7,1159.9 598.2,1161.1 598.7,1162.6 599.2,1162.7 599.7,1161.7 600.2,1160.6 600.7,1162.8 601.2,1161.6 601.7,1160.9 602.2,1161.6 602.7,1161.9 603.2,1163.9 603.7,1162.5 604.2,1162.3 604.7,1162.4 605.2,1161.6 605.7,1164.3 606.2,1162.2 606.7,1163.4 607.2,1162.6 607.7,1162.8 608.2,1161.5 608.7,1163.8 609.2,1165.8 609.7,1165.6 610.2,1164.3 610.7,1165.3 611.2,1163.4 611.7,1163.1 612.2,1165.0 612.7,1163.6 613.2,1166.3 613.7,1165.6 614.2,1163.3 614.7,1164.1 615.2,1164.1 615.7,1165.3 616.2,1164.5 616.7,1164.9 617.2,1163.8 617.7,1166.7 618.2,1166.3 618.7,1165.6 619.2,1164.2 619.7,1166.0 620.2,1168.5 620.7,1166.1 621.2,1166.9 621.7,1163.8 622.2,1165.4 622.7,1165.4 623.2,1166.7 623.7,1164.7 624.2,1166.5 624.7,1166.7 625.2,1166.3 625.7,1166.1 626.2,1167.0 626.7,1165.7 627.2,1165.2 627.7,1165.2 628.2,1166.8 628.7,1166.3 629.2,1166.5 629.7,1166.4 630.2,1166.7 630.7,1168.6 631.2,1166.7 631.7,1166.2 632.2,1165.6 632.7,1166.0 633.2,1167.4 633.7,1166.9 634.2,1166.9 634.7,1167.6 635.2,1166.7 635.7,1167.3 636.2,1167.7 636.7,1167.8 637.2,1168.4 637.7,1168.9 638.2,1167.5 638.7,1168.4 639.2,1168.5 639.7,1167.5 640.2,1168.6 640.7,1169.1 641.2,1166.7 641.7,1168.6 642.2,1168.5 642.7,1168.5 643.2,1166.7 643.7,1169.3 644.2,1168.5 644.7,1168.2 645.2,1167.7 645.7,1169.6 646.2,1169.2 646.7,1168.0 647.2,1170.8 647.7,1168.2 648.2,1170.2 648.7,1168.9 649.2,1169.6 649.7,1170.5 650.2,1169.5 650.7,1170.3 651.2,1169.7 651.7,1171.1 652.2,1170.5 652.7,1170.3 653.2,1169.2 653.7,1169.6 654.2,1170.3 654.7,1171.9 655.2,1172.0 655.7,1171.2 656.2,1172.2 656.7,1171.4 657.2,1171.5 657.7,1171.4 658.2,1171.0 658.7,1171.7 659.2,1174.0 659.7,1170.9 660.2,1172.1 660.7,1171.9 661.2,1171.3 661.7,1172.1 662.2,1171.1 662.7,1171.9 663.2,1173.2 663.7,1173.4 664.2,1171.9 664.7,1171.8 665.2,1170.8 665.7,1172.7 666.2,1171.4 666.7,1170.8 667.2,1172.0 667.7,1171.5 668.2,1170.1 668.7,1172.5 669.2,1170.1 669.7,1169.8 670.2,1172.2 670.7,1170.9 671.2,1169.3 671.7,1171.7 672.2,1171.4 672.7,1170.0 673.2,1169.8 673.7,1169.9 674.2,1170.1 674.7,1169.0 675.2,1168.0 675.7,1168.5 676.2,1167.7 676.7,1166.2 677.2,1166.7 677.7,1165.7 678.2,1166.3 678.7,1166.7 679.2,1165.3 679.7,1166.7 680.2,1163.6 680.7,1162.5 681.2,1160.8 681.7,1161.9 682.2,1160.6 682.7,1157.8 683.2,1157.7 683.7,1158.1 684.2,1155.8 684.7,1155.7 685.2,1154.7 685.7,1155.4 686.2,1151.1 686.7,1151.5 687.2,1149.1 687.7,1148.1 688.2,1149.5 688.7,1146.8 689.2,1144.6 689.7,1142.2 690.2,1140.4 690.7,1139.9 691.2,1135.1 691.7,1135.1 692.2,1132.7 692.7,1128.4 693.2,1127.0 693.7,1123.5 694.2,1121.1 694.7,1118.8 695.2,1114.8 695.7,1112.2 696.2,1107.9 696.7,1100.1 697.2,1097.4 697.7,1090.8 698.2,1086.8 698.7,1090.2 699.2,1093.9 699.7,1102.3 700.2,1108.9 700.7,1117.0 701.2,1124.5 701.7,1135.0 702.2,1146.4 702.7,1158.3 703.2,1162.2 703.7,1167.0 704.2,1170.8 704.7,1171.9 705.2,1176.5 705.7,1174.5 706.2,1174.7 706.7,1174.8 707.2,1175.8 707.7,1176.9 708.2,1178.1 708.7,1176.7 709.2,1177.9 709.7,1180.2 710.2,1178.9 710.7,1179.0 711.2,1178.8 711.7,1179.2 712.2,1179.6 712.7,1180.9 713.2,1180.9 713.7,1179.3 714.2,1179.0 714.7,1180.5 715.2,1179.6 715.7,1181.1 716.2,1181.2 716.7,1179.5 717.2,1178.4 717.7,1179.3 718.2,1180.7 718.7,1179.8 719.2,1181.2 719.7,1181.3 720.2,1181.1 720.7,1181.0 721.2,1180.5 721.7,1181.5 722.2,1179.2 722.7,1181.3 723.2,1183.1 723.7,1182.3 724.2,1181.4 724.7,1181.2 725.2,1181.9 725.7,1181.5 726.2,1183.2 726.7,1181.5 727.2,1182.0 727.7,1181.0 728.2,1182.7 728.7,1181.0 729.2,1183.3 729.7,1183.1 730.2,1181.7 730.7,1183.4 731.2,1182.8 731.7,1182.4 732.2,1181.8 732.7,1181.5 733.2,1181.8 733.7,1181.7 734.2,1183.5 734.7,1182.6 735.2,1185.5 735.7,1183.9 736.2,1184.7 736.7,1182.9 737.2,1185.3 737.7,1183.6 738.2,1185.1 738.7,1184.4 739.2,1185.0 739.7,1183.2 740.2,1183.6 740.7,1185.6 741.2,1185.3 741.7,1184.4 742.2,1185.5 742.7,1185.1 743.2,1184.4 743.7,1186.9 744.2,1183.0 744.7,1185.0 745.2,1186.1 745.7,1185.9 746.2,1187.4 746.7,1186.2 747.2,1186.2 747.7,1185.1 748.2,1187.3 748.7,1185.5 749.2,1186.0 749.7,1186.3 750.2,1187.5 750.7,1186.4 751.2,1187.0 751.7,1186.5 752.2,1185.4 752.7,1186.4 753.2,1188.9 753.7,1186.7 754.2,1187.4 754.7,1189.6 755.2,1186.7 755.7,1188.2 756.2,1188.5 756.7,1186.5 757.2,1188.9 757.7,1188.0 758.2,1186.1 758.7,1187.6 759.2,1186.6 759.7,1190.6 760.2,1190.3 760.7,1188.3 761.2,1187.7 761.7,1188.8 762.2,1187.3 762.7,1188.2 763.2,1187.5 763.7,1188.1 764.2,1188.7 764.7,1188.9 765.2,1189.5 765.7,1188.3 766.2,1189.7 766.7,1189.0 767.2,1189.0 767.7,1190.1 768.2,1188.9 768.7,1188.2 769.2,1189.9 769.7,1188.5 770.2,1189.4 770.7,1189.3 771.2,1187.6 771.7,1188.4 772.2,1189.1 772.7,1190.4 773.2,1191.0 773.7,1190.2 774.2,1192.0 774.7,1190.6 775.2,1188.4 775.7,1190.5 776.2,1189.1 776.7,1189.5 777.2,1190.1 777.7,1190.5 778.2,1191.2 778.7,1191.6 779.2,1192.1 779.7,1190.5 780.2,1191.1 780.7,1192.0 781.2,1190.0 781.7,1191.8 782.2,1191.5 782.7,1190.6 783.2,1192.2 783.7,1191.8 784.2,1192.2 784.7,1193.1 785.2,1191.6 785.7,1190.7 786.2,1191.2 786.7,1190.7 787.2,1192.8 787.7,1191.5 788.2,1191.6 788.7,1191.7 789.2,1193.2 789.7,1192.6 790.2,1193.1 790.7,1192.5 791.2,1191.7 791.7,1191.7 792.2,1193.6 792.7,1192.2 793.2,1193.4 793.7,1191.7 794.2,1192.6 794.7,1192.5 795.2,1192.3 795.7,1193.5 796.2,1193.7 796.7,1192.7 797.2,1194.9 797.7,1192.9 798.2,1191.5 798.7,1193.5 799.2,1192.0 799.7,1192.7 800.2,1193.6 800.7,1194.4 801.2,1193.9 801.7,1192.8 802.2,1194.8 802.7,1193.8 803.2,1195.1 803.7,1195.3 804.2,1194.2 804.7,1193.5 805.2,1194.9 805.7,1194.1 806.2,1194.1 806.7,1194.1 807.2,1193.2 807.7,1193.0 808.2,1193.8 808.7,1194.4 809.2,1194.2 809.7,1195.2 810.2,1195.3 810.7,1195.0 811.2,1193.5 811.7,1193.1 812.2,1193.5 812.7,1193.5 813.2,1195.3 813.7,1195.3 814.2,1193.2 814.7,1194.4 815.2,1194.7 815.7,1193.9 816.2,1194.5 816.7,1194.1 817.2,1194.7 817.7,1195.0 818.2,1195.1 818.7,1194.2 819.2,1195.5 819.7,1193.7 820.2,1194.3 820.7,1194.8 821.2,1194.1 821.7,1195.5 822.2,1194.7 822.7,1194.5 823.2,1196.9 823.7,1195.1 824.2,1194.9 824.7,1193.1 825.2,1195.0 825.7,1196.6 826.2,1195.1 826.7,1195.1 827.2,1196.2 827.7,1196.3 828.2,1196.4 828.7,1195.9 829.2,1195.1 829.7,1194.7 830.2,1196.0 830.7,1196.1 831.2,1196.1 831.7,1195.0 832.2,1194.9 832.7,1196.8 833.2,1195.1 833.7,1196.2 834.2,1195.5 834.7,1194.3 835.2,1196.3 835.7,1194.9 836.2,1197.3 836.7,1195.8 837.2,1195.5 837.7,1195.9 838.2,1196.0 838.7,1195.6 839.2,1195.8 839.7,1197.2 840.2,1196.2 840.7,1196.7 841.2,1196.2 841.7,1196.7 842.2,1195.6 842.7,1197.7 843.2,1195.6 843.7,1194.7 844.2,1195.0 844.7,1195.6 845.2,1196.3 845.7,1198.2 846.2,1195.7 846.7,1197.6 847.2,1195.9 847.7,1197.9 848.2,1197.2 848.7,1198.2 849.2,1196.3 849.7,1197.3 850.2,1197.5 850.7,1196.4 851.2,1196.9 851.7,1196.6 852.2,1196.5 852.7,1196.7 853.2,1196.2 853.7,1198.4 854.2,1197.5 854.7,1197.0 855.2,1197.9 855.7,1198.3 856.2,1197.7 856.7,1199.1 857.2,1198.1 857.7,1198.7 858.2,1200.7 858.7,1198.4 859.2,1199.1 859.7,1199.4 860.2,1198.1 860.7,1199.2 861.2,1200.4 861.7,1201.2 862.2,1199.3 862.7,1200.4 863.2,1199.8 863.7,1199.6 864.2,1199.0 864.7,1200.6 865.2,1198.5 865.7,1201.0 866.2,1200.7 866.7,1201.1 867.2,1200.8 867.7,1200.0 868.2,1199.8 868.7,1201.5 869.2,1201.9 869.7,1201.7 870.2,1200.6 870.7,1202.6 871.2,1203.9 871.7,1201.3 872.2,1201.0 872.7,1201.5 873.2,1203.5 873.7,1201.3 874.2,1201.8 874.7,1202.0 875.2,1202.2 875.7,1203.2 876.2,1202.2 876.7,1201.5 877.2,1202.9 877.7,1202.9 878.2,1204.8 878.7,1204.1 879.2,1204.9 879.7,1203.4 880.2,1203.8 880.7,1203.8 881.2,1203.5 881.7,1201.8 882.2,1204.0 882.7,1203.5 883.2,1205.1 883.7,1204.9 884.2,1203.7 884.7,1204.6 885.2,1203.4 885.7,1205.4 886.2,1204.1 886.7,1203.2 887.2,1202.3 887.7,1205.0 888.2,1205.0 888.7,1203.5 889.2,1206.6 889.7,1204.2 890.2,1206.3 890.7,1204.2 891.2,1205.1 891.7,1204.2 892.2,1206.6 892.7,1205.5 893.2,1205.1 893.7,1205.4 894.2,1205.3 894.7,1205.6 895.2,1204.3 895.7,1205.9 896.2,1207.0 896.7,1205.2 897.2,1204.6 897.7,1204.7 898.2,1205.2 898.7,1206.9 899.2,1206.4 899.7,1204.7 900.2,1207.3 900.7,1205.8 901.2,1206.8 901.7,1206.1 902.2,1205.5 902.7,1206.6 903.2,1206.1 903.7,1206.6 904.2,1206.6 904.7,1205.7 905.2,1207.0 905.7,1206.2 906.2,1207.2 906.7,1207.6 907.2,1207.2 907.7,1207.9 908.2,1208.7 908.7,1207.0 909.2,1206.6 909.7,1206.4 910.2,1208.1 910.7,1206.5 911.2,1208.0 911.7,1208.9 912.2,1206.8 912.7,1209.2 913.2,1206.9 913.7,1208.7 914.2,1208.2 914.7,1207.0 915.2,1208.3 915.7,1209.9 916.2,1208.2 916.7,1207.1 917.2,1209.2 917.7,1209.1 918.2,1207.4 918.7,1208.8 919.2,1207.5 919.7,1207.4 920.2,1209.6 920.7,1209.5 921.2,1210.3 921.7,1209.6 922.2,1208.7 922.7,1210.1 923.2,1208.4 923.7,1208.9 924.2,1209.7 924.7,1209.3 925.2,1209.4 925.7,1208.9 926.2,1210.4 926.7,1210.8 927.2,1210.6 927.7,1211.2 928.2,1210.2 928.7,1210.2 929.2,1208.2 929.7,1209.6 930.2,1208.5 930.7,1211.1 931.2,1210.3 931.7,1210.1 932.2,1209.8 932.7,1209.5 933.2,1210.1 933.7,1210.1 934.2,1210.8 934.7,1209.4 935.2,1210.4 935.7,1212.2 936.2,1209.0 936.7,1210.4 937.2,1209.8 937.7,1211.3 938.2,1211.6 938.7,1210.7 939.2,1210.3 939.7,1210.7 940.2,1211.6 940.7,1210.1 941.2,1210.6 941.7,1212.0 942.2,1210.0 942.7,1210.1 943.2,1212.0 943.7,1212.7 944.2,1212.0 944.7,1213.7 945.2,1210.6 945.7,1211.0 946.2,1212.0 946.7,1209.7 947.2,1211.3 947.7,1213.8 948.2,1213.0 948.7,1211.0 949.2,1214.3 949.7,1213.5 950.2,1212.3 950.7,1211.6 951.2,1212.6 951.7,1212.9 952.2,1211.8 952.7,1211.0 953.2,1212.3 953.7,1212.2 954.2,1210.6 954.7,1210.6 955.2,1211.1 955.7,1212.8 956.2,1210.9 956.7,1211.9 957.2,1212.4 957.7,1211.3 958.2,1211.3 958.7,1211.8 959.2,1212.4 959.7,1211.9 960.2,1214.4 960.7,1213.1 961.2,1213.3 961.7,1211.2 962.2,1211.0 962.7,1210.8 963.2,1211.1 963.7,1212.7" fill="none" stroke="#ff8205" stroke-width="2.3" stroke-linejoin="bevel"/>
<path d="M109.4,910.2 109.9,911.9 110.4,916.1 110.9,921.8 111.4,923.5 111.9,928.1 112.4,932.5 112.9,935.7 113.4,938.2 113.9,942.3 114.4,944.5 114.9,947.9 115.4,948.1 115.9,951.3 116.4,955.3 116.9,958.3 117.4,957.6 117.9,962.1 118.4,963.1 118.9,965.5 119.4,968.0 119.9,970.9 120.4,974.4 120.9,976.8 121.4,978.6 121.9,980.7 122.4,983.4 122.9,985.7 123.4,988.6 123.9,989.7 124.4,992.4 124.9,994.3 125.4,996.6 125.9,999.1 126.4,1001.1 126.9,1003.9 127.4,1004.7 127.9,1008.1 128.4,1008.2 128.9,1009.9 129.4,1012.7 129.9,1014.8 130.4,1016.5 130.9,1019.3 131.4,1020.9 131.9,1021.9 132.4,1022.7 132.9,1024.5 133.4,1027.5 133.9,1027.9 134.4,1027.9 134.9,1029.9 135.4,1031.5 135.9,1034.4 136.4,1034.5 136.9,1037.9 137.4,1037.5 137.9,1038.0 138.4,1038.4 138.9,1040.6 139.4,1040.5 139.9,1040.9 140.4,1043.2 140.9,1043.4 141.4,1045.2 141.9,1044.4 142.4,1042.3 142.9,1045.9 143.4,1043.9 143.9,1047.3 144.4,1047.9 144.9,1046.0 145.4,1046.0 145.9,1046.5 146.4,1049.8 146.9,1049.8 147.4,1050.8 147.9,1052.0 148.4,1055.4 148.9,1054.6 149.4,1056.3 149.9,1057.6 150.4,1058.7 150.9,1059.4 151.4,1058.5 151.9,1059.6 152.4,1059.5 152.9,1060.5 153.4,1063.0 153.9,1062.0 154.4,1062.7 154.9,1062.2 155.4,1062.1 155.9,1063.1 156.4,1061.4 156.9,1060.9 157.4,1061.0 157.9,1060.2 158.4,1059.7 158.9,1058.5 159.4,1055.8 159.9,1057.4 160.4,1056.4 160.9,1055.5 161.4,1052.6 161.9,1054.5 162.4,1050.0 162.9,1051.1 163.4,1050.2 163.9,1050.2 164.4,1052.2 164.9,1051.9 165.4,1051.1 165.9,1053.4 166.4,1055.8 166.9,1058.6 167.4,1056.3 167.9,1058.3 168.4,1060.4 168.9,1060.0 169.4,1059.5 169.9,1059.1 170.4,1059.3 170.9,1060.8 171.4,1062.3 171.9,1061.9 172.4,1063.8 172.9,1067.3 173.4,1068.4 173.9,1069.8 174.4,1071.7 174.9,1072.7 175.4,1075.5 175.9,1077.1 176.4,1078.4 176.9,1077.9 177.4,1079.0 177.9,1080.5 178.4,1081.6 178.9,1082.1 179.4,1082.6 179.9,1081.5 180.4,1081.1 180.9,1083.8 181.4,1083.7 181.9,1084.0 182.4,1083.7 182.9,1083.8 183.4,1086.8 183.9,1086.2 184.4,1085.3 184.9,1086.9 185.4,1086.9 185.9,1087.5 186.4,1089.2 186.9,1087.1 187.4,1086.3 187.9,1087.7 188.4,1086.9 188.9,1088.1 189.4,1087.9 189.9,1088.0 190.4,1087.1 190.9,1088.1 191.4,1087.3 191.9,1088.1 192.4,1087.2 192.9,1086.5 193.4,1088.0 193.9,1087.0 194.4,1089.1 194.9,1088.3 195.4,1088.3 195.9,1088.0 196.4,1087.7 196.9,1085.7 197.4,1089.0 197.9,1087.2 198.4,1088.9 198.9,1087.2 199.4,1087.5 199.9,1087.3 200.4,1086.4 200.9,1087.0 201.4,1087.6 201.9,1086.6 202.4,1085.8 202.9,1086.4 203.4,1087.0 203.9,1087.6 204.4,1087.3 204.9,1086.7 205.4,1085.4 205.9,1087.0 206.4,1086.1 206.9,1085.8 207.4,1086.6 207.9,1086.3 208.4,1086.0 208.9,1084.5 209.4,1085.0 209.9,1084.0 210.4,1085.4 210.9,1085.4 211.4,1086.2 211.9,1085.4 212.4,1084.9 212.9,1087.3 213.4,1084.6 213.9,1084.3 214.4,1085.0 214.9,1086.2 215.4,1085.7 215.9,1085.9 216.4,1085.6 216.9,1088.5 217.4,1086.8 217.9,1086.5 218.4,1087.4 218.9,1087.0 219.4,1087.6 219.9,1089.3 220.4,1087.9 220.9,1088.5 221.4,1088.2 221.9,1088.4 222.4,1089.4 222.9,1089.1 223.4,1088.3 223.9,1087.9 224.4,1088.7 224.9,1089.4 225.4,1088.6 225.9,1088.4 226.4,1086.9 226.9,1089.2 227.4,1086.9 227.9,1087.0 228.4,1087.8 228.9,1087.9 229.4,1088.0 229.9,1087.3 230.4,1087.8 230.9,1087.5 231.4,1086.5 231.9,1087.8 232.4,1087.5 232.9,1088.4 233.4,1087.8 233.9,1088.8 234.4,1088.6 234.9,1088.5 235.4,1089.0 235.9,1088.3 236.4,1087.4 236.9,1088.9 237.4,1086.6 237.9,1087.5 238.4,1088.5 238.9,1087.4 239.4,1088.2 239.9,1086.9 240.4,1087.1 240.9,1087.9 241.4,1087.9 241.9,1088.3 242.4,1087.1 242.9,1087.1 243.4,1087.6 243.9,1087.3 244.4,1085.6 244.9,1086.1 245.4,1088.0 245.9,1085.3 246.4,1087.2 246.9,1086.2 247.4,1087.6 247.9,1085.8 248.4,1086.5 248.9,1084.6 249.4,1086.4 249.9,1087.4 250.4,1084.9 250.9,1087.1 251.4,1085.2 251.9,1085.9 252.4,1083.1 252.9,1086.7 253.4,1085.2 253.9,1085.2 254.4,1084.4 254.9,1084.8 255.4,1086.6 255.9,1085.1 256.4,1086.5 256.9,1085.4 257.4,1086.0 257.9,1085.2 258.4,1086.1 258.9,1088.2 259.4,1086.2 259.9,1085.9 260.4,1084.9 260.9,1086.2 261.4,1086.2 261.9,1083.6 262.4,1083.8 262.9,1087.1 263.4,1085.5 263.9,1085.1 264.4,1085.3 264.9,1085.9 265.4,1085.8 265.9,1084.8 266.4,1087.2 266.9,1085.4 267.4,1084.4 267.9,1084.4 268.4,1084.9 268.9,1084.8 269.4,1085.0 269.9,1085.7 270.4,1082.6 270.9,1085.0 271.4,1086.3 271.9,1086.0 272.4,1084.9 272.9,1084.8 273.4,1086.4 273.9,1085.3 274.4,1085.1 274.9,1087.4 275.4,1085.5 275.9,1086.6 276.4,1086.1 276.9,1086.0 277.4,1085.1 277.9,1085.2 278.4,1087.1 278.9,1084.7 279.4,1086.2 279.9,1085.0 280.4,1085.9 280.9,1086.0 281.4,1084.6 281.9,1087.0 282.4,1084.9 282.9,1085.4 283.4,1082.5 283.9,1083.2 284.4,1083.3 284.9,1080.3 285.4,1078.4 285.9,1077.8 286.4,1075.4 286.9,1073.4 287.4,1072.0 287.9,1070.5 288.4,1071.1 288.9,1070.9 289.4,1071.4 289.9,1074.4 290.4,1075.3 290.9,1079.6 291.4,1078.3 291.9,1078.9 292.4,1080.4 292.9,1082.1 293.4,1082.0 293.9,1082.1 294.4,1085.1 294.9,1082.6 295.4,1085.5 295.9,1084.4 296.4,1083.7 296.9,1086.5 297.4,1085.0 297.9,1084.2 298.4,1085.4 298.9,1086.7 299.4,1086.2 299.9,1086.4 300.4,1087.7 300.9,1086.4 301.4,1086.6 301.9,1086.2 302.4,1085.0 302.9,1086.2 303.4,1087.9 303.9,1084.9 304.4,1087.6 304.9,1086.6 305.4,1085.8 305.9,1086.7 306.4,1088.3 306.9,1086.4 307.4,1087.8 307.9,1088.0 308.4,1086.0 308.9,1087.5 309.4,1087.4 309.9,1086.3 310.4,1087.3 310.9,1086.6 311.4,1086.3 311.9,1085.7 312.4,1087.4 312.9,1086.8 313.4,1086.5 313.9,1086.0 314.4,1085.9 314.9,1086.4 315.4,1087.9 315.9,1086.8 316.4,1088.9 316.9,1088.2 317.4,1088.0 317.9,1086.6 318.4,1089.4 318.9,1086.3 319.4,1087.8 319.9,1088.9 320.4,1087.2 320.9,1087.0 321.4,1087.8 321.9,1088.7 322.4,1089.1 322.9,1088.5 323.4,1086.9 323.9,1087.2 324.4,1088.1 324.9,1086.7 325.4,1087.7 325.9,1090.0 326.4,1087.1 326.9,1089.2 327.4,1087.4 327.9,1088.0 328.4,1088.0 328.9,1086.6 329.4,1087.7 329.9,1089.2 330.4,1088.4 330.9,1088.6 331.4,1087.4 331.9,1088.1 332.4,1088.2 332.9,1088.8 333.4,1089.6 333.9,1087.3 334.4,1089.8 334.9,1088.1 335.4,1088.2 335.9,1087.2 336.4,1088.4 336.9,1088.3 337.4,1087.2 337.9,1088.2 338.4,1088.5 338.9,1088.0 339.4,1089.2 339.9,1087.6 340.4,1089.4 340.9,1088.4 341.4,1088.9 341.9,1086.8 342.4,1088.6 342.9,1088.3 343.4,1089.3 343.9,1087.5 344.4,1089.8 344.9,1087.7 345.4,1090.0 345.9,1089.4 346.4,1088.1 346.9,1090.8 347.4,1087.6 347.9,1088.7 348.4,1089.1 348.9,1089.4 349.4,1089.1 349.9,1089.7 350.4,1089.4 350.9,1089.0 351.4,1088.2 351.9,1088.7 352.4,1089.6 352.9,1087.5 353.4,1088.6 353.9,1086.4 354.4,1087.7 354.9,1086.8 355.4,1089.4 355.9,1086.5 356.4,1087.8 356.9,1088.5 357.4,1088.4 357.9,1088.3 358.4,1088.4 358.9,1087.7 359.4,1087.9 359.9,1086.9 360.4,1086.8 360.9,1085.1 361.4,1086.7 361.9,1087.5 362.4,1085.5 362.9,1085.0 363.4,1086.0 363.9,1086.8 364.4,1086.7 364.9,1084.1 365.4,1085.9 365.9,1084.9 366.4,1085.7 366.9,1083.4 367.4,1086.4 367.9,1085.0 368.4,1085.5 368.9,1084.9 369.4,1084.0 369.9,1085.2 370.4,1084.1 370.9,1083.6 371.4,1084.8 371.9,1084.1 372.4,1083.4 372.9,1084.9 373.4,1083.5 373.9,1084.3 374.4,1085.1 374.9,1085.3 375.4,1085.4 375.9,1085.7 376.4,1084.0 376.9,1083.3 377.4,1085.7 377.9,1085.7 378.4,1084.5 378.9,1085.6 379.4,1084.7 379.9,1083.7 380.4,1086.4 380.9,1085.7 381.4,1085.6 381.9,1087.1 382.4,1087.1 382.9,1085.3 383.4,1085.1 383.9,1084.7 384.4,1086.6 384.9,1086.3 385.4,1086.9 385.9,1086.6 386.4,1085.9 386.9,1086.2 387.4,1085.1 387.9,1088.1 388.4,1086.5 388.9,1087.7 389.4,1086.5 389.9,1087.3 390.4,1087.6 390.9,1086.7 391.4,1086.0 391.9,1089.0 392.4,1086.7 392.9,1087.4 393.4,1086.7 393.9,1086.1 394.4,1087.8 394.9,1086.7 395.4,1086.4 395.9,1084.0 396.4,1086.2 396.9,1086.6 397.4,1085.9 397.9,1085.4 398.4,1086.5 398.9,1085.3 399.4,1085.6 399.9,1085.9 400.4,1085.8 400.9,1083.2 401.4,1084.7 401.9,1083.3 402.4,1081.9 402.9,1083.7 403.4,1082.0 403.9,1082.9 404.4,1080.8 404.9,1081.9 405.4,1082.3 405.9,1082.3 406.4,1081.7 406.9,1081.5 407.4,1081.4 407.9,1083.5 408.4,1081.4 408.9,1081.5 409.4,1083.0 409.9,1079.5 410.4,1079.2 410.9,1080.1 411.4,1080.7 411.9,1080.0 412.4,1080.8 412.9,1080.4 413.4,1078.9 413.9,1080.3 414.4,1078.6 414.9,1080.5 415.4,1079.7 415.9,1081.5 416.4,1080.1 416.9,1079.2 417.4,1079.6 417.9,1079.6 418.4,1078.5 418.9,1077.6 419.4,1079.6 419.9,1079.9 420.4,1077.9 420.9,1078.1 421.4,1077.9 421.9,1079.4 422.4,1079.2 422.9,1077.0 423.4,1077.2 423.9,1076.7 424.4,1077.0 424.9,1077.3 425.4,1077.7 425.9,1076.4 426.4,1075.6 426.9,1077.0 427.4,1076.7 427.9,1075.3 428.4,1075.3 428.9,1075.2 429.4,1075.5 429.9,1074.8 430.4,1075.1 430.9,1074.6 431.4,1073.2 431.9,1074.5 432.4,1073.4 432.9,1074.2 433.4,1071.9 433.9,1072.2 434.4,1072.8 434.9,1070.8 435.4,1071.8 435.9,1071.0 436.4,1070.6 436.9,1070.5 437.4,1068.2 437.9,1069.7 438.4,1069.5 438.9,1070.2 439.4,1070.1 439.9,1068.6 440.4,1068.7 440.9,1065.2 441.4,1067.3 441.9,1067.3 442.4,1066.7 442.9,1065.7 443.4,1064.6 443.9,1063.8 444.4,1063.4 444.9,1063.2 445.4,1062.7 445.9,1061.6 446.4,1059.9 446.9,1062.3 447.4,1059.0 447.9,1056.4 448.4,1059.4 448.9,1058.5 449.4,1057.0 449.9,1057.1 450.4,1055.9 450.9,1053.6 451.4,1053.4 451.9,1051.3 452.4,1050.6 452.9,1049.4 453.4,1049.5 453.9,1049.4 454.4,1046.7 454.9,1046.6 455.4,1043.0 455.9,1042.3 456.4,1042.1 456.9,1040.9 457.4,1039.4 457.9,1037.8 458.4,1033.9 458.9,1033.5 459.4,1029.8 459.9,1030.5 460.4,1029.3 460.9,1027.2 461.4,1025.2 461.9,1025.1 462.4,1023.6 462.9,1021.6 463.4,1019.2 463.9,1018.0 464.4,1016.4 464.9,1015.1 465.4,1014.2 465.9,1012.9 466.4,1011.1 466.9,1012.0 467.4,1012.9 467.9,1012.9 468.4,1014.2 468.9,1014.5 469.4,1017.7 469.9,1018.4 470.4,1019.6 470.9,1021.6 471.4,1023.2 471.9,1024.1 472.4,1026.1 472.9,1027.2 473.4,1028.3 473.9,1029.5 474.4,1030.1 474.9,1032.9 475.4,1034.3 475.9,1034.8 476.4,1038.3 476.9,1038.0 477.4,1038.2 477.9,1039.9 478.4,1041.1 478.9,1042.1 479.4,1042.5 479.9,1044.2 480.4,1043.9 480.9,1045.8 481.4,1047.5 481.9,1047.4 482.4,1049.4 482.9,1050.2 483.4,1049.7 483.9,1048.6 484.4,1052.3 484.9,1053.3 485.4,1051.2 485.9,1053.2 486.4,1054.0 486.9,1052.7 487.4,1054.2 487.9,1056.4 488.4,1056.3 488.9,1056.7 489.4,1058.3 489.9,1057.2 490.4,1056.4 490.9,1059.5 491.4,1058.0 491.9,1058.9 492.4,1060.3 492.9,1059.6 493.4,1059.5 493.9,1058.7 494.4,1059.9 494.9,1061.2 495.4,1058.9 495.9,1058.3 496.4,1059.5 496.9,1058.4 497.4,1059.3 497.9,1059.2 498.4,1059.7 498.9,1059.6 499.4,1059.9 499.9,1060.8 500.4,1059.0 500.9,1060.3 501.4,1060.9 501.9,1059.6 502.4,1060.1 502.9,1060.9 503.4,1061.1 503.9,1063.1 504.4,1062.6 504.9,1065.9 505.4,1063.2 505.9,1063.6 506.4,1066.4 506.9,1064.3 507.4,1067.1 507.9,1062.7 508.4,1065.2 508.9,1067.3 509.4,1067.8 509.9,1067.0 510.4,1066.3 510.9,1067.1 511.4,1068.4 511.9,1068.1 512.4,1068.8 512.9,1067.5 513.4,1069.2 513.9,1069.6 514.4,1071.5 514.9,1069.5 515.4,1069.6 515.9,1068.2 516.4,1067.9 516.9,1067.0 517.4,1069.5 517.9,1070.8 518.4,1068.6 518.9,1066.1 519.4,1068.2 519.9,1067.6 520.4,1067.2 520.9,1069.0 521.4,1068.3 521.9,1068.3 522.4,1065.9 522.9,1066.6 523.4,1065.0 523.9,1066.6 524.4,1064.4 524.9,1066.3 525.4,1065.4 525.9,1065.3 526.4,1063.8 526.9,1065.5 527.4,1063.0 527.9,1063.4 528.4,1063.5 528.9,1066.2 529.4,1064.4 529.9,1063.7 530.4,1064.9 530.9,1066.3 531.4,1063.6 531.9,1062.7 532.4,1062.5 532.9,1063.4 533.4,1065.2 533.9,1063.8 534.4,1063.8 534.9,1062.9 535.4,1062.7 535.9,1064.6 536.4,1063.7 536.9,1063.7 537.4,1062.0 537.9,1063.7 538.4,1063.4 538.9,1064.3 539.4,1063.7 539.9,1062.4 540.4,1062.7 540.9,1062.5 541.4,1061.9 541.9,1060.8 542.4,1062.1 542.9,1062.7 543.4,1060.1 543.9,1061.3 544.4,1059.0 544.9,1058.5 545.4,1058.9 545.9,1058.3 546.4,1059.6 546.9,1059.8 547.4,1056.6 547.9,1059.7 548.4,1059.4 548.9,1060.5 549.4,1058.3 549.9,1059.2 550.4,1060.2 550.9,1060.1 551.4,1060.6 551.9,1058.2 552.4,1058.3 552.9,1059.4 553.4,1057.6 553.9,1059.4 554.4,1060.1 554.9,1060.0 555.4,1059.1 555.9,1060.5 556.4,1061.7 556.9,1063.6 557.4,1064.8 557.9,1065.7 558.4,1065.7 558.9,1066.8 559.4,1068.8 559.9,1069.9 560.4,1071.6 560.9,1072.7 561.4,1075.0 561.9,1075.9 562.4,1078.2 562.9,1079.4 563.4,1081.2 563.9,1080.9 564.4,1082.0 564.9,1082.5 565.4,1084.3 565.9,1085.5 566.4,1086.5 566.9,1086.1 567.4,1086.5 567.9,1087.9 568.4,1087.8 568.9,1087.2 569.4,1089.4 569.9,1088.6 570.4,1088.2 570.9,1089.8 571.4,1089.9 571.9,1091.1 572.4,1091.0 572.9,1091.6 573.4,1091.7 573.9,1092.4 574.4,1093.3 574.9,1093.0 575.4,1093.0 575.9,1094.2 576.4,1092.3 576.9,1094.0 577.4,1095.4 577.9,1095.2 578.4,1096.0 578.9,1094.4 579.4,1096.6 579.9,1095.1 580.4,1097.0 580.9,1096.4 581.4,1097.0 581.9,1095.8 582.4,1096.3 582.9,1095.0 583.4,1097.3 583.9,1098.1 584.4,1097.9 584.9,1099.1 585.4,1098.8 585.9,1098.4 586.4,1099.0 586.9,1098.2 587.4,1099.4 587.9,1098.8 588.4,1099.2 588.9,1098.6 589.4,1098.3 589.9,1098.1 590.4,1099.0 590.9,1100.1 591.4,1098.2 591.9,1100.3 592.4,1103.7 592.9,1100.8 593.4,1100.3 593.9,1100.8 594.4,1100.3 594.9,1100.6 595.4,1100.7 595.9,1099.7 596.4,1101.9 596.9,1101.1 597.4,1101.9 597.9,1101.2 598.4,1102.3 598.9,1101.4 599.4,1104.3 599.9,1102.8 600.4,1103.2 600.9,1101.9 601.4,1100.7 601.9,1101.8 602.4,1102.4 602.9,1102.1 603.4,1101.6 603.9,1101.5 604.4,1101.2 604.9,1102.2 605.4,1103.2 605.9,1103.2 606.4,1103.4 606.9,1102.7 607.4,1103.1 607.9,1103.1 608.4,1103.4 608.9,1103.3 609.4,1103.6 609.9,1102.8 610.4,1102.9 610.9,1104.6 611.4,1104.4 611.9,1101.4 612.4,1104.0 612.9,1103.9 613.4,1104.4 613.9,1102.0 614.4,1102.4 614.9,1103.6 615.4,1104.4 615.9,1103.2 616.4,1105.5 616.9,1105.6 617.4,1105.1 617.9,1105.5 618.4,1104.0 618.9,1104.7 619.4,1102.9 619.9,1106.3 620.4,1106.5 620.9,1105.9 621.4,1104.6 621.9,1105.6 622.4,1106.5 622.9,1104.4 623.4,1105.7 623.9,1106.3 624.4,1105.3 624.9,1105.5 625.4,1107.3 625.9,1107.1 626.4,1107.7 626.9,1106.4 627.4,1105.3 627.9,1106.4 628.4,1105.9 628.9,1106.5 629.4,1107.4 629.9,1108.4 630.4,1107.0 630.9,1108.7 631.4,1105.9 631.9,1106.9 632.4,1107.2 632.9,1105.3 633.4,1105.8 633.9,1107.0 634.4,1107.4 634.9,1108.0 635.4,1107.5 635.9,1107.2 636.4,1106.2 636.9,1107.7 637.4,1109.1 637.9,1108.2 638.4,1107.2 638.9,1108.2 639.4,1108.2 639.9,1108.7 640.4,1107.3 640.9,1108.2 641.4,1108.1 641.9,1107.6 642.4,1107.8 642.9,1107.4 643.4,1108.1 643.9,1108.2 644.4,1106.8 644.9,1107.9 645.4,1109.5 645.9,1108.0 646.4,1106.4 646.9,1109.4 647.4,1108.0 647.9,1108.3 648.4,1108.8 648.9,1108.0 649.4,1107.6 649.9,1108.0 650.4,1108.9 650.9,1108.6 651.4,1108.5 651.9,1110.6 652.4,1108.8 652.9,1109.5 653.4,1110.4 653.9,1108.6 654.4,1108.1 654.9,1108.3 655.4,1108.5 655.9,1110.2 656.4,1109.8 656.9,1108.5 657.4,1108.0 657.9,1109.4 658.4,1110.3 658.9,1107.8 659.4,1110.1 659.9,1109.1 660.4,1108.6 660.9,1108.2 661.4,1108.1 661.9,1108.1 662.4,1109.6 662.9,1107.4 663.4,1108.4 663.9,1108.7 664.4,1107.7 664.9,1108.2 665.4,1107.3 665.9,1109.3 666.4,1109.3 666.9,1107.3 667.4,1109.9 667.9,1107.8 668.4,1107.0 668.9,1107.1 669.4,1109.2 669.9,1106.3 670.4,1108.1 670.9,1108.0 671.4,1108.5 671.9,1107.0 672.4,1108.2 672.9,1106.6 673.4,1107.3 673.9,1105.1 674.4,1106.1 674.9,1105.3 675.4,1105.4 675.9,1107.1 676.4,1104.6 676.9,1104.2 677.4,1103.9 677.9,1103.6 678.4,1100.6 678.9,1102.9 679.4,1100.3 679.9,1098.8 680.4,1099.6 680.9,1097.6 681.4,1098.1 681.9,1097.9 682.4,1096.0 682.9,1093.9 683.4,1093.2 683.9,1092.9 684.4,1088.9 684.9,1088.1 685.4,1085.2 685.9,1080.0 686.4,1078.8 686.9,1073.1 687.4,1071.0 687.9,1067.3 688.4,1063.2 688.9,1058.9 689.4,1057.7 689.9,1056.1 690.4,1055.3 690.9,1053.5 691.4,1052.8 691.9,1050.4 692.4,1047.3 692.9,1046.2 693.4,1044.3 693.9,1038.2 694.4,1033.6 694.9,1027.8 695.4,1026.2 695.9,1018.2 696.4,1014.0 696.9,1005.0 697.4,996.9 697.9,991.5 698.4,992.4 698.9,996.7 699.4,1003.2 699.9,1011.7 700.4,1022.9 700.9,1032.5 701.4,1044.1 701.9,1057.6 702.4,1069.1 702.9,1081.3 703.4,1089.5 703.9,1098.4 704.4,1104.6 704.9,1109.2 705.4,1111.3 705.9,1111.2 706.4,1114.3 706.9,1115.5 707.4,1116.9 707.9,1117.3 708.4,1116.0 708.9,1118.0 709.4,1117.6 709.9,1117.3 710.4,1117.2 710.9,1118.9 711.4,1119.0 711.9,1118.2 712.4,1119.1 712.9,1118.4 713.4,1118.2 713.9,1118.2 714.4,1119.6 714.9,1119.6 715.4,1120.0 715.9,1120.1 716.4,1120.1 716.9,1121.0 717.4,1118.7 717.9,1121.1 718.4,1119.3 718.9,1120.3 719.4,1120.6 719.9,1120.7 720.4,1120.9 720.9,1120.0 721.4,1122.2 721.9,1121.8 722.4,1121.2 722.9,1121.6 723.4,1120.5 723.9,1119.5 724.4,1119.9 724.9,1122.0 725.4,1119.2 725.9,1122.9 726.4,1122.0 726.9,1120.6 727.4,1121.1 727.9,1120.4 728.4,1122.1 728.9,1122.8 729.4,1123.9 729.9,1121.6 730.4,1123.8 730.9,1123.3 731.4,1123.0 731.9,1123.1 732.4,1123.6 732.9,1125.2 733.4,1124.8 733.9,1124.3 734.4,1123.0 734.9,1123.6 735.4,1124.7 735.9,1124.4 736.4,1123.4 736.9,1125.9 737.4,1126.5 737.9,1125.0 738.4,1124.1 738.9,1124.6 739.4,1123.7 739.9,1123.7 740.4,1124.9 740.9,1124.4 741.4,1125.5 741.9,1127.4 742.4,1125.3 742.9,1125.1 743.4,1125.3 743.9,1125.6 744.4,1126.7 744.9,1125.3 745.4,1126.0 745.9,1124.5 746.4,1124.6 746.9,1125.3 747.4,1126.7 747.9,1125.1 748.4,1127.4 748.9,1125.5 749.4,1126.6 749.9,1126.5 750.4,1128.2 750.9,1125.8 751.4,1125.7 751.9,1126.4 752.4,1127.0 752.9,1126.7 753.4,1124.9 753.9,1125.5 754.4,1125.2 754.9,1128.3 755.4,1127.4 755.9,1127.9 756.4,1125.3 756.9,1127.3 757.4,1126.8 757.9,1128.0 758.4,1125.6 758.9,1128.5 759.4,1128.1 759.9,1128.1 760.4,1126.5 760.9,1129.4 761.4,1128.0 761.9,1128.2 762.4,1128.0 762.9,1127.6 763.4,1128.1 763.9,1128.2 764.4,1129.2 764.9,1128.5 765.4,1127.5 765.9,1128.3 766.4,1129.0 766.9,1127.4 767.4,1127.9 767.9,1129.2 768.4,1128.9 768.9,1128.1 769.4,1129.1 769.9,1129.8 770.4,1129.6 770.9,1129.0 771.4,1130.7 771.9,1127.9 772.4,1129.4 772.9,1129.7 773.4,1128.4 773.9,1128.5 774.4,1128.4 774.9,1129.4 775.4,1129.4 775.9,1130.1 776.4,1130.9 776.9,1129.3 777.4,1129.8 777.9,1130.4 778.4,1128.2 778.9,1129.9 779.4,1128.6 779.9,1129.5 780.4,1129.2 780.9,1131.0 781.4,1129.6 781.9,1129.5 782.4,1130.9 782.9,1130.3 783.4,1129.3 783.9,1131.4 784.4,1131.3 784.9,1130.1 785.4,1129.0 785.9,1129.8 786.4,1129.6 786.9,1131.9 787.4,1129.8 787.9,1131.2 788.4,1131.6 788.9,1131.0 789.4,1131.2 789.9,1132.2 790.4,1131.7 790.9,1129.8 791.4,1132.3 791.9,1129.1 792.4,1130.5 792.9,1132.1 793.4,1129.5 793.9,1132.0 794.4,1133.2 794.9,1131.1 795.4,1129.9 795.9,1133.3 796.4,1131.4 796.9,1131.1 797.4,1131.3 797.9,1131.5 798.4,1131.3 798.9,1133.7 799.4,1131.2 799.9,1130.4 800.4,1130.8 800.9,1131.8 801.4,1133.7 801.9,1131.0 802.4,1132.1 802.9,1133.0 803.4,1132.3 803.9,1132.4 804.4,1132.3 804.9,1133.1 805.4,1132.0 805.9,1134.0 806.4,1131.2 806.9,1133.8 807.4,1134.1 807.9,1133.1 808.4,1132.9 808.9,1134.2 809.4,1132.0 809.9,1132.4 810.4,1132.0 810.9,1133.0 811.4,1131.8 811.9,1132.5 812.4,1133.9 812.9,1133.4 813.4,1133.6 813.9,1135.0 814.4,1131.7 814.9,1133.0 815.4,1133.6 815.9,1135.0 816.4,1132.8 816.9,1133.6 817.4,1134.3 817.9,1132.8 818.4,1133.2 818.9,1133.7 819.4,1133.2 819.9,1134.3 820.4,1134.3 820.9,1133.4 821.4,1134.6 821.9,1134.6 822.4,1134.3 822.9,1133.6 823.4,1135.7 823.9,1132.9 824.4,1133.8 824.9,1134.4 825.4,1131.4 825.9,1133.3 826.4,1132.4 826.9,1134.2 827.4,1134.9 827.9,1133.7 828.4,1134.5 828.9,1135.2 829.4,1133.9 829.9,1134.6 830.4,1134.1 830.9,1135.7 831.4,1134.9 831.9,1136.5 832.4,1136.2 832.9,1133.6 833.4,1134.8 833.9,1134.9 834.4,1134.7 834.9,1135.0 835.4,1134.5 835.9,1135.6 836.4,1135.5 836.9,1135.4 837.4,1134.4 837.9,1136.2 838.4,1133.9 838.9,1136.1 839.4,1135.7 839.9,1134.7 840.4,1135.7 840.9,1137.4 841.4,1135.4 841.9,1134.8 842.4,1135.4 842.9,1136.0 843.4,1137.1 843.9,1135.3 844.4,1136.7 844.9,1136.1 845.4,1137.2 845.9,1136.6 846.4,1135.4 846.9,1137.0 847.4,1137.2 847.9,1136.1 848.4,1134.5 848.9,1135.6 849.4,1136.4 849.9,1137.1 850.4,1136.0 850.9,1137.3 851.4,1135.7 851.9,1135.1 852.4,1137.0 852.9,1136.0 853.4,1138.0 853.9,1137.8 854.4,1136.6 854.9,1136.5 855.4,1137.4 855.9,1138.4 856.4,1137.9 856.9,1137.8 857.4,1138.9 857.9,1138.6 858.4,1137.7 858.9,1137.9 859.4,1136.7 859.9,1138.5 860.4,1138.5 860.9,1139.3 861.4,1138.2 861.9,1138.3 862.4,1138.5 862.9,1138.5 863.4,1138.8 863.9,1138.8 864.4,1140.5 864.9,1139.6 865.4,1140.1 865.9,1140.2 866.4,1139.0 866.9,1138.3 867.4,1139.1 867.9,1140.0 868.4,1140.5 868.9,1139.3 869.4,1141.2 869.9,1140.5 870.4,1141.5 870.9,1140.0 871.4,1138.4 871.9,1141.8 872.4,1142.0 872.9,1143.9 873.4,1142.1 873.9,1142.4 874.4,1143.7 874.9,1139.5 875.4,1140.8 875.9,1140.5 876.4,1142.5 876.9,1141.9 877.4,1142.8 877.9,1141.0 878.4,1141.8 878.9,1142.6 879.4,1142.5 879.9,1142.5 880.4,1143.8 880.9,1142.3 881.4,1142.5 881.9,1142.7 882.4,1143.7 882.9,1142.1 883.4,1142.1 883.9,1142.2 884.4,1141.6 884.9,1142.9 885.4,1142.9 885.9,1141.9 886.4,1143.3 886.9,1143.9 887.4,1145.2 887.9,1143.5 888.4,1144.8 888.9,1143.8 889.4,1144.9 889.9,1142.7 890.4,1142.7 890.9,1144.1 891.4,1144.1 891.9,1144.7 892.4,1145.4 892.9,1143.9 893.4,1145.1 893.9,1144.4 894.4,1146.8 894.9,1144.5 895.4,1144.4 895.9,1146.4 896.4,1143.3 896.9,1146.3 897.4,1145.6 897.9,1145.0 898.4,1145.2 898.9,1145.7 899.4,1146.1 899.9,1145.1 900.4,1146.2 900.9,1146.5 901.4,1146.0 901.9,1147.5 902.4,1145.0 902.9,1145.9 903.4,1146.7 903.9,1146.4 904.4,1147.4 904.9,1147.2 905.4,1145.6 905.9,1148.1 906.4,1146.3 906.9,1147.8 907.4,1146.8 907.9,1147.8 908.4,1144.4 908.9,1147.2 909.4,1146.6 909.9,1148.3 910.4,1148.3 910.9,1148.4 911.4,1147.0 911.9,1147.5 912.4,1146.8 912.9,1147.8 913.4,1147.8 913.9,1148.4 914.4,1149.1 914.9,1147.0 915.4,1147.9 915.9,1148.5 916.4,1147.7 916.9,1146.2 917.4,1147.4 917.9,1147.4 918.4,1147.0 918.9,1148.2 919.4,1147.7 919.9,1147.7 920.4,1147.9 920.9,1148.2 921.4,1149.0 921.9,1149.2 922.4,1149.0 922.9,1149.4 923.4,1149.4 923.9,1148.4 924.4,1149.6 924.9,1150.1 925.4,1148.6 925.9,1150.0 926.4,1149.3 926.9,1149.3 927.4,1150.2 927.9,1147.5 928.4,1149.5 928.9,1148.1 929.4,1149.2 929.9,1147.4 930.4,1150.4 930.9,1150.9 931.4,1148.8 931.9,1151.1 932.4,1149.2 932.9,1149.5 933.4,1148.7 933.9,1150.3 934.4,1149.2 934.9,1149.3 935.4,1149.5 935.9,1148.2 936.4,1149.6 936.9,1149.3 937.4,1150.8 937.9,1149.4 938.4,1150.2 938.9,1150.3 939.4,1150.9 939.9,1151.1 940.4,1150.1 940.9,1149.3 941.4,1149.9 941.9,1149.7 942.4,1150.8 942.9,1150.0 943.4,1150.6 943.9,1150.6 944.4,1150.8 944.9,1149.8 945.4,1151.9 945.9,1150.3 946.4,1149.5 946.9,1150.3 947.4,1150.4 947.9,1150.2 948.4,1151.0 948.9,1150.1 949.4,1150.7 949.9,1151.5 950.4,1149.9 950.9,1150.3 951.4,1152.2 951.9,1151.3 952.4,1151.8 952.9,1151.0 953.4,1151.1 953.9,1150.9 954.4,1150.6 954.9,1152.2 955.4,1150.1 955.9,1150.5 956.4,1150.1 956.9,1152.7 957.4,1150.2 957.9,1151.9 958.4,1149.5 958.9,1152.8 959.4,1153.4 959.9,1151.2 960.4,1152.6 960.9,1150.4 961.4,1151.0 961.9,1152.6 962.4,1151.5 962.9,1151.1 963.4,1151.5 963.9,1150.9" fill="none" stroke="#ff5500" stroke-width="2.3" stroke-linejoin="bevel"/>
</g>
<line x1="465.0" y1="993.0" x2="465.0" y2="1372.6" stroke="#000" stroke-width="1.8" stroke-dasharray="5.5 4"/>
<line x1="550.1" y1="1036.0" x2="550.1" y2="1372.0" stroke="#000" stroke-width="1.8" stroke-dasharray="5.5 4"/>
<line x1="851.4" y1="1103.9" x2="851.4" y2="1388.3" stroke="#000" stroke-width="1.8" stroke-dasharray="5.5 4"/>
<line x1="227.7" y1="1401.9" x2="227.7" y2="1412.4" stroke="#000" stroke-width="2"/>
<text transform="translate(206.95 1437.80) rotate(0.03) scale(0.9750 1.0000)" font-size="25.51" stroke="#000" stroke-width="0.7">500</text>
<line x1="374.8" y1="1401.9" x2="374.8" y2="1412.4" stroke="#000" stroke-width="2"/>
<text transform="translate(347.15 1437.80) rotate(0.03) scale(0.9750 1.0000)" font-size="25.51" stroke="#000" stroke-width="0.7">1000</text>
<line x1="521.9" y1="1401.9" x2="521.9" y2="1412.4" stroke="#000" stroke-width="2"/>
<text transform="translate(494.27 1437.80) rotate(0.03) scale(0.9750 1.0000)" font-size="25.51" stroke="#000" stroke-width="0.7">1500</text>
<line x1="669.1" y1="1401.9" x2="669.1" y2="1412.4" stroke="#000" stroke-width="2"/>
<text transform="translate(641.39 1437.80) rotate(0.03) scale(0.9750 1.0000)" font-size="25.51" stroke="#000" stroke-width="0.7">2000</text>
<line x1="816.2" y1="1401.9" x2="816.2" y2="1412.4" stroke="#000" stroke-width="2"/>
<text transform="translate(788.51 1437.80) rotate(0.03) scale(0.9750 1.0000)" font-size="25.51" stroke="#000" stroke-width="0.7">2500</text>
<line x1="963.3" y1="1401.9" x2="963.3" y2="1412.4" stroke="#000" stroke-width="2"/>
<text transform="translate(936.37 1437.80) rotate(0.03) scale(0.9750 1.0000)" font-size="25.51" stroke="#000" stroke-width="0.7">3000</text>
<line x1="154.1" y1="1401.9" x2="154.1" y2="1407.7" stroke="#000" stroke-width="2"/>
<line x1="301.3" y1="1401.9" x2="301.3" y2="1407.7" stroke="#000" stroke-width="2"/>
<line x1="448.4" y1="1401.9" x2="448.4" y2="1407.7" stroke="#000" stroke-width="2"/>
<line x1="595.5" y1="1401.9" x2="595.5" y2="1407.7" stroke="#000" stroke-width="2"/>
<line x1="742.6" y1="1401.9" x2="742.6" y2="1407.7" stroke="#000" stroke-width="2"/>
<line x1="889.7" y1="1401.9" x2="889.7" y2="1407.7" stroke="#000" stroke-width="2"/>
<text transform="translate(146.74 999.89) rotate(0.03) scale(1.0018 1.0000)" font-size="22.81" stroke="#000" stroke-width="0.7">Fe-O</text>
<text transform="translate(197.85 1039.60) rotate(0.03) scale(0.9981 1.0000)" font-size="22.81" stroke="#000" stroke-width="0.7">Ni-O</text>
<text transform="translate(254.62 1040.49) rotate(0.03) scale(0.9992 1.0000)" font-size="22.81" stroke="#000" stroke-width="0.7">Co-O</text>
<text transform="translate(399.35 979.89) rotate(0.03) scale(0.9979 1.0000)" font-size="22.81" stroke="#000" stroke-width="0.7">D band</text>
<text transform="translate(506.02 1024.30) rotate(0.03) scale(0.9898 1.0000)" font-size="22.81" stroke="#000" stroke-width="0.7">G band</text>
<text transform="translate(637.94 956.39) rotate(0.03) scale(1.0002 1.0000)" font-size="22.81" stroke="#000" stroke-width="0.7">Ru-H</text>
<text transform="translate(803.49 1089.19) rotate(0.03) scale(0.9976 1.0000)" font-size="22.81" stroke="#000" stroke-width="0.7">2D band</text>
<text transform="translate(865.33 1128.80) rotate(0.03) scale(0.9784 1.0000)" font-size="22.81" fill="#ff5500" stroke="#ff5500" stroke-width="0.7">180 mV</text>
<text transform="translate(865.33 1188.80) rotate(0.03) scale(0.9784 1.0000)" font-size="22.81" fill="#ff8205" stroke="#ff8205" stroke-width="0.7">150 mV</text>
<text transform="translate(865.33 1255.10) rotate(0.03) scale(0.9784 1.0000)" font-size="22.81" fill="#ff9a33" stroke="#ff9a33" stroke-width="0.7">120 mV</text>
<text transform="translate(876.24 1309.89) rotate(0.03) scale(0.9810 1.0000)" font-size="22.81" fill="#ffaa5c" stroke="#ffaa5c" stroke-width="0.7">60 mV</text>
<text transform="translate(870.66 1364.69) rotate(0.03) scale(0.9853 1.0000)" font-size="22.81" stroke="#000" stroke-width="0.7">no bias</text>
<text transform="translate(412.26 1489.39) rotate(0.03) scale(1.0018 1.0000)" font-size="27.11" stroke="#000" stroke-width="0.7">Raman shift (cm<tspan dy="-14.23" font-size="16.27">-1</tspan><tspan dy="14.23">)</tspan></text>
<text transform="translate(50.40 1251.70) rotate(-89.97) scale(1.0395 1.0000)" font-size="27.11" stroke="#000" stroke-width="0.7">Intensity (a.u.)</text>
<text transform="translate(5.93 938.19) rotate(0.03) scale(0.9654 1.0000)" font-size="50.71" stroke="#000" stroke-width="0.7">d</text>
</g>
<g id="panel-e">
<clipPath id="ce"><rect x="1115.6" y="908.0" width="290.9" height="490.9"/></clipPath>
<rect x="1115.9" y="910.2" width="290.3" height="488.9" fill="none" stroke="#000" stroke-width="1.8"/>
<rect x="1147.5" y="996.0" width="56.3" height="372.3" fill="none" stroke="#ff7f8a" stroke-width="1.6" stroke-dasharray="4.9 5"/>
<rect x="1238.7" y="1045.5" width="76.3" height="322.2" fill="none" stroke="#ff7f8a" stroke-width="1.6" stroke-dasharray="4.9 5"/>
<rect x="1335.2" y="1025.0" width="27.4" height="344.5" fill="none" stroke="#ff7f8a" stroke-width="1.6" stroke-dasharray="4.9 5"/>
<g clip-path="url(#ce)">
<path d="M1116.3,1338.4 1116.8,1337.2 1117.3,1337.7 1117.8,1336.4 1118.3,1339.4 1118.8,1339.6 1119.3,1340.1 1119.8,1341.3 1120.3,1341.8 1120.8,1340.9 1121.3,1341.5 1121.8,1342.4 1122.3,1343.9 1122.8,1344.4 1123.3,1343.1 1123.8,1343.7 1124.3,1345.5 1124.8,1346.5 1125.3,1345.1 1125.8,1344.8 1126.3,1346.6 1126.8,1345.6 1127.3,1346.8 1127.8,1347.7 1128.3,1347.0 1128.8,1346.8 1129.3,1347.7 1129.8,1346.6 1130.3,1347.2 1130.8,1347.0 1131.3,1347.6 1131.8,1347.5 1132.3,1347.9 1132.8,1347.9 1133.3,1348.7 1133.8,1348.8 1134.3,1349.2 1134.8,1350.7 1135.3,1348.3 1135.8,1351.1 1136.3,1350.1 1136.8,1349.4 1137.3,1350.6 1137.8,1351.0 1138.3,1352.2 1138.8,1350.4 1139.3,1351.9 1139.8,1352.1 1140.3,1350.6 1140.8,1351.2 1141.3,1352.8 1141.8,1353.3 1142.3,1353.9 1142.8,1353.5 1143.3,1353.3 1143.8,1353.4 1144.3,1354.3 1144.8,1352.6 1145.3,1353.4 1145.8,1354.3 1146.3,1352.5 1146.8,1355.4 1147.3,1353.5 1147.8,1354.6 1148.3,1356.7 1148.8,1354.3 1149.3,1354.7 1149.8,1356.8 1150.3,1354.2 1150.8,1354.9 1151.3,1355.9 1151.8,1355.8 1152.3,1356.0 1152.8,1356.1 1153.3,1357.2 1153.8,1356.9 1154.3,1356.6 1154.8,1355.5 1155.3,1355.7 1155.8,1354.7 1156.3,1357.2 1156.8,1355.2 1157.3,1358.0 1157.8,1359.0 1158.3,1356.3 1158.8,1356.6 1159.3,1356.8 1159.8,1358.0 1160.3,1356.5 1160.8,1357.4 1161.3,1357.2 1161.8,1357.5 1162.3,1358.9 1162.8,1356.9 1163.3,1358.0 1163.8,1358.3 1164.3,1359.0 1164.8,1357.0 1165.3,1359.3 1165.8,1358.6 1166.3,1359.1 1166.8,1358.4 1167.3,1356.8 1167.8,1357.7 1168.3,1359.1 1168.8,1358.4 1169.3,1358.1 1169.8,1360.0 1170.3,1360.2 1170.8,1358.2 1171.3,1360.0 1171.8,1356.7 1172.3,1356.6 1172.8,1359.5 1173.3,1358.5 1173.8,1359.5 1174.3,1359.6 1174.8,1359.1 1175.3,1359.6 1175.8,1359.1 1176.3,1357.6 1176.8,1359.3 1177.3,1359.2 1177.8,1360.9 1178.3,1358.3 1178.8,1359.3 1179.3,1358.5 1179.8,1359.0 1180.3,1360.6 1180.8,1359.4 1181.3,1358.7 1181.8,1359.3 1182.3,1359.8 1182.8,1358.4 1183.3,1359.1 1183.8,1360.6 1184.3,1360.1 1184.8,1359.4 1185.3,1358.7 1185.8,1359.0 1186.3,1357.7 1186.8,1360.0 1187.3,1359.5 1187.8,1359.5 1188.3,1358.2 1188.8,1358.9 1189.3,1360.1 1189.8,1359.7 1190.3,1359.1 1190.8,1360.2 1191.3,1360.5 1191.8,1359.1 1192.3,1359.5 1192.8,1359.2 1193.3,1358.9 1193.8,1360.7 1194.3,1360.4 1194.8,1359.9 1195.3,1358.6 1195.8,1358.7 1196.3,1359.8 1196.8,1359.5 1197.3,1360.2 1197.8,1359.2 1198.3,1360.5 1198.8,1361.5 1199.3,1361.3 1199.8,1361.3 1200.3,1359.9 1200.8,1360.9 1201.3,1359.7 1201.8,1361.0 1202.3,1359.9 1202.8,1359.9 1203.3,1359.7 1203.8,1361.1 1204.3,1360.5 1204.8,1360.4 1205.3,1359.1 1205.8,1360.4 1206.3,1358.8 1206.8,1361.4 1207.3,1359.8 1207.8,1360.1 1208.3,1359.4 1208.8,1357.8 1209.3,1358.0 1209.8,1359.1 1210.3,1360.7 1210.8,1358.4 1211.3,1359.0 1211.8,1359.9 1212.3,1358.3 1212.8,1358.2 1213.3,1359.5 1213.8,1360.0 1214.3,1359.4 1214.8,1361.1 1215.3,1359.6 1215.8,1360.0 1216.3,1360.9 1216.8,1361.0 1217.3,1358.1 1217.8,1359.1 1218.3,1360.4 1218.8,1357.8 1219.3,1358.4 1219.8,1358.1 1220.3,1357.9 1220.8,1358.4 1221.3,1359.8 1221.8,1360.8 1222.3,1361.0 1222.8,1359.7 1223.3,1357.8 1223.8,1359.5 1224.3,1359.2 1224.8,1359.5 1225.3,1359.0 1225.8,1357.3 1226.3,1359.1 1226.8,1356.8 1227.3,1358.1 1227.8,1359.1 1228.3,1359.1 1228.8,1360.2 1229.3,1356.4 1229.8,1359.2 1230.3,1359.6 1230.8,1358.7 1231.3,1359.7 1231.8,1358.4 1232.3,1359.6 1232.8,1359.3 1233.3,1358.0 1233.8,1358.2 1234.3,1358.4 1234.8,1358.2 1235.3,1359.8 1235.8,1359.0 1236.3,1360.2 1236.8,1360.2 1237.3,1359.2 1237.8,1358.9 1238.3,1358.1 1238.8,1358.0 1239.3,1358.0 1239.8,1358.9 1240.3,1357.8 1240.8,1358.5 1241.3,1358.5 1241.8,1357.7 1242.3,1358.0 1242.8,1359.6 1243.3,1359.6 1243.8,1357.5 1244.3,1358.0 1244.8,1357.7 1245.3,1357.6 1245.8,1359.4 1246.3,1358.5 1246.8,1359.2 1247.3,1359.7 1247.8,1357.6 1248.3,1357.9 1248.8,1358.1 1249.3,1358.8 1249.8,1357.7 1250.3,1358.3 1250.8,1358.7 1251.3,1358.7 1251.8,1358.3 1252.3,1357.1 1252.8,1356.5 1253.3,1359.0 1253.8,1358.5 1254.3,1357.1 1254.8,1357.4 1255.3,1357.3 1255.8,1356.1 1256.3,1357.8 1256.8,1356.8 1257.3,1357.1 1257.8,1358.2 1258.3,1357.5 1258.8,1357.9 1259.3,1357.9 1259.8,1357.7 1260.3,1357.6 1260.8,1359.2 1261.3,1357.5 1261.8,1359.0 1262.3,1356.5 1262.8,1357.9 1263.3,1357.4 1263.8,1356.5 1264.3,1354.9 1264.8,1358.9 1265.3,1356.2 1265.8,1356.4 1266.3,1357.3 1266.8,1357.1 1267.3,1357.2 1267.8,1356.8 1268.3,1355.6 1268.8,1357.8 1269.3,1356.4 1269.8,1357.5 1270.3,1357.9 1270.8,1358.3 1271.3,1356.9 1271.8,1356.6 1272.3,1356.6 1272.8,1355.1 1273.3,1356.0 1273.8,1356.0 1274.3,1356.0 1274.8,1357.3 1275.3,1356.9 1275.8,1358.9 1276.3,1358.8 1276.8,1355.5 1277.3,1357.5 1277.8,1356.6 1278.3,1357.9 1278.8,1357.5 1279.3,1358.6 1279.8,1358.0 1280.3,1358.3 1280.8,1357.6 1281.3,1355.8 1281.8,1356.9 1282.3,1357.1 1282.8,1357.8 1283.3,1357.5 1283.8,1359.9 1284.3,1358.4 1284.8,1360.0 1285.3,1358.3 1285.8,1360.3 1286.3,1357.5 1286.8,1359.3 1287.3,1357.6 1287.8,1359.4 1288.3,1360.5 1288.8,1357.9 1289.3,1358.6 1289.8,1359.7 1290.3,1359.2 1290.8,1358.1 1291.3,1360.2 1291.8,1358.9 1292.3,1360.0 1292.8,1359.1 1293.3,1357.7 1293.8,1358.0 1294.3,1359.8 1294.8,1357.1 1295.3,1357.8 1295.8,1358.7 1296.3,1359.1 1296.8,1358.7 1297.3,1356.4 1297.8,1359.5 1298.3,1357.1 1298.8,1357.2 1299.3,1357.1 1299.8,1356.9 1300.3,1356.2 1300.8,1356.7 1301.3,1358.3 1301.8,1355.7 1302.3,1354.7 1302.8,1357.5 1303.3,1357.4 1303.8,1357.7 1304.3,1358.7 1304.8,1356.6 1305.3,1357.5 1305.8,1357.9 1306.3,1358.4 1306.8,1358.3 1307.3,1356.6 1307.8,1356.1 1308.3,1357.1 1308.8,1355.9 1309.3,1358.4 1309.8,1357.0 1310.3,1357.0 1310.8,1356.8 1311.3,1359.1 1311.8,1358.1 1312.3,1357.5 1312.8,1358.6 1313.3,1358.1 1313.8,1358.7 1314.3,1359.4 1314.8,1358.0 1315.3,1358.7 1315.8,1358.8 1316.3,1359.5 1316.8,1359.1 1317.3,1358.6 1317.8,1358.1 1318.3,1358.9 1318.8,1357.8 1319.3,1359.4 1319.8,1359.2 1320.3,1359.8 1320.8,1358.9 1321.3,1358.7 1321.8,1358.6 1322.3,1360.6 1322.8,1359.3 1323.3,1359.4 1323.8,1358.1 1324.3,1359.9 1324.8,1356.8 1325.3,1361.3 1325.8,1360.0 1326.3,1360.2 1326.8,1359.1 1327.3,1359.5 1327.8,1361.1 1328.3,1360.5 1328.8,1361.3 1329.3,1361.8 1329.8,1361.3 1330.3,1359.3 1330.8,1360.0 1331.3,1359.7 1331.8,1360.2 1332.3,1358.9 1332.8,1358.7 1333.3,1360.1 1333.8,1360.2 1334.3,1361.3 1334.8,1360.8 1335.3,1362.2 1335.8,1358.9 1336.3,1359.2 1336.8,1360.6 1337.3,1359.9 1337.8,1359.2 1338.3,1360.8 1338.8,1361.0 1339.3,1361.2 1339.8,1359.4 1340.3,1359.6 1340.8,1359.9 1341.3,1359.7 1341.8,1360.2 1342.3,1359.0 1342.8,1359.7 1343.3,1357.1 1343.8,1359.8 1344.3,1360.7 1344.8,1359.0 1345.3,1359.9 1345.8,1357.6 1346.3,1359.0 1346.8,1357.7 1347.3,1359.4 1347.8,1359.7 1348.3,1358.0 1348.8,1358.5 1349.3,1359.2 1349.8,1362.1 1350.3,1359.9 1350.8,1360.2 1351.3,1360.5 1351.8,1360.6 1352.3,1360.4 1352.8,1359.6 1353.3,1360.5 1353.8,1362.7 1354.3,1361.4 1354.8,1360.9 1355.3,1360.1 1355.8,1361.4 1356.3,1361.7 1356.8,1361.2 1357.3,1362.7 1357.8,1361.3 1358.3,1361.5 1358.8,1362.5 1359.3,1361.8 1359.8,1362.7 1360.3,1361.4 1360.8,1361.4 1361.3,1362.0 1361.8,1361.8 1362.3,1362.7 1362.8,1361.8 1363.3,1361.5 1363.8,1362.0 1364.3,1362.1 1364.8,1360.5 1365.3,1361.5 1365.8,1361.2 1366.3,1362.5 1366.8,1361.2 1367.3,1362.7 1367.8,1360.5 1368.3,1361.7 1368.8,1362.8 1369.3,1361.4 1369.8,1362.8 1370.3,1360.0 1370.8,1361.8 1371.3,1362.1 1371.8,1361.8 1372.3,1360.7 1372.8,1362.7 1373.3,1359.9 1373.8,1362.8 1374.3,1362.1 1374.8,1362.6 1375.3,1361.4 1375.8,1360.8 1376.3,1361.4 1376.8,1361.4 1377.3,1362.5 1377.8,1361.7 1378.3,1362.3 1378.8,1362.5 1379.3,1363.5 1379.8,1360.2 1380.3,1361.7 1380.8,1362.8 1381.3,1362.8 1381.8,1361.6 1382.3,1362.0 1382.8,1362.0 1383.3,1362.0 1383.8,1361.2 1384.3,1361.0 1384.8,1360.5 1385.3,1361.4 1385.8,1363.1 1386.3,1361.2 1386.8,1363.1 1387.3,1364.0 1387.8,1362.4 1388.3,1364.3 1388.8,1361.8 1389.3,1363.4 1389.8,1361.9 1390.3,1360.7 1390.8,1362.1 1391.3,1363.8 1391.8,1361.5 1392.3,1362.5 1392.8,1361.2 1393.3,1361.2 1393.8,1362.2 1394.3,1361.6 1394.8,1362.3 1395.3,1362.8 1395.8,1360.8 1396.3,1361.2 1396.8,1362.1 1397.3,1364.1 1397.8,1361.7 1398.3,1361.6 1398.8,1362.5 1399.3,1363.9 1399.8,1361.5 1400.3,1361.8 1400.8,1362.0 1401.3,1362.6 1401.8,1364.0 1402.3,1360.8 1402.8,1360.2 1403.3,1361.9 1403.8,1362.3 1404.3,1359.5 1404.8,1361.2 1405.3,1362.8 1405.8,1361.5" fill="none" stroke="#000000" stroke-width="2.3" stroke-linejoin="bevel"/>
<path d="M1116.3,1141.9 1116.8,1143.3 1117.3,1146.6 1117.8,1147.3 1118.3,1152.2 1118.8,1152.4 1119.3,1156.1 1119.8,1158.2 1120.3,1159.7 1120.8,1165.2 1121.3,1164.2 1121.8,1167.4 1122.3,1170.2 1122.8,1170.4 1123.3,1175.1 1123.8,1176.0 1124.3,1179.2 1124.8,1179.3 1125.3,1181.3 1125.8,1185.4 1126.3,1186.9 1126.8,1188.8 1127.3,1191.6 1127.8,1193.6 1128.3,1194.0 1128.8,1195.2 1129.3,1197.6 1129.8,1199.8 1130.3,1201.6 1130.8,1205.1 1131.3,1207.2 1131.8,1209.9 1132.3,1211.8 1132.8,1212.8 1133.3,1214.7 1133.8,1216.7 1134.3,1217.2 1134.8,1219.0 1135.3,1221.2 1135.8,1222.0 1136.3,1223.4 1136.8,1225.4 1137.3,1228.1 1137.8,1228.7 1138.3,1229.8 1138.8,1231.3 1139.3,1233.1 1139.8,1236.7 1140.3,1233.2 1140.8,1237.9 1141.3,1239.0 1141.8,1241.1 1142.3,1240.7 1142.8,1245.5 1143.3,1246.1 1143.8,1246.4 1144.3,1248.2 1144.8,1248.7 1145.3,1250.5 1145.8,1251.4 1146.3,1253.3 1146.8,1253.1 1147.3,1253.2 1147.8,1254.3 1148.3,1254.4 1148.8,1254.4 1149.3,1253.4 1149.8,1255.7 1150.3,1253.8 1150.8,1254.0 1151.3,1255.0 1151.8,1255.6 1152.3,1256.6 1152.8,1253.7 1153.3,1256.5 1153.8,1256.5 1154.3,1254.1 1154.8,1254.2 1155.3,1253.5 1155.8,1253.3 1156.3,1252.5 1156.8,1252.1 1157.3,1253.4 1157.8,1253.7 1158.3,1254.9 1158.8,1252.2 1159.3,1251.0 1159.8,1253.0 1160.3,1252.5 1160.8,1253.1 1161.3,1252.4 1161.8,1251.6 1162.3,1252.4 1162.8,1254.3 1163.3,1254.9 1163.8,1254.7 1164.3,1257.4 1164.8,1256.5 1165.3,1258.4 1165.8,1259.9 1166.3,1259.5 1166.8,1260.5 1167.3,1262.2 1167.8,1262.9 1168.3,1263.3 1168.8,1263.7 1169.3,1263.9 1169.8,1264.8 1170.3,1268.9 1170.8,1266.3 1171.3,1268.8 1171.8,1267.3 1172.3,1269.4 1172.8,1269.6 1173.3,1269.3 1173.8,1268.4 1174.3,1268.0 1174.8,1270.6 1175.3,1268.7 1175.8,1268.8 1176.3,1271.9 1176.8,1272.0 1177.3,1270.9 1177.8,1270.8 1178.3,1270.5 1178.8,1271.5 1179.3,1270.6 1179.8,1269.0 1180.3,1268.9 1180.8,1268.8 1181.3,1265.5 1181.8,1264.7 1182.3,1264.3 1182.8,1264.5 1183.3,1261.7 1183.8,1260.8 1184.3,1261.9 1184.8,1259.1 1185.3,1259.6 1185.8,1261.6 1186.3,1262.7 1186.8,1263.1 1187.3,1261.1 1187.8,1265.0 1188.3,1265.8 1188.8,1265.4 1189.3,1266.0 1189.8,1266.6 1190.3,1265.1 1190.8,1263.8 1191.3,1263.0 1191.8,1264.6 1192.3,1263.4 1192.8,1263.4 1193.3,1262.5 1193.8,1263.4 1194.3,1263.7 1194.8,1263.8 1195.3,1263.2 1195.8,1266.6 1196.3,1268.0 1196.8,1267.6 1197.3,1272.5 1197.8,1272.3 1198.3,1275.1 1198.8,1278.6 1199.3,1279.6 1199.8,1280.0 1200.3,1281.2 1200.8,1283.9 1201.3,1283.6 1201.8,1287.2 1202.3,1288.0 1202.8,1290.3 1203.3,1290.8 1203.8,1291.0 1204.3,1293.4 1204.8,1293.9 1205.3,1293.6 1205.8,1294.7 1206.3,1295.8 1206.8,1297.5 1207.3,1299.0 1207.8,1299.2 1208.3,1298.8 1208.8,1300.1 1209.3,1301.7 1209.8,1302.7 1210.3,1301.2 1210.8,1302.7 1211.3,1302.5 1211.8,1301.1 1212.3,1302.3 1212.8,1302.9 1213.3,1303.2 1213.8,1303.3 1214.3,1303.2 1214.8,1304.1 1215.3,1303.3 1215.8,1302.8 1216.3,1304.8 1216.8,1304.1 1217.3,1305.3 1217.8,1303.8 1218.3,1305.8 1218.8,1303.7 1219.3,1303.5 1219.8,1305.4 1220.3,1306.4 1220.8,1303.8 1221.3,1306.0 1221.8,1306.1 1222.3,1305.4 1222.8,1304.4 1223.3,1302.8 1223.8,1303.3 1224.3,1304.0 1224.8,1305.2 1225.3,1304.3 1225.8,1303.8 1226.3,1304.4 1226.8,1302.7 1227.3,1304.6 1227.8,1303.4 1228.3,1305.0 1228.8,1303.9 1229.3,1303.0 1229.8,1303.0 1230.3,1302.0 1230.8,1304.0 1231.3,1302.7 1231.8,1303.6 1232.3,1304.7 1232.8,1304.1 1233.3,1303.8 1233.8,1305.8 1234.3,1303.6 1234.8,1303.8 1235.3,1302.3 1235.8,1301.9 1236.3,1303.0 1236.8,1301.6 1237.3,1300.0 1237.8,1303.2 1238.3,1302.6 1238.8,1301.5 1239.3,1303.8 1239.8,1302.4 1240.3,1302.2 1240.8,1301.6 1241.3,1303.2 1241.8,1301.5 1242.3,1301.2 1242.8,1301.0 1243.3,1300.6 1243.8,1299.8 1244.3,1300.7 1244.8,1300.4 1245.3,1301.7 1245.8,1299.8 1246.3,1301.5 1246.8,1300.2 1247.3,1299.6 1247.8,1300.2 1248.3,1300.1 1248.8,1299.9 1249.3,1300.2 1249.8,1300.0 1250.3,1298.0 1250.8,1298.9 1251.3,1301.0 1251.8,1299.4 1252.3,1297.2 1252.8,1299.9 1253.3,1301.1 1253.8,1300.5 1254.3,1299.3 1254.8,1299.1 1255.3,1299.4 1255.8,1298.4 1256.3,1298.1 1256.8,1300.2 1257.3,1298.6 1257.8,1299.7 1258.3,1297.4 1258.8,1298.2 1259.3,1297.8 1259.8,1299.1 1260.3,1298.1 1260.8,1298.4 1261.3,1298.3 1261.8,1299.2 1262.3,1300.3 1262.8,1299.1 1263.3,1300.5 1263.8,1300.0 1264.3,1299.8 1264.8,1301.0 1265.3,1302.2 1265.8,1298.8 1266.3,1302.0 1266.8,1303.2 1267.3,1301.7 1267.8,1302.5 1268.3,1302.6 1268.8,1302.3 1269.3,1302.0 1269.8,1302.9 1270.3,1302.7 1270.8,1301.8 1271.3,1302.2 1271.8,1300.7 1272.3,1301.1 1272.8,1301.3 1273.3,1301.0 1273.8,1300.0 1274.3,1301.7 1274.8,1300.7 1275.3,1300.8 1275.8,1298.7 1276.3,1299.4 1276.8,1298.9 1277.3,1299.2 1277.8,1300.7 1278.3,1301.1 1278.8,1298.5 1279.3,1298.4 1279.8,1297.5 1280.3,1297.0 1280.8,1298.1 1281.3,1296.9 1281.8,1296.4 1282.3,1298.1 1282.8,1297.4 1283.3,1298.0 1283.8,1298.3 1284.3,1299.0 1284.8,1298.7 1285.3,1299.2 1285.8,1298.5 1286.3,1298.5 1286.8,1299.3 1287.3,1299.6 1287.8,1300.1 1288.3,1300.5 1288.8,1302.7 1289.3,1300.9 1289.8,1301.7 1290.3,1301.8 1290.8,1303.2 1291.3,1301.4 1291.8,1301.1 1292.3,1303.7 1292.8,1303.5 1293.3,1303.1 1293.8,1302.5 1294.3,1304.7 1294.8,1303.8 1295.3,1302.8 1295.8,1302.9 1296.3,1302.5 1296.8,1304.1 1297.3,1302.6 1297.8,1301.7 1298.3,1301.8 1298.8,1302.8 1299.3,1302.3 1299.8,1300.5 1300.3,1299.7 1300.8,1300.0 1301.3,1300.6 1301.8,1299.6 1302.3,1299.1 1302.8,1299.3 1303.3,1298.5 1303.8,1297.8 1304.3,1297.3 1304.8,1297.8 1305.3,1298.1 1305.8,1299.2 1306.3,1298.9 1306.8,1298.1 1307.3,1299.8 1307.8,1297.7 1308.3,1299.7 1308.8,1298.3 1309.3,1299.4 1309.8,1301.0 1310.3,1301.5 1310.8,1300.3 1311.3,1301.4 1311.8,1300.5 1312.3,1301.4 1312.8,1302.2 1313.3,1301.4 1313.8,1303.6 1314.3,1303.1 1314.8,1303.4 1315.3,1302.4 1315.8,1303.2 1316.3,1303.8 1316.8,1304.2 1317.3,1304.3 1317.8,1303.3 1318.3,1303.0 1318.8,1302.9 1319.3,1306.1 1319.8,1305.4 1320.3,1306.1 1320.8,1304.9 1321.3,1307.0 1321.8,1305.9 1322.3,1305.7 1322.8,1305.2 1323.3,1304.5 1323.8,1306.7 1324.3,1306.3 1324.8,1306.3 1325.3,1305.2 1325.8,1304.8 1326.3,1305.6 1326.8,1307.4 1327.3,1308.5 1327.8,1305.8 1328.3,1305.9 1328.8,1304.8 1329.3,1305.4 1329.8,1306.6 1330.3,1305.6 1330.8,1306.5 1331.3,1307.6 1331.8,1306.3 1332.3,1305.2 1332.8,1307.8 1333.3,1306.7 1333.8,1306.3 1334.3,1306.2 1334.8,1305.8 1335.3,1306.7 1335.8,1304.8 1336.3,1305.9 1336.8,1304.8 1337.3,1305.8 1337.8,1306.2 1338.3,1305.2 1338.8,1307.1 1339.3,1305.6 1339.8,1304.9 1340.3,1306.0 1340.8,1306.0 1341.3,1306.0 1341.8,1305.8 1342.3,1305.7 1342.8,1306.5 1343.3,1304.1 1343.8,1306.0 1344.3,1304.1 1344.8,1303.8 1345.3,1302.3 1345.8,1303.3 1346.3,1299.3 1346.8,1299.3 1347.3,1299.3 1347.8,1299.5 1348.3,1296.6 1348.8,1297.2 1349.3,1296.5 1349.8,1293.9 1350.3,1291.8 1350.8,1294.7 1351.3,1294.1 1351.8,1294.9 1352.3,1297.1 1352.8,1297.8 1353.3,1297.8 1353.8,1299.7 1354.3,1299.7 1354.8,1301.6 1355.3,1302.1 1355.8,1303.6 1356.3,1303.2 1356.8,1304.4 1357.3,1304.7 1357.8,1305.3 1358.3,1305.1 1358.8,1303.5 1359.3,1306.2 1359.8,1304.9 1360.3,1306.9 1360.8,1306.2 1361.3,1306.3 1361.8,1305.7 1362.3,1308.0 1362.8,1306.0 1363.3,1307.9 1363.8,1308.1 1364.3,1309.4 1364.8,1307.7 1365.3,1306.4 1365.8,1305.8 1366.3,1306.1 1366.8,1305.6 1367.3,1308.4 1367.8,1307.5 1368.3,1306.0 1368.8,1307.7 1369.3,1307.2 1369.8,1308.1 1370.3,1307.6 1370.8,1306.5 1371.3,1307.7 1371.8,1308.5 1372.3,1307.5 1372.8,1307.5 1373.3,1306.3 1373.8,1306.8 1374.3,1307.3 1374.8,1308.3 1375.3,1307.0 1375.8,1307.2 1376.3,1309.8 1376.8,1307.1 1377.3,1307.6 1377.8,1307.0 1378.3,1307.9 1378.8,1308.6 1379.3,1308.8 1379.8,1308.4 1380.3,1309.1 1380.8,1308.1 1381.3,1308.7 1381.8,1307.0 1382.3,1309.0 1382.8,1307.6 1383.3,1309.2 1383.8,1307.1 1384.3,1308.4 1384.8,1308.4 1385.3,1308.2 1385.8,1307.7 1386.3,1309.3 1386.8,1308.2 1387.3,1306.8 1387.8,1307.6 1388.3,1309.4 1388.8,1307.4 1389.3,1309.9 1389.8,1307.8 1390.3,1306.4 1390.8,1308.8 1391.3,1307.4 1391.8,1304.8 1392.3,1308.5 1392.8,1307.4 1393.3,1308.8 1393.8,1309.2 1394.3,1309.4 1394.8,1308.3 1395.3,1307.0 1395.8,1309.7 1396.3,1308.6 1396.8,1308.6 1397.3,1307.2 1397.8,1308.0 1398.3,1308.8 1398.8,1308.4 1399.3,1308.6 1399.8,1307.5 1400.3,1306.7 1400.8,1308.7 1401.3,1308.3 1401.8,1309.5 1402.3,1309.7 1402.8,1308.6 1403.3,1308.3 1403.8,1309.7 1404.3,1309.3 1404.8,1307.6 1405.3,1310.1 1405.8,1308.7" fill="none" stroke="#ffaa5c" stroke-width="2.3" stroke-linejoin="bevel"/>
<path d="M1116.3,1101.5 1116.8,1104.9 1117.3,1106.0 1117.8,1108.7 1118.3,1111.3 1118.8,1112.5 1119.3,1115.1 1119.8,1116.6 1120.3,1118.6 1120.8,1118.0 1121.3,1120.0 1121.8,1120.8 1122.3,1123.9 1122.8,1124.8 1123.3,1127.3 1123.8,1128.2 1124.3,1129.7 1124.8,1132.9 1125.3,1133.0 1125.8,1133.8 1126.3,1134.4 1126.8,1137.6 1127.3,1138.9 1127.8,1138.3 1128.3,1140.7 1128.8,1142.4 1129.3,1142.4 1129.8,1145.0 1130.3,1148.0 1130.8,1146.6 1131.3,1149.9 1131.8,1152.5 1132.3,1151.7 1132.8,1153.3 1133.3,1155.2 1133.8,1156.8 1134.3,1158.0 1134.8,1157.6 1135.3,1159.8 1135.8,1162.1 1136.3,1163.1 1136.8,1165.6 1137.3,1165.6 1137.8,1166.8 1138.3,1170.0 1138.8,1169.3 1139.3,1169.7 1139.8,1171.7 1140.3,1172.7 1140.8,1174.7 1141.3,1175.8 1141.8,1176.4 1142.3,1177.7 1142.8,1178.5 1143.3,1181.4 1143.8,1183.1 1144.3,1181.9 1144.8,1183.2 1145.3,1183.7 1145.8,1183.4 1146.3,1183.9 1146.8,1184.7 1147.3,1184.1 1147.8,1185.8 1148.3,1187.8 1148.8,1188.8 1149.3,1188.5 1149.8,1188.7 1150.3,1190.3 1150.8,1192.2 1151.3,1190.1 1151.8,1190.6 1152.3,1191.2 1152.8,1192.4 1153.3,1191.1 1153.8,1192.4 1154.3,1191.3 1154.8,1192.6 1155.3,1191.7 1155.8,1191.4 1156.3,1192.4 1156.8,1190.6 1157.3,1191.0 1157.8,1192.4 1158.3,1192.8 1158.8,1192.5 1159.3,1190.2 1159.8,1192.9 1160.3,1192.5 1160.8,1191.7 1161.3,1190.2 1161.8,1193.0 1162.3,1193.8 1162.8,1192.6 1163.3,1193.5 1163.8,1191.3 1164.3,1191.9 1164.8,1191.0 1165.3,1190.7 1165.8,1191.5 1166.3,1191.3 1166.8,1191.5 1167.3,1192.1 1167.8,1192.8 1168.3,1193.3 1168.8,1194.4 1169.3,1193.7 1169.8,1195.5 1170.3,1194.1 1170.8,1196.5 1171.3,1196.6 1171.8,1194.7 1172.3,1196.9 1172.8,1198.4 1173.3,1197.9 1173.8,1197.3 1174.3,1197.6 1174.8,1198.6 1175.3,1198.8 1175.8,1199.5 1176.3,1199.2 1176.8,1200.1 1177.3,1199.9 1177.8,1198.7 1178.3,1198.4 1178.8,1198.6 1179.3,1199.3 1179.8,1197.6 1180.3,1199.0 1180.8,1196.5 1181.3,1197.2 1181.8,1196.1 1182.3,1196.8 1182.8,1196.2 1183.3,1195.4 1183.8,1193.9 1184.3,1193.9 1184.8,1193.8 1185.3,1195.0 1185.8,1193.4 1186.3,1194.6 1186.8,1195.2 1187.3,1193.4 1187.8,1193.8 1188.3,1192.3 1188.8,1193.9 1189.3,1194.9 1189.8,1193.5 1190.3,1194.7 1190.8,1195.1 1191.3,1194.5 1191.8,1193.8 1192.3,1194.6 1192.8,1193.7 1193.3,1194.0 1193.8,1196.9 1194.3,1194.2 1194.8,1193.7 1195.3,1194.4 1195.8,1194.5 1196.3,1194.9 1196.8,1194.2 1197.3,1195.1 1197.8,1196.8 1198.3,1200.2 1198.8,1202.4 1199.3,1202.6 1199.8,1204.6 1200.3,1206.6 1200.8,1207.0 1201.3,1208.3 1201.8,1210.6 1202.3,1209.9 1202.8,1212.4 1203.3,1214.1 1203.8,1213.2 1204.3,1216.4 1204.8,1216.1 1205.3,1216.7 1205.8,1218.9 1206.3,1218.6 1206.8,1218.7 1207.3,1219.0 1207.8,1219.0 1208.3,1219.4 1208.8,1220.2 1209.3,1221.5 1209.8,1220.5 1210.3,1221.2 1210.8,1221.0 1211.3,1222.1 1211.8,1221.6 1212.3,1223.1 1212.8,1222.3 1213.3,1220.7 1213.8,1222.1 1214.3,1221.8 1214.8,1223.2 1215.3,1222.3 1215.8,1223.2 1216.3,1223.1 1216.8,1222.0 1217.3,1222.3 1217.8,1222.7 1218.3,1221.5 1218.8,1225.7 1219.3,1223.0 1219.8,1221.1 1220.3,1221.0 1220.8,1222.4 1221.3,1221.7 1221.8,1220.7 1222.3,1220.4 1222.8,1222.1 1223.3,1221.6 1223.8,1222.3 1224.3,1221.7 1224.8,1222.9 1225.3,1220.2 1225.8,1222.4 1226.3,1221.3 1226.8,1221.2 1227.3,1223.2 1227.8,1220.4 1228.3,1222.3 1228.8,1221.8 1229.3,1223.1 1229.8,1220.5 1230.3,1222.1 1230.8,1221.9 1231.3,1221.6 1231.8,1221.7 1232.3,1221.4 1232.8,1220.4 1233.3,1221.5 1233.8,1220.2 1234.3,1223.0 1234.8,1223.2 1235.3,1221.0 1235.8,1223.3 1236.3,1221.9 1236.8,1220.5 1237.3,1221.3 1237.8,1222.5 1238.3,1221.8 1238.8,1221.0 1239.3,1222.8 1239.8,1221.9 1240.3,1221.6 1240.8,1220.8 1241.3,1222.5 1241.8,1222.7 1242.3,1220.7 1242.8,1221.5 1243.3,1221.8 1243.8,1222.2 1244.3,1221.1 1244.8,1224.0 1245.3,1222.3 1245.8,1222.6 1246.3,1221.4 1246.8,1223.5 1247.3,1221.9 1247.8,1219.9 1248.3,1222.5 1248.8,1221.6 1249.3,1220.7 1249.8,1221.7 1250.3,1220.8 1250.8,1222.2 1251.3,1222.1 1251.8,1220.2 1252.3,1222.0 1252.8,1222.2 1253.3,1219.0 1253.8,1222.5 1254.3,1222.1 1254.8,1222.2 1255.3,1222.8 1255.8,1221.6 1256.3,1220.9 1256.8,1222.0 1257.3,1221.5 1257.8,1222.3 1258.3,1219.6 1258.8,1221.2 1259.3,1223.8 1259.8,1222.1 1260.3,1222.6 1260.8,1221.8 1261.3,1221.1 1261.8,1222.3 1262.3,1222.0 1262.8,1220.9 1263.3,1221.1 1263.8,1221.9 1264.3,1220.3 1264.8,1220.3 1265.3,1222.2 1265.8,1222.1 1266.3,1221.0 1266.8,1222.7 1267.3,1222.1 1267.8,1221.7 1268.3,1221.1 1268.8,1222.3 1269.3,1221.0 1269.8,1221.2 1270.3,1220.4 1270.8,1222.0 1271.3,1220.9 1271.8,1220.8 1272.3,1221.5 1272.8,1223.2 1273.3,1221.9 1273.8,1219.6 1274.3,1221.1 1274.8,1221.4 1275.3,1221.0 1275.8,1220.7 1276.3,1222.9 1276.8,1222.1 1277.3,1222.1 1277.8,1221.3 1278.3,1221.6 1278.8,1221.3 1279.3,1221.1 1279.8,1220.7 1280.3,1220.1 1280.8,1220.4 1281.3,1220.9 1281.8,1220.0 1282.3,1221.2 1282.8,1220.1 1283.3,1221.8 1283.8,1220.0 1284.3,1221.6 1284.8,1222.4 1285.3,1221.8 1285.8,1220.3 1286.3,1222.0 1286.8,1220.7 1287.3,1221.2 1287.8,1220.7 1288.3,1219.1 1288.8,1221.0 1289.3,1221.0 1289.8,1221.3 1290.3,1219.8 1290.8,1221.5 1291.3,1220.1 1291.8,1219.3 1292.3,1219.4 1292.8,1220.8 1293.3,1220.2 1293.8,1222.1 1294.3,1221.6 1294.8,1221.6 1295.3,1220.1 1295.8,1219.1 1296.3,1218.7 1296.8,1219.9 1297.3,1221.5 1297.8,1221.4 1298.3,1218.7 1298.8,1220.2 1299.3,1220.6 1299.8,1219.0 1300.3,1220.0 1300.8,1219.0 1301.3,1220.0 1301.8,1219.8 1302.3,1219.1 1302.8,1219.4 1303.3,1219.1 1303.8,1219.5 1304.3,1216.3 1304.8,1219.4 1305.3,1219.5 1305.8,1217.1 1306.3,1217.9 1306.8,1218.3 1307.3,1217.0 1307.8,1216.9 1308.3,1217.2 1308.8,1217.8 1309.3,1215.9 1309.8,1217.5 1310.3,1217.8 1310.8,1216.2 1311.3,1217.6 1311.8,1218.9 1312.3,1217.8 1312.8,1218.1 1313.3,1220.1 1313.8,1218.7 1314.3,1219.6 1314.8,1221.5 1315.3,1222.2 1315.8,1219.7 1316.3,1220.6 1316.8,1221.0 1317.3,1221.7 1317.8,1220.9 1318.3,1219.8 1318.8,1221.0 1319.3,1218.4 1319.8,1220.7 1320.3,1221.3 1320.8,1221.6 1321.3,1221.2 1321.8,1219.2 1322.3,1221.3 1322.8,1219.9 1323.3,1219.9 1323.8,1221.2 1324.3,1218.3 1324.8,1222.1 1325.3,1220.7 1325.8,1220.6 1326.3,1219.5 1326.8,1220.4 1327.3,1220.3 1327.8,1220.0 1328.3,1218.2 1328.8,1220.2 1329.3,1220.1 1329.8,1220.8 1330.3,1220.2 1330.8,1220.2 1331.3,1220.0 1331.8,1218.4 1332.3,1218.0 1332.8,1219.5 1333.3,1218.8 1333.8,1219.8 1334.3,1218.3 1334.8,1218.8 1335.3,1220.1 1335.8,1219.3 1336.3,1218.5 1336.8,1219.5 1337.3,1219.1 1337.8,1217.9 1338.3,1218.4 1338.8,1219.1 1339.3,1219.1 1339.8,1218.9 1340.3,1218.3 1340.8,1215.9 1341.3,1218.7 1341.8,1218.0 1342.3,1217.2 1342.8,1215.3 1343.3,1216.3 1343.8,1216.4 1344.3,1216.1 1344.8,1216.1 1345.3,1214.1 1345.8,1216.4 1346.3,1216.2 1346.8,1215.9 1347.3,1216.3 1347.8,1215.0 1348.3,1215.9 1348.8,1213.2 1349.3,1214.8 1349.8,1214.0 1350.3,1215.5 1350.8,1214.0 1351.3,1214.4 1351.8,1214.8 1352.3,1216.3 1352.8,1215.7 1353.3,1217.7 1353.8,1218.1 1354.3,1217.8 1354.8,1218.3 1355.3,1218.2 1355.8,1220.8 1356.3,1220.1 1356.8,1218.7 1357.3,1220.8 1357.8,1218.8 1358.3,1220.3 1358.8,1220.8 1359.3,1220.0 1359.8,1219.7 1360.3,1220.8 1360.8,1220.9 1361.3,1220.6 1361.8,1220.6 1362.3,1219.2 1362.8,1220.5 1363.3,1219.6 1363.8,1220.6 1364.3,1219.6 1364.8,1219.8 1365.3,1219.6 1365.8,1220.1 1366.3,1220.0 1366.8,1220.2 1367.3,1220.8 1367.8,1219.4 1368.3,1221.9 1368.8,1220.3 1369.3,1219.8 1369.8,1220.7 1370.3,1220.2 1370.8,1220.0 1371.3,1220.6 1371.8,1219.6 1372.3,1221.6 1372.8,1219.5 1373.3,1220.1 1373.8,1221.6 1374.3,1221.6 1374.8,1220.9 1375.3,1219.2 1375.8,1220.3 1376.3,1220.0 1376.8,1220.0 1377.3,1220.4 1377.8,1221.1 1378.3,1221.5 1378.8,1221.2 1379.3,1220.2 1379.8,1220.8 1380.3,1221.0 1380.8,1221.5 1381.3,1220.2 1381.8,1220.3 1382.3,1220.2 1382.8,1220.0 1383.3,1221.3 1383.8,1220.6 1384.3,1222.0 1384.8,1222.0 1385.3,1221.0 1385.8,1221.2 1386.3,1220.6 1386.8,1221.2 1387.3,1221.2 1387.8,1222.1 1388.3,1220.8 1388.8,1222.3 1389.3,1221.8 1389.8,1221.4 1390.3,1219.9 1390.8,1219.9 1391.3,1220.6 1391.8,1220.7 1392.3,1219.8 1392.8,1222.8 1393.3,1221.5 1393.8,1221.5 1394.3,1222.2 1394.8,1220.9 1395.3,1219.5 1395.8,1221.4 1396.3,1220.9 1396.8,1221.3 1397.3,1221.6 1397.8,1220.1 1398.3,1220.6 1398.8,1222.1 1399.3,1222.7 1399.8,1221.2 1400.3,1221.4 1400.8,1221.8 1401.3,1221.5 1401.8,1223.8 1402.3,1222.9 1402.8,1220.8 1403.3,1221.1 1403.8,1222.7 1404.3,1222.1 1404.8,1222.5 1405.3,1222.2 1405.8,1220.7" fill="none" stroke="#ff9a33" stroke-width="2.3" stroke-linejoin="bevel"/>
<path d="M1116.3,1020.3 1116.8,1021.2 1117.3,1023.7 1117.8,1026.0 1118.3,1026.4 1118.8,1030.5 1119.3,1031.2 1119.8,1034.9 1120.3,1035.9 1120.8,1039.3 1121.3,1040.0 1121.8,1042.0 1122.3,1043.0 1122.8,1046.5 1123.3,1047.5 1123.8,1050.0 1124.3,1051.9 1124.8,1053.3 1125.3,1053.9 1125.8,1054.1 1126.3,1056.2 1126.8,1059.4 1127.3,1061.1 1127.8,1062.9 1128.3,1062.5 1128.8,1063.6 1129.3,1066.9 1129.8,1068.2 1130.3,1068.7 1130.8,1070.4 1131.3,1070.7 1131.8,1073.3 1132.3,1076.1 1132.8,1075.5 1133.3,1076.8 1133.8,1078.4 1134.3,1079.6 1134.8,1079.3 1135.3,1081.8 1135.8,1083.3 1136.3,1084.8 1136.8,1085.7 1137.3,1087.5 1137.8,1087.8 1138.3,1091.4 1138.8,1090.4 1139.3,1093.4 1139.8,1094.6 1140.3,1094.4 1140.8,1094.4 1141.3,1094.7 1141.8,1096.5 1142.3,1098.6 1142.8,1100.1 1143.3,1100.2 1143.8,1101.5 1144.3,1105.4 1144.8,1104.3 1145.3,1104.0 1145.8,1106.7 1146.3,1106.2 1146.8,1105.8 1147.3,1109.1 1147.8,1109.3 1148.3,1110.9 1148.8,1113.7 1149.3,1113.1 1149.8,1113.2 1150.3,1116.3 1150.8,1113.9 1151.3,1115.5 1151.8,1118.8 1152.3,1119.7 1152.8,1118.9 1153.3,1119.3 1153.8,1120.8 1154.3,1121.4 1154.8,1121.9 1155.3,1121.9 1155.8,1121.9 1156.3,1123.0 1156.8,1124.0 1157.3,1124.4 1157.8,1124.4 1158.3,1125.1 1158.8,1124.0 1159.3,1126.8 1159.8,1128.0 1160.3,1126.7 1160.8,1126.4 1161.3,1128.5 1161.8,1129.0 1162.3,1128.6 1162.8,1130.1 1163.3,1129.0 1163.8,1128.9 1164.3,1131.8 1164.8,1130.3 1165.3,1130.6 1165.8,1129.3 1166.3,1130.9 1166.8,1131.0 1167.3,1131.7 1167.8,1132.7 1168.3,1132.3 1168.8,1131.5 1169.3,1133.7 1169.8,1133.6 1170.3,1133.7 1170.8,1133.4 1171.3,1133.5 1171.8,1131.9 1172.3,1131.4 1172.8,1132.0 1173.3,1131.7 1173.8,1132.4 1174.3,1128.9 1174.8,1131.3 1175.3,1130.8 1175.8,1132.1 1176.3,1130.3 1176.8,1129.9 1177.3,1130.2 1177.8,1130.3 1178.3,1127.8 1178.8,1128.0 1179.3,1129.3 1179.8,1128.3 1180.3,1127.4 1180.8,1128.1 1181.3,1124.7 1181.8,1125.8 1182.3,1124.6 1182.8,1124.3 1183.3,1122.6 1183.8,1122.5 1184.3,1123.6 1184.8,1121.2 1185.3,1120.4 1185.8,1121.4 1186.3,1120.6 1186.8,1122.6 1187.3,1120.8 1187.8,1121.7 1188.3,1122.1 1188.8,1124.6 1189.3,1125.0 1189.8,1129.2 1190.3,1128.6 1190.8,1129.6 1191.3,1129.7 1191.8,1129.9 1192.3,1129.9 1192.8,1129.1 1193.3,1132.0 1193.8,1130.3 1194.3,1132.5 1194.8,1131.9 1195.3,1130.4 1195.8,1131.7 1196.3,1132.2 1196.8,1132.5 1197.3,1132.9 1197.8,1134.1 1198.3,1134.1 1198.8,1135.0 1199.3,1136.8 1199.8,1137.8 1200.3,1138.0 1200.8,1139.9 1201.3,1139.7 1201.8,1141.1 1202.3,1141.4 1202.8,1143.1 1203.3,1140.8 1203.8,1144.7 1204.3,1143.3 1204.8,1145.3 1205.3,1144.2 1205.8,1145.1 1206.3,1146.2 1206.8,1146.0 1207.3,1146.5 1207.8,1147.2 1208.3,1149.3 1208.8,1146.5 1209.3,1148.2 1209.8,1149.4 1210.3,1148.0 1210.8,1149.9 1211.3,1146.4 1211.8,1147.4 1212.3,1148.4 1212.8,1148.2 1213.3,1148.2 1213.8,1149.7 1214.3,1148.2 1214.8,1149.5 1215.3,1149.4 1215.8,1149.0 1216.3,1151.0 1216.8,1148.6 1217.3,1151.2 1217.8,1148.7 1218.3,1150.0 1218.8,1150.0 1219.3,1149.0 1219.8,1150.0 1220.3,1150.4 1220.8,1149.7 1221.3,1149.0 1221.8,1150.3 1222.3,1149.8 1222.8,1149.5 1223.3,1146.4 1223.8,1148.9 1224.3,1149.8 1224.8,1148.0 1225.3,1146.3 1225.8,1148.3 1226.3,1149.2 1226.8,1147.9 1227.3,1148.9 1227.8,1149.5 1228.3,1148.1 1228.8,1148.4 1229.3,1150.3 1229.8,1149.1 1230.3,1148.2 1230.8,1149.9 1231.3,1150.0 1231.8,1149.4 1232.3,1149.2 1232.8,1148.6 1233.3,1151.7 1233.8,1148.5 1234.3,1149.5 1234.8,1150.0 1235.3,1150.5 1235.8,1149.4 1236.3,1149.7 1236.8,1148.9 1237.3,1149.9 1237.8,1147.8 1238.3,1150.7 1238.8,1150.0 1239.3,1150.3 1239.8,1149.5 1240.3,1147.8 1240.8,1148.8 1241.3,1149.4 1241.8,1151.0 1242.3,1149.5 1242.8,1150.5 1243.3,1149.4 1243.8,1148.6 1244.3,1149.0 1244.8,1149.9 1245.3,1150.3 1245.8,1148.9 1246.3,1149.7 1246.8,1149.8 1247.3,1150.3 1247.8,1150.8 1248.3,1148.5 1248.8,1148.9 1249.3,1147.8 1249.8,1151.2 1250.3,1149.8 1250.8,1148.3 1251.3,1151.7 1251.8,1149.4 1252.3,1149.8 1252.8,1149.8 1253.3,1150.2 1253.8,1147.8 1254.3,1149.5 1254.8,1150.4 1255.3,1149.8 1255.8,1149.2 1256.3,1148.8 1256.8,1147.9 1257.3,1146.4 1257.8,1147.9 1258.3,1150.0 1258.8,1149.7 1259.3,1149.1 1259.8,1150.0 1260.3,1151.6 1260.8,1150.0 1261.3,1149.7 1261.8,1152.7 1262.3,1149.9 1262.8,1148.9 1263.3,1150.8 1263.8,1148.8 1264.3,1149.7 1264.8,1150.0 1265.3,1151.1 1265.8,1149.0 1266.3,1150.4 1266.8,1148.4 1267.3,1149.5 1267.8,1150.0 1268.3,1150.4 1268.8,1151.9 1269.3,1149.7 1269.8,1149.8 1270.3,1149.4 1270.8,1149.3 1271.3,1150.0 1271.8,1149.8 1272.3,1150.8 1272.8,1149.3 1273.3,1150.4 1273.8,1150.3 1274.3,1149.9 1274.8,1150.1 1275.3,1149.9 1275.8,1149.4 1276.3,1149.3 1276.8,1147.9 1277.3,1148.1 1277.8,1149.0 1278.3,1149.4 1278.8,1149.4 1279.3,1148.8 1279.8,1148.4 1280.3,1149.2 1280.8,1149.0 1281.3,1148.0 1281.8,1149.3 1282.3,1149.4 1282.8,1148.3 1283.3,1146.8 1283.8,1147.9 1284.3,1148.2 1284.8,1146.8 1285.3,1148.4 1285.8,1148.1 1286.3,1148.8 1286.8,1147.5 1287.3,1147.9 1287.8,1147.9 1288.3,1148.6 1288.8,1147.0 1289.3,1147.8 1289.8,1149.1 1290.3,1147.2 1290.8,1146.4 1291.3,1148.1 1291.8,1147.7 1292.3,1145.3 1292.8,1147.1 1293.3,1145.6 1293.8,1146.8 1294.3,1147.6 1294.8,1147.5 1295.3,1145.7 1295.8,1145.8 1296.3,1148.1 1296.8,1147.0 1297.3,1146.3 1297.8,1146.7 1298.3,1145.8 1298.8,1144.9 1299.3,1145.3 1299.8,1147.0 1300.3,1145.6 1300.8,1146.9 1301.3,1147.5 1301.8,1146.8 1302.3,1145.7 1302.8,1146.1 1303.3,1145.9 1303.8,1146.8 1304.3,1147.9 1304.8,1147.1 1305.3,1148.6 1305.8,1147.4 1306.3,1146.6 1306.8,1145.8 1307.3,1146.4 1307.8,1145.9 1308.3,1147.5 1308.8,1146.9 1309.3,1148.8 1309.8,1147.7 1310.3,1147.8 1310.8,1146.4 1311.3,1146.8 1311.8,1147.7 1312.3,1147.4 1312.8,1146.6 1313.3,1146.8 1313.8,1147.3 1314.3,1147.8 1314.8,1147.4 1315.3,1146.8 1315.8,1147.2 1316.3,1148.0 1316.8,1147.5 1317.3,1146.2 1317.8,1146.7 1318.3,1147.9 1318.8,1148.8 1319.3,1148.3 1319.8,1146.8 1320.3,1146.5 1320.8,1149.5 1321.3,1147.8 1321.8,1147.2 1322.3,1147.6 1322.8,1147.8 1323.3,1147.2 1323.8,1147.3 1324.3,1148.5 1324.8,1146.8 1325.3,1147.0 1325.8,1147.7 1326.3,1147.5 1326.8,1147.3 1327.3,1147.4 1327.8,1146.4 1328.3,1147.1 1328.8,1146.3 1329.3,1148.0 1329.8,1145.9 1330.3,1146.6 1330.8,1147.4 1331.3,1145.9 1331.8,1146.6 1332.3,1145.6 1332.8,1145.4 1333.3,1145.3 1333.8,1145.3 1334.3,1145.7 1334.8,1143.6 1335.3,1146.1 1335.8,1146.0 1336.3,1145.4 1336.8,1145.1 1337.3,1145.9 1337.8,1145.6 1338.3,1147.8 1338.8,1146.8 1339.3,1145.8 1339.8,1145.1 1340.3,1145.5 1340.8,1143.7 1341.3,1143.6 1341.8,1144.7 1342.3,1142.0 1342.8,1143.1 1343.3,1142.3 1343.8,1142.6 1344.3,1142.7 1344.8,1141.6 1345.3,1142.4 1345.8,1140.9 1346.3,1141.7 1346.8,1140.3 1347.3,1141.3 1347.8,1140.8 1348.3,1138.9 1348.8,1135.8 1349.3,1136.9 1349.8,1136.9 1350.3,1135.7 1350.8,1136.2 1351.3,1138.3 1351.8,1137.1 1352.3,1138.5 1352.8,1140.5 1353.3,1139.1 1353.8,1140.2 1354.3,1142.4 1354.8,1141.9 1355.3,1144.3 1355.8,1145.5 1356.3,1145.6 1356.8,1145.2 1357.3,1145.2 1357.8,1146.0 1358.3,1146.0 1358.8,1146.5 1359.3,1148.0 1359.8,1145.0 1360.3,1147.5 1360.8,1145.9 1361.3,1147.4 1361.8,1146.6 1362.3,1146.7 1362.8,1146.8 1363.3,1148.4 1363.8,1147.7 1364.3,1148.4 1364.8,1146.1 1365.3,1146.8 1365.8,1146.6 1366.3,1147.2 1366.8,1148.4 1367.3,1148.3 1367.8,1146.9 1368.3,1145.6 1368.8,1147.0 1369.3,1146.0 1369.8,1146.6 1370.3,1147.7 1370.8,1147.3 1371.3,1148.7 1371.8,1146.0 1372.3,1145.5 1372.8,1145.2 1373.3,1148.6 1373.8,1146.1 1374.3,1147.5 1374.8,1148.6 1375.3,1146.3 1375.8,1147.7 1376.3,1145.9 1376.8,1147.7 1377.3,1145.5 1377.8,1146.5 1378.3,1146.5 1378.8,1146.9 1379.3,1148.2 1379.8,1148.3 1380.3,1148.3 1380.8,1148.3 1381.3,1145.7 1381.8,1147.3 1382.3,1148.7 1382.8,1148.8 1383.3,1148.4 1383.8,1147.2 1384.3,1148.3 1384.8,1147.5 1385.3,1146.8 1385.8,1148.3 1386.3,1147.4 1386.8,1147.4 1387.3,1147.8 1387.8,1147.9 1388.3,1146.8 1388.8,1146.2 1389.3,1146.8 1389.8,1146.6 1390.3,1147.2 1390.8,1147.8 1391.3,1147.0 1391.8,1146.8 1392.3,1145.7 1392.8,1147.1 1393.3,1146.6 1393.8,1147.2 1394.3,1147.4 1394.8,1147.0 1395.3,1146.2 1395.8,1147.3 1396.3,1148.5 1396.8,1145.9 1397.3,1147.4 1397.8,1147.7 1398.3,1147.3 1398.8,1146.9 1399.3,1145.8 1399.8,1146.1 1400.3,1147.3 1400.8,1145.7 1401.3,1146.0 1401.8,1145.5 1402.3,1147.2 1402.8,1147.4 1403.3,1145.4 1403.8,1145.8 1404.3,1143.7 1404.8,1147.2 1405.3,1147.5 1405.8,1146.7" fill="none" stroke="#ff8205" stroke-width="2.3" stroke-linejoin="bevel"/>
<path d="M1116.4,906.9 1116.9,909.3 1117.4,911.9 1117.9,915.7 1118.4,916.7 1118.9,920.2 1119.4,923.2 1119.9,926.6 1120.4,928.7 1120.9,931.1 1121.4,933.8 1121.9,936.1 1122.4,937.7 1122.9,939.0 1123.4,942.1 1123.9,943.4 1124.4,946.7 1124.9,947.7 1125.4,948.9 1125.9,950.6 1126.4,951.7 1126.9,954.7 1127.4,955.7 1127.9,958.7 1128.4,958.5 1128.9,961.1 1129.4,965.3 1129.9,967.1 1130.4,969.1 1130.9,968.2 1131.4,970.5 1131.9,972.4 1132.4,974.0 1132.9,977.8 1133.4,979.1 1133.9,981.1 1134.4,982.4 1134.9,983.9 1135.4,988.1 1135.9,988.0 1136.4,988.2 1136.9,991.7 1137.4,991.4 1137.9,993.0 1138.4,996.3 1138.9,995.7 1139.4,997.8 1139.9,999.2 1140.4,1002.7 1140.9,1004.1 1141.4,1003.9 1141.9,1006.9 1142.4,1005.5 1142.9,1007.8 1143.4,1010.9 1143.9,1010.8 1144.4,1012.5 1144.9,1013.8 1145.4,1015.5 1145.9,1016.3 1146.4,1016.0 1146.9,1018.1 1147.4,1018.9 1147.9,1021.3 1148.4,1020.2 1148.9,1022.1 1149.4,1025.2 1149.9,1025.6 1150.4,1028.4 1150.9,1027.1 1151.4,1025.6 1151.9,1029.6 1152.4,1029.7 1152.9,1029.9 1153.4,1029.7 1153.9,1031.1 1154.4,1032.6 1154.9,1032.7 1155.4,1032.9 1155.9,1033.8 1156.4,1034.1 1156.9,1033.2 1157.4,1035.0 1157.9,1035.6 1158.4,1037.2 1158.9,1035.8 1159.4,1035.1 1159.9,1037.3 1160.4,1037.1 1160.9,1036.5 1161.4,1036.3 1161.9,1039.4 1162.4,1037.3 1162.9,1039.3 1163.4,1040.8 1163.9,1040.2 1164.4,1042.1 1164.9,1043.4 1165.4,1043.3 1165.9,1043.3 1166.4,1044.6 1166.9,1045.5 1167.4,1047.5 1167.9,1046.2 1168.4,1049.3 1168.9,1047.9 1169.4,1050.7 1169.9,1052.1 1170.4,1051.8 1170.9,1051.0 1171.4,1053.3 1171.9,1053.2 1172.4,1053.2 1172.9,1053.1 1173.4,1053.4 1173.9,1054.0 1174.4,1056.3 1174.9,1054.5 1175.4,1054.3 1175.9,1053.1 1176.4,1053.7 1176.9,1053.2 1177.4,1052.5 1177.9,1052.7 1178.4,1052.0 1178.9,1052.0 1179.4,1051.4 1179.9,1050.3 1180.4,1051.0 1180.9,1050.2 1181.4,1046.4 1181.9,1048.0 1182.4,1047.4 1182.9,1046.5 1183.4,1047.3 1183.9,1045.4 1184.4,1044.0 1184.9,1043.0 1185.4,1043.9 1185.9,1041.5 1186.4,1042.4 1186.9,1042.4 1187.4,1042.8 1187.9,1043.5 1188.4,1043.3 1188.9,1044.1 1189.4,1045.9 1189.9,1046.2 1190.4,1049.1 1190.9,1049.0 1191.4,1048.5 1191.9,1050.7 1192.4,1050.4 1192.9,1051.4 1193.4,1053.0 1193.9,1053.0 1194.4,1051.5 1194.9,1053.1 1195.4,1052.8 1195.9,1054.7 1196.4,1054.2 1196.9,1053.7 1197.4,1052.8 1197.9,1056.2 1198.4,1057.1 1198.9,1058.1 1199.4,1061.9 1199.9,1061.2 1200.4,1063.0 1200.9,1062.3 1201.4,1064.9 1201.9,1064.7 1202.4,1064.5 1202.9,1066.3 1203.4,1067.3 1203.9,1067.0 1204.4,1069.9 1204.9,1069.5 1205.4,1068.8 1205.9,1068.6 1206.4,1072.1 1206.9,1072.9 1207.4,1073.1 1207.9,1072.1 1208.4,1072.7 1208.9,1074.4 1209.4,1074.0 1209.9,1075.1 1210.4,1076.1 1210.9,1076.7 1211.4,1075.4 1211.9,1076.1 1212.4,1076.7 1212.9,1076.1 1213.4,1077.8 1213.9,1076.2 1214.4,1078.0 1214.9,1077.3 1215.4,1079.1 1215.9,1078.4 1216.4,1077.8 1216.9,1078.2 1217.4,1077.6 1217.9,1079.6 1218.4,1079.0 1218.9,1079.0 1219.4,1079.8 1219.9,1080.0 1220.4,1079.2 1220.9,1078.6 1221.4,1080.8 1221.9,1080.1 1222.4,1079.8 1222.9,1080.6 1223.4,1079.6 1223.9,1081.2 1224.4,1079.7 1224.9,1079.7 1225.4,1080.1 1225.9,1079.7 1226.4,1079.9 1226.9,1080.0 1227.4,1079.4 1227.9,1080.5 1228.4,1080.1 1228.9,1081.9 1229.4,1079.9 1229.9,1079.5 1230.4,1079.2 1230.9,1080.4 1231.4,1080.5 1231.9,1079.2 1232.4,1080.8 1232.9,1078.6 1233.4,1079.2 1233.9,1079.4 1234.4,1079.9 1234.9,1079.0 1235.4,1081.3 1235.9,1081.1 1236.4,1080.4 1236.9,1080.3 1237.4,1080.3 1237.9,1080.2 1238.4,1080.9 1238.9,1080.7 1239.4,1080.5 1239.9,1079.6 1240.4,1078.4 1240.9,1078.0 1241.4,1079.6 1241.9,1077.9 1242.4,1078.6 1242.9,1080.0 1243.4,1079.0 1243.9,1078.6 1244.4,1078.2 1244.9,1078.4 1245.4,1078.2 1245.9,1076.7 1246.4,1076.5 1246.9,1076.6 1247.4,1077.5 1247.9,1079.5 1248.4,1077.6 1248.9,1077.5 1249.4,1078.5 1249.9,1078.3 1250.4,1076.8 1250.9,1075.7 1251.4,1080.0 1251.9,1077.1 1252.4,1077.0 1252.9,1078.7 1253.4,1076.7 1253.9,1077.7 1254.4,1077.1 1254.9,1079.6 1255.4,1078.6 1255.9,1079.7 1256.4,1080.5 1256.9,1079.8 1257.4,1082.5 1257.9,1080.3 1258.4,1078.9 1258.9,1081.1 1259.4,1081.1 1259.9,1081.3 1260.4,1079.6 1260.9,1079.8 1261.4,1080.2 1261.9,1081.3 1262.4,1080.2 1262.9,1081.7 1263.4,1081.4 1263.9,1081.4 1264.4,1080.1 1264.9,1079.0 1265.4,1080.8 1265.9,1081.8 1266.4,1081.2 1266.9,1079.6 1267.4,1081.2 1267.9,1080.5 1268.4,1080.9 1268.9,1079.4 1269.4,1079.3 1269.9,1080.1 1270.4,1081.5 1270.9,1080.1 1271.4,1080.4 1271.9,1081.6 1272.4,1079.9 1272.9,1079.8 1273.4,1079.7 1273.9,1081.4 1274.4,1080.0 1274.9,1079.2 1275.4,1080.0 1275.9,1081.1 1276.4,1080.9 1276.9,1081.2 1277.4,1081.7 1277.9,1080.8 1278.4,1080.0 1278.9,1078.7 1279.4,1080.6 1279.9,1080.9 1280.4,1080.6 1280.9,1080.6 1281.4,1079.6 1281.9,1080.9 1282.4,1078.8 1282.9,1079.0 1283.4,1078.9 1283.9,1081.4 1284.4,1081.3 1284.9,1081.3 1285.4,1082.3 1285.9,1079.5 1286.4,1080.6 1286.9,1080.1 1287.4,1079.8 1287.9,1081.2 1288.4,1080.0 1288.9,1079.3 1289.4,1080.9 1289.9,1079.9 1290.4,1080.0 1290.9,1080.9 1291.4,1079.9 1291.9,1079.8 1292.4,1080.3 1292.9,1081.5 1293.4,1078.6 1293.9,1081.6 1294.4,1080.9 1294.9,1080.4 1295.4,1080.4 1295.9,1078.8 1296.4,1080.2 1296.9,1081.0 1297.4,1080.1 1297.9,1078.8 1298.4,1079.7 1298.9,1078.5 1299.4,1078.6 1299.9,1078.5 1300.4,1080.2 1300.9,1080.9 1301.4,1079.4 1301.9,1080.6 1302.4,1078.8 1302.9,1078.8 1303.4,1080.4 1303.9,1081.1 1304.4,1080.1 1304.9,1076.7 1305.4,1078.7 1305.9,1079.3 1306.4,1079.3 1306.9,1078.2 1307.4,1081.5 1307.9,1077.2 1308.4,1078.6 1308.9,1077.9 1309.4,1078.3 1309.9,1078.7 1310.4,1077.8 1310.9,1078.7 1311.4,1076.9 1311.9,1077.6 1312.4,1078.9 1312.9,1077.5 1313.4,1079.0 1313.9,1078.2 1314.4,1077.5 1314.9,1078.6 1315.4,1077.9 1315.9,1080.3 1316.4,1078.7 1316.9,1080.2 1317.4,1077.6 1317.9,1079.4 1318.4,1078.2 1318.9,1078.8 1319.4,1077.8 1319.9,1079.4 1320.4,1080.4 1320.9,1077.7 1321.4,1077.6 1321.9,1080.2 1322.4,1077.2 1322.9,1078.1 1323.4,1077.7 1323.9,1077.0 1324.4,1078.2 1324.9,1078.5 1325.4,1076.6 1325.9,1079.7 1326.4,1078.7 1326.9,1076.0 1327.4,1078.6 1327.9,1080.7 1328.4,1077.7 1328.9,1078.8 1329.4,1080.5 1329.9,1076.8 1330.4,1080.2 1330.9,1080.8 1331.4,1080.1 1331.9,1077.7 1332.4,1079.5 1332.9,1078.7 1333.4,1080.4 1333.9,1080.5 1334.4,1078.9 1334.9,1079.2 1335.4,1078.3 1335.9,1078.6 1336.4,1078.4 1336.9,1078.7 1337.4,1078.3 1337.9,1077.9 1338.4,1078.8 1338.9,1078.4 1339.4,1078.5 1339.9,1077.6 1340.4,1079.1 1340.9,1078.3 1341.4,1077.6 1341.9,1074.7 1342.4,1075.0 1342.9,1073.6 1343.4,1073.2 1343.9,1072.8 1344.4,1072.4 1344.9,1070.2 1345.4,1071.3 1345.9,1070.4 1346.4,1069.1 1346.9,1066.4 1347.4,1066.3 1347.9,1065.1 1348.4,1063.5 1348.9,1062.8 1349.4,1063.2 1349.9,1061.9 1350.4,1061.6 1350.9,1063.0 1351.4,1063.6 1351.9,1065.1 1352.4,1066.6 1352.9,1065.0 1353.4,1067.5 1353.9,1069.3 1354.4,1069.1 1354.9,1070.8 1355.4,1072.0 1355.9,1072.6 1356.4,1074.0 1356.9,1075.2 1357.4,1075.9 1357.9,1074.5 1358.4,1074.7 1358.9,1076.2 1359.4,1075.5 1359.9,1076.2 1360.4,1077.0 1360.9,1075.9 1361.4,1078.5 1361.9,1077.2 1362.4,1077.8 1362.9,1077.3 1363.4,1078.1 1363.9,1077.0 1364.4,1076.0 1364.9,1077.2 1365.4,1078.5 1365.9,1076.6 1366.4,1078.5 1366.9,1079.8 1367.4,1078.0 1367.9,1079.0 1368.4,1078.2 1368.9,1079.4 1369.4,1078.5 1369.9,1076.9 1370.4,1078.5 1370.9,1080.1 1371.4,1078.9 1371.9,1078.7 1372.4,1079.3 1372.9,1077.8 1373.4,1080.6 1373.9,1078.1 1374.4,1079.2 1374.9,1079.3 1375.4,1078.6 1375.9,1078.0 1376.4,1079.4 1376.9,1079.5 1377.4,1079.5 1377.9,1077.7 1378.4,1079.3 1378.9,1079.1 1379.4,1079.1 1379.9,1079.1 1380.4,1078.6 1380.9,1078.2 1381.4,1079.9 1381.9,1078.6 1382.4,1078.7 1382.9,1079.8 1383.4,1081.3 1383.9,1080.2 1384.4,1080.5 1384.9,1079.3 1385.4,1079.2 1385.9,1080.1 1386.4,1079.7 1386.9,1079.7 1387.4,1079.8 1387.9,1079.3 1388.4,1079.2 1388.9,1079.7 1389.4,1081.4 1389.9,1080.0 1390.4,1080.2 1390.9,1081.0 1391.4,1080.8 1391.9,1080.8 1392.4,1078.3 1392.9,1079.8 1393.4,1079.8 1393.9,1079.8 1394.4,1080.1 1394.9,1080.7 1395.4,1080.3 1395.9,1079.5 1396.4,1079.7 1396.9,1078.6 1397.4,1079.0 1397.9,1080.9 1398.4,1079.7 1398.9,1078.3 1399.4,1079.6 1399.9,1080.3 1400.4,1080.4 1400.9,1079.1 1401.4,1079.8 1401.9,1081.3 1402.4,1082.9 1402.9,1080.2 1403.4,1079.0 1403.9,1079.5 1404.4,1079.5 1404.9,1079.9 1405.4,1081.1 1405.9,1081.8" fill="none" stroke="#ff5500" stroke-width="2.3" stroke-linejoin="bevel"/>
</g>
<line x1="1115.9" y1="1399.1" x2="1115.9" y2="1404.9" stroke="#000" stroke-width="2"/>
<line x1="1154.2" y1="1399.1" x2="1154.2" y2="1409.6" stroke="#000" stroke-width="2"/>
<text transform="translate(1133.42 1434.49) rotate(0.03) scale(1.0000 1.0000)" font-size="24.91" stroke="#000" stroke-width="0.7">200</text>
<line x1="1231.6" y1="1399.1" x2="1231.6" y2="1409.6" stroke="#000" stroke-width="2"/>
<text transform="translate(1210.86 1434.49) rotate(0.03) scale(1.0000 1.0000)" font-size="24.91" stroke="#000" stroke-width="0.7">400</text>
<line x1="1309.1" y1="1399.1" x2="1309.1" y2="1409.6" stroke="#000" stroke-width="2"/>
<text transform="translate(1288.30 1434.49) rotate(0.03) scale(1.0000 1.0000)" font-size="24.91" stroke="#000" stroke-width="0.7">600</text>
<line x1="1386.5" y1="1399.1" x2="1386.5" y2="1409.6" stroke="#000" stroke-width="2"/>
<text transform="translate(1365.74 1434.49) rotate(0.03) scale(1.0000 1.0000)" font-size="24.91" stroke="#000" stroke-width="0.7">800</text>
<line x1="1192.9" y1="1399.1" x2="1192.9" y2="1404.9" stroke="#000" stroke-width="2"/>
<line x1="1270.4" y1="1399.1" x2="1270.4" y2="1404.9" stroke="#000" stroke-width="2"/>
<line x1="1347.8" y1="1399.1" x2="1347.8" y2="1404.9" stroke="#000" stroke-width="2"/>
<text transform="translate(1145.74 968.50) rotate(0.03) scale(0.9998 1.0000)" font-size="22.81" stroke="#000" stroke-width="0.7">Fe-O</text>
<text transform="translate(1243.35 1027.49) rotate(0.03) scale(0.9981 1.0000)" font-size="22.81" stroke="#000" stroke-width="0.7">Ni-O</text>
<text transform="translate(1327.52 1005.10) rotate(0.03) scale(0.9974 1.0000)" font-size="22.81" stroke="#000" stroke-width="0.7">Co-O</text>
<text transform="translate(1307.75 1486.69) rotate(0.03) scale(1.0044 1.0000)" font-size="27.11" stroke="#000" stroke-width="0.7">Raman shift (cm<tspan dy="-14.23" font-size="16.27">-1</tspan><tspan dy="14.23">)</tspan></text>
<text transform="translate(1091.19 1248.90) rotate(-89.97) scale(1.0395 1.0000)" font-size="27.11" stroke="#000" stroke-width="0.7">Intensity (a.u.)</text>
<text transform="translate(1057.75 938.29) rotate(0.03) scale(0.9646 1.0000)" font-size="50.71" stroke="#000" stroke-width="0.7">e</text>
</g>
<g id="panel-f">
<clipPath id="cf"><rect x="1492.6" y="905.7" width="204.0" height="491.1"/></clipPath>
<rect x="1492.9" y="907.9" width="203.4" height="489.1" fill="none" stroke="#000" stroke-width="1.9"/>
<g clip-path="url(#cf)">
<path d="M1493.0,1363.9 1493.5,1363.9 1494.0,1364.6 1494.5,1363.0 1495.0,1364.3 1495.5,1362.5 1496.0,1363.5 1496.5,1363.6 1497.0,1364.8 1497.5,1364.0 1498.0,1363.6 1498.5,1365.0 1499.0,1365.2 1499.5,1363.5 1500.0,1364.5 1500.5,1363.8 1501.0,1364.0 1501.5,1364.1 1502.0,1362.9 1502.5,1363.6 1503.0,1362.8 1503.5,1362.9 1504.0,1363.3 1504.5,1362.2 1505.0,1362.7 1505.5,1363.9 1506.0,1364.2 1506.5,1364.3 1507.0,1363.4 1507.5,1364.4 1508.0,1364.8 1508.5,1364.6 1509.0,1362.9 1509.5,1362.7 1510.0,1364.0 1510.5,1364.6 1511.0,1363.7 1511.5,1364.4 1512.0,1363.9 1512.5,1363.9 1513.0,1364.0 1513.5,1363.9 1514.0,1363.5 1514.5,1365.0 1515.0,1364.3 1515.5,1363.4 1516.0,1363.4 1516.5,1362.8 1517.0,1363.8 1517.5,1362.6 1518.0,1363.3 1518.5,1364.0 1519.0,1363.8 1519.5,1363.9 1520.0,1362.7 1520.5,1364.2 1521.0,1363.8 1521.5,1364.9 1522.0,1363.9 1522.5,1365.2 1523.0,1364.1 1523.5,1364.2 1524.0,1363.3 1524.5,1363.2 1525.0,1363.2 1525.5,1364.2 1526.0,1363.3 1526.5,1363.5 1527.0,1364.3 1527.5,1363.9 1528.0,1363.3 1528.5,1363.7 1529.0,1362.5 1529.5,1362.4 1530.0,1363.7 1530.5,1365.3 1531.0,1364.7 1531.5,1365.0 1532.0,1363.7 1532.5,1362.9 1533.0,1364.0 1533.5,1362.5 1534.0,1361.4 1534.5,1363.6 1535.0,1364.1 1535.5,1363.7 1536.0,1364.2 1536.5,1363.6 1537.0,1363.2 1537.5,1362.2 1538.0,1362.9 1538.5,1362.3 1539.0,1362.7 1539.5,1364.2 1540.0,1363.1 1540.5,1363.2 1541.0,1362.4 1541.5,1364.6 1542.0,1361.4 1542.5,1362.2 1543.0,1363.2 1543.5,1362.1 1544.0,1362.1 1544.5,1362.9 1545.0,1362.9 1545.5,1362.7 1546.0,1361.6 1546.5,1362.8 1547.0,1361.3 1547.5,1361.5 1548.0,1361.5 1548.5,1362.3 1549.0,1361.7 1549.5,1361.3 1550.0,1362.0 1550.5,1361.2 1551.0,1361.4 1551.5,1361.5 1552.0,1361.4 1552.5,1361.2 1553.0,1361.0 1553.5,1362.8 1554.0,1360.6 1554.5,1362.2 1555.0,1361.3 1555.5,1361.4 1556.0,1360.6 1556.5,1361.9 1557.0,1361.4 1557.5,1362.4 1558.0,1361.4 1558.5,1360.9 1559.0,1360.9 1559.5,1362.4 1560.0,1362.2 1560.5,1361.6 1561.0,1363.1 1561.5,1362.3 1562.0,1361.9 1562.5,1362.5 1563.0,1361.3 1563.5,1362.3 1564.0,1361.2 1564.5,1362.4 1565.0,1362.3 1565.5,1361.8 1566.0,1362.6 1566.5,1361.4 1567.0,1362.4 1567.5,1362.1 1568.0,1361.5 1568.5,1362.7 1569.0,1363.5 1569.5,1364.3 1570.0,1362.4 1570.5,1362.6 1571.0,1363.6 1571.5,1361.7 1572.0,1363.5 1572.5,1361.4 1573.0,1361.9 1573.5,1362.6 1574.0,1362.6 1574.5,1363.6 1575.0,1362.2 1575.5,1362.9 1576.0,1362.7 1576.5,1362.8 1577.0,1363.1 1577.5,1363.4 1578.0,1362.9 1578.5,1362.9 1579.0,1362.9 1579.5,1361.9 1580.0,1361.6 1580.5,1363.2 1581.0,1362.0 1581.5,1362.4 1582.0,1362.9 1582.5,1362.7 1583.0,1362.2 1583.5,1362.0 1584.0,1362.7 1584.5,1363.5 1585.0,1361.3 1585.5,1362.4 1586.0,1363.2 1586.5,1362.7 1587.0,1362.1 1587.5,1362.7 1588.0,1362.9 1588.5,1363.3 1589.0,1361.5 1589.5,1361.9 1590.0,1362.4 1590.5,1362.5 1591.0,1362.2 1591.5,1362.1 1592.0,1362.5 1592.5,1362.1 1593.0,1363.5 1593.5,1361.3 1594.0,1361.6 1594.5,1360.9 1595.0,1362.2 1595.5,1361.9 1596.0,1361.7 1596.5,1361.2 1597.0,1363.2 1597.5,1362.2 1598.0,1362.4 1598.5,1361.0 1599.0,1361.9 1599.5,1362.0 1600.0,1362.9 1600.5,1362.0 1601.0,1362.0 1601.5,1360.1 1602.0,1361.0 1602.5,1361.1 1603.0,1361.0 1603.5,1361.0 1604.0,1361.0 1604.5,1362.1 1605.0,1360.8 1605.5,1361.5 1606.0,1361.3 1606.5,1360.6 1607.0,1360.7 1607.5,1359.0 1608.0,1360.1 1608.5,1361.3 1609.0,1360.1 1609.5,1359.1 1610.0,1361.0 1610.5,1359.5 1611.0,1361.3 1611.5,1360.3 1612.0,1359.6 1612.5,1360.1 1613.0,1361.5 1613.5,1360.5 1614.0,1360.4 1614.5,1360.5 1615.0,1360.0 1615.5,1359.7 1616.0,1360.5 1616.5,1361.0 1617.0,1360.1 1617.5,1361.4 1618.0,1361.0 1618.5,1359.3 1619.0,1360.8 1619.5,1361.2 1620.0,1358.7 1620.5,1359.6 1621.0,1360.1 1621.5,1359.3 1622.0,1360.0 1622.5,1359.8 1623.0,1359.5 1623.5,1360.3 1624.0,1360.1 1624.5,1360.3 1625.0,1360.4 1625.5,1360.0 1626.0,1360.0 1626.5,1360.2 1627.0,1361.2 1627.5,1360.3 1628.0,1361.9 1628.5,1360.5 1629.0,1362.5 1629.5,1361.3 1630.0,1361.1 1630.5,1361.1 1631.0,1361.9 1631.5,1361.9 1632.0,1361.1 1632.5,1362.0 1633.0,1362.6 1633.5,1362.6 1634.0,1363.3 1634.5,1360.9 1635.0,1362.4 1635.5,1362.0 1636.0,1362.7 1636.5,1363.7 1637.0,1361.6 1637.5,1362.2 1638.0,1362.9 1638.5,1363.9 1639.0,1364.0 1639.5,1362.9 1640.0,1363.9 1640.5,1363.3 1641.0,1364.0 1641.5,1363.4 1642.0,1363.7 1642.5,1363.3 1643.0,1362.6 1643.5,1362.8 1644.0,1363.9 1644.5,1363.3 1645.0,1363.2 1645.5,1363.8 1646.0,1364.3 1646.5,1364.4 1647.0,1363.5 1647.5,1363.9 1648.0,1364.3 1648.5,1363.5 1649.0,1364.6 1649.5,1364.2 1650.0,1363.5 1650.5,1364.6 1651.0,1364.1 1651.5,1365.6 1652.0,1364.4 1652.5,1365.6 1653.0,1366.3 1653.5,1365.1 1654.0,1365.0 1654.5,1364.5 1655.0,1364.8 1655.5,1365.2 1656.0,1366.2 1656.5,1365.7 1657.0,1364.5 1657.5,1366.0 1658.0,1364.7 1658.5,1366.4 1659.0,1366.0 1659.5,1365.6 1660.0,1364.5 1660.5,1365.9 1661.0,1365.0 1661.5,1365.0 1662.0,1365.3 1662.5,1364.2 1663.0,1365.4 1663.5,1365.5 1664.0,1365.7 1664.5,1364.7 1665.0,1364.8 1665.5,1366.1 1666.0,1366.1 1666.5,1364.2 1667.0,1365.7 1667.5,1366.0 1668.0,1364.8 1668.5,1366.0 1669.0,1365.2 1669.5,1365.2 1670.0,1364.7 1670.5,1366.5 1671.0,1364.8 1671.5,1363.2 1672.0,1364.4 1672.5,1364.9 1673.0,1364.4 1673.5,1366.3 1674.0,1364.7 1674.5,1365.0 1675.0,1365.4 1675.5,1365.8 1676.0,1364.5 1676.5,1364.2 1677.0,1364.8 1677.5,1365.8 1678.0,1365.1 1678.5,1365.4 1679.0,1364.5 1679.5,1365.7 1680.0,1365.2 1680.5,1365.2 1681.0,1365.8 1681.5,1365.6 1682.0,1365.5 1682.5,1364.3 1683.0,1365.4 1683.5,1365.0 1684.0,1365.3 1684.5,1365.2 1685.0,1364.9 1685.5,1365.5 1686.0,1366.4 1686.5,1365.8 1687.0,1365.4 1687.5,1365.3 1688.0,1365.9 1688.5,1364.7 1689.0,1365.1 1689.5,1365.0 1690.0,1364.4 1690.5,1365.9 1691.0,1365.9 1691.5,1365.0 1692.0,1365.1 1692.5,1365.5 1693.0,1366.2 1693.5,1365.1 1694.0,1366.6 1694.5,1366.0 1695.0,1363.7 1695.5,1364.9 1696.0,1365.2" fill="none" stroke="#000000" stroke-width="2.0" stroke-linejoin="bevel"/>
<path d="M1493.0,1319.8 1493.5,1318.8 1494.0,1320.7 1494.5,1319.7 1495.0,1319.3 1495.5,1319.1 1496.0,1320.5 1496.5,1318.9 1497.0,1320.0 1497.5,1319.1 1498.0,1319.4 1498.5,1319.1 1499.0,1319.6 1499.5,1319.8 1500.0,1318.2 1500.5,1319.8 1501.0,1319.7 1501.5,1320.0 1502.0,1320.6 1502.5,1318.2 1503.0,1320.7 1503.5,1317.9 1504.0,1318.6 1504.5,1319.0 1505.0,1319.5 1505.5,1319.3 1506.0,1319.0 1506.5,1319.0 1507.0,1317.5 1507.5,1318.3 1508.0,1320.1 1508.5,1315.9 1509.0,1317.6 1509.5,1317.7 1510.0,1317.2 1510.5,1317.6 1511.0,1317.7 1511.5,1317.1 1512.0,1317.1 1512.5,1315.9 1513.0,1317.1 1513.5,1316.0 1514.0,1315.6 1514.5,1318.1 1515.0,1315.8 1515.5,1315.7 1516.0,1314.5 1516.5,1316.2 1517.0,1314.9 1517.5,1315.2 1518.0,1316.3 1518.5,1315.8 1519.0,1314.6 1519.5,1315.5 1520.0,1315.4 1520.5,1314.7 1521.0,1313.8 1521.5,1314.7 1522.0,1312.8 1522.5,1314.0 1523.0,1313.5 1523.5,1312.4 1524.0,1312.3 1524.5,1314.9 1525.0,1311.1 1525.5,1312.3 1526.0,1311.6 1526.5,1312.2 1527.0,1311.8 1527.5,1312.0 1528.0,1311.6 1528.5,1310.4 1529.0,1309.0 1529.5,1309.7 1530.0,1310.2 1530.5,1310.2 1531.0,1310.6 1531.5,1309.2 1532.0,1308.0 1532.5,1308.0 1533.0,1308.1 1533.5,1308.4 1534.0,1308.2 1534.5,1307.7 1535.0,1305.8 1535.5,1306.2 1536.0,1306.6 1536.5,1305.9 1537.0,1305.9 1537.5,1303.8 1538.0,1304.8 1538.5,1301.7 1539.0,1303.1 1539.5,1302.9 1540.0,1302.0 1540.5,1302.4 1541.0,1301.0 1541.5,1300.6 1542.0,1300.5 1542.5,1298.8 1543.0,1300.2 1543.5,1297.7 1544.0,1297.9 1544.5,1297.1 1545.0,1295.6 1545.5,1294.8 1546.0,1294.1 1546.5,1292.2 1547.0,1293.0 1547.5,1289.1 1548.0,1288.6 1548.5,1287.9 1549.0,1286.3 1549.5,1285.5 1550.0,1282.3 1550.5,1282.2 1551.0,1281.3 1551.5,1281.1 1552.0,1278.3 1552.5,1278.0 1553.0,1278.5 1553.5,1276.6 1554.0,1275.9 1554.5,1275.2 1555.0,1276.3 1555.5,1274.2 1556.0,1275.3 1556.5,1276.0 1557.0,1276.8 1557.5,1276.9 1558.0,1275.4 1558.5,1277.5 1559.0,1276.7 1559.5,1279.5 1560.0,1277.0 1560.5,1277.8 1561.0,1276.3 1561.5,1276.3 1562.0,1275.6 1562.5,1276.9 1563.0,1277.3 1563.5,1274.9 1564.0,1276.3 1564.5,1276.4 1565.0,1276.6 1565.5,1274.6 1566.0,1276.0 1566.5,1273.4 1567.0,1274.1 1567.5,1273.0 1568.0,1272.6 1568.5,1273.1 1569.0,1272.1 1569.5,1273.5 1570.0,1270.6 1570.5,1269.4 1571.0,1270.3 1571.5,1269.0 1572.0,1267.9 1572.5,1268.9 1573.0,1268.4 1573.5,1265.4 1574.0,1265.6 1574.5,1266.2 1575.0,1263.7 1575.5,1265.0 1576.0,1262.5 1576.5,1262.1 1577.0,1260.7 1577.5,1258.7 1578.0,1258.3 1578.5,1256.7 1579.0,1255.4 1579.5,1255.3 1580.0,1253.4 1580.5,1251.1 1581.0,1250.0 1581.5,1249.4 1582.0,1246.1 1582.5,1243.9 1583.0,1242.6 1583.5,1238.9 1584.0,1235.6 1584.5,1234.9 1585.0,1229.1 1585.5,1226.8 1586.0,1223.7 1586.5,1219.5 1587.0,1218.3 1587.5,1215.7 1588.0,1212.3 1588.5,1208.8 1589.0,1208.6 1589.5,1205.0 1590.0,1205.5 1590.5,1204.3 1591.0,1202.8 1591.5,1202.7 1592.0,1201.2 1592.5,1199.8 1593.0,1199.7 1593.5,1200.7 1594.0,1197.6 1594.5,1199.5 1595.0,1197.9 1595.5,1200.9 1596.0,1198.5 1596.5,1199.5 1597.0,1204.3 1597.5,1207.2 1598.0,1208.9 1598.5,1212.7 1599.0,1215.0 1599.5,1219.1 1600.0,1223.3 1600.5,1226.7 1601.0,1230.3 1601.5,1234.1 1602.0,1239.9 1602.5,1244.9 1603.0,1248.6 1603.5,1250.2 1604.0,1255.6 1604.5,1259.0 1605.0,1263.9 1605.5,1269.2 1606.0,1275.2 1606.5,1276.5 1607.0,1278.6 1607.5,1279.3 1608.0,1279.6 1608.5,1276.1 1609.0,1276.0 1609.5,1273.7 1610.0,1270.1 1610.5,1270.8 1611.0,1271.5 1611.5,1271.2 1612.0,1275.9 1612.5,1277.4 1613.0,1277.7 1613.5,1278.2 1614.0,1276.6 1614.5,1273.8 1615.0,1272.3 1615.5,1272.7 1616.0,1270.9 1616.5,1273.1 1617.0,1278.7 1617.5,1284.7 1618.0,1291.3 1618.5,1298.7 1619.0,1302.8 1619.5,1311.3 1620.0,1312.4 1620.5,1315.1 1621.0,1317.1 1621.5,1319.3 1622.0,1316.7 1622.5,1320.2 1623.0,1319.3 1623.5,1320.1 1624.0,1320.8 1624.5,1322.4 1625.0,1323.5 1625.5,1322.1 1626.0,1321.7 1626.5,1321.8 1627.0,1320.9 1627.5,1321.4 1628.0,1323.9 1628.5,1321.6 1629.0,1322.2 1629.5,1322.9 1630.0,1323.1 1630.5,1323.1 1631.0,1323.3 1631.5,1323.9 1632.0,1325.8 1632.5,1325.4 1633.0,1325.1 1633.5,1324.6 1634.0,1325.4 1634.5,1325.9 1635.0,1325.1 1635.5,1325.1 1636.0,1326.5 1636.5,1325.9 1637.0,1326.0 1637.5,1326.9 1638.0,1326.9 1638.5,1326.2 1639.0,1328.5 1639.5,1327.5 1640.0,1327.1 1640.5,1328.1 1641.0,1328.7 1641.5,1327.7 1642.0,1325.5 1642.5,1326.7 1643.0,1327.7 1643.5,1327.9 1644.0,1329.1 1644.5,1328.5 1645.0,1327.8 1645.5,1328.6 1646.0,1327.5 1646.5,1328.9 1647.0,1326.7 1647.5,1329.3 1648.0,1328.0 1648.5,1328.9 1649.0,1327.8 1649.5,1327.0 1650.0,1328.1 1650.5,1328.4 1651.0,1328.6 1651.5,1328.6 1652.0,1328.8 1652.5,1328.0 1653.0,1327.0 1653.5,1328.2 1654.0,1327.4 1654.5,1328.5 1655.0,1328.5 1655.5,1328.8 1656.0,1328.3 1656.5,1329.4 1657.0,1329.3 1657.5,1329.5 1658.0,1329.2 1658.5,1329.5 1659.0,1329.7 1659.5,1328.8 1660.0,1326.8 1660.5,1328.3 1661.0,1330.2 1661.5,1327.1 1662.0,1329.1 1662.5,1328.6 1663.0,1330.2 1663.5,1329.5 1664.0,1329.0 1664.5,1329.4 1665.0,1328.2 1665.5,1331.3 1666.0,1330.2 1666.5,1328.7 1667.0,1328.8 1667.5,1329.7 1668.0,1328.8 1668.5,1328.6 1669.0,1330.3 1669.5,1329.5 1670.0,1329.9 1670.5,1330.2 1671.0,1328.8 1671.5,1330.6 1672.0,1330.2 1672.5,1328.6 1673.0,1328.5 1673.5,1329.8 1674.0,1329.9 1674.5,1328.9 1675.0,1329.6 1675.5,1329.4 1676.0,1329.3 1676.5,1330.0 1677.0,1331.3 1677.5,1331.3 1678.0,1329.4 1678.5,1330.0 1679.0,1329.6 1679.5,1329.8 1680.0,1329.6 1680.5,1330.8 1681.0,1330.5 1681.5,1329.4 1682.0,1331.0 1682.5,1329.5 1683.0,1330.5 1683.5,1330.7 1684.0,1329.8 1684.5,1329.4 1685.0,1330.3 1685.5,1330.6 1686.0,1330.1 1686.5,1331.8 1687.0,1331.0 1687.5,1330.1 1688.0,1331.3 1688.5,1330.3 1689.0,1330.9 1689.5,1331.3 1690.0,1331.1 1690.5,1332.1 1691.0,1331.1 1691.5,1331.4 1692.0,1330.9 1692.5,1330.1 1693.0,1331.0 1693.5,1331.9 1694.0,1329.9 1694.5,1332.4 1695.0,1332.8 1695.5,1333.4 1696.0,1332.8" fill="none" stroke="#ffaa5c" stroke-width="2.0" stroke-linejoin="bevel"/>
<path d="M1493.0,1241.1 1493.5,1240.4 1494.0,1239.6 1494.5,1240.9 1495.0,1240.5 1495.5,1239.1 1496.0,1239.8 1496.5,1239.2 1497.0,1238.8 1497.5,1241.3 1498.0,1239.4 1498.5,1240.0 1499.0,1239.5 1499.5,1239.4 1500.0,1238.4 1500.5,1238.5 1501.0,1239.7 1501.5,1240.2 1502.0,1237.7 1502.5,1238.3 1503.0,1238.7 1503.5,1239.5 1504.0,1239.1 1504.5,1239.0 1505.0,1238.5 1505.5,1237.5 1506.0,1238.2 1506.5,1239.1 1507.0,1238.3 1507.5,1237.1 1508.0,1239.1 1508.5,1238.2 1509.0,1238.4 1509.5,1239.3 1510.0,1237.1 1510.5,1236.8 1511.0,1235.2 1511.5,1237.2 1512.0,1237.7 1512.5,1237.1 1513.0,1237.2 1513.5,1237.9 1514.0,1237.2 1514.5,1237.0 1515.0,1236.7 1515.5,1236.5 1516.0,1237.3 1516.5,1236.5 1517.0,1236.1 1517.5,1235.8 1518.0,1236.1 1518.5,1236.3 1519.0,1236.2 1519.5,1235.8 1520.0,1235.2 1520.5,1234.1 1521.0,1235.7 1521.5,1234.6 1522.0,1235.2 1522.5,1236.3 1523.0,1235.4 1523.5,1234.5 1524.0,1235.6 1524.5,1234.6 1525.0,1234.3 1525.5,1235.6 1526.0,1235.0 1526.5,1236.7 1527.0,1233.3 1527.5,1234.2 1528.0,1234.5 1528.5,1235.0 1529.0,1233.6 1529.5,1234.9 1530.0,1233.3 1530.5,1232.1 1531.0,1232.4 1531.5,1232.4 1532.0,1232.2 1532.5,1231.8 1533.0,1232.2 1533.5,1232.8 1534.0,1232.4 1534.5,1232.7 1535.0,1230.1 1535.5,1229.5 1536.0,1231.9 1536.5,1230.1 1537.0,1229.8 1537.5,1228.5 1538.0,1229.1 1538.5,1228.3 1539.0,1228.0 1539.5,1228.6 1540.0,1226.7 1540.5,1227.0 1541.0,1225.2 1541.5,1226.5 1542.0,1224.8 1542.5,1226.8 1543.0,1223.9 1543.5,1225.8 1544.0,1223.4 1544.5,1222.1 1545.0,1222.7 1545.5,1222.2 1546.0,1220.5 1546.5,1219.6 1547.0,1218.2 1547.5,1219.2 1548.0,1219.2 1548.5,1216.9 1549.0,1218.1 1549.5,1218.6 1550.0,1215.3 1550.5,1216.4 1551.0,1215.5 1551.5,1213.8 1552.0,1214.1 1552.5,1212.5 1553.0,1213.0 1553.5,1213.5 1554.0,1211.3 1554.5,1210.4 1555.0,1208.6 1555.5,1211.2 1556.0,1210.6 1556.5,1208.4 1557.0,1208.5 1557.5,1207.8 1558.0,1208.7 1558.5,1205.9 1559.0,1207.1 1559.5,1204.3 1560.0,1206.2 1560.5,1204.4 1561.0,1205.5 1561.5,1204.5 1562.0,1203.0 1562.5,1202.4 1563.0,1201.6 1563.5,1203.6 1564.0,1202.8 1564.5,1200.8 1565.0,1199.8 1565.5,1200.6 1566.0,1199.6 1566.5,1198.5 1567.0,1198.6 1567.5,1198.4 1568.0,1197.5 1568.5,1197.6 1569.0,1196.7 1569.5,1196.7 1570.0,1195.6 1570.5,1196.2 1571.0,1195.3 1571.5,1194.4 1572.0,1194.2 1572.5,1193.4 1573.0,1193.0 1573.5,1193.1 1574.0,1192.9 1574.5,1190.5 1575.0,1191.1 1575.5,1190.7 1576.0,1189.0 1576.5,1189.3 1577.0,1188.0 1577.5,1186.8 1578.0,1184.7 1578.5,1184.0 1579.0,1184.2 1579.5,1184.3 1580.0,1181.3 1580.5,1178.6 1581.0,1179.9 1581.5,1177.6 1582.0,1176.8 1582.5,1174.0 1583.0,1173.7 1583.5,1171.6 1584.0,1168.7 1584.5,1167.8 1585.0,1166.4 1585.5,1163.9 1586.0,1163.8 1586.5,1160.8 1587.0,1160.2 1587.5,1157.7 1588.0,1156.8 1588.5,1154.8 1589.0,1151.1 1589.5,1150.6 1590.0,1149.9 1590.5,1147.6 1591.0,1148.1 1591.5,1147.2 1592.0,1145.5 1592.5,1146.3 1593.0,1147.0 1593.5,1146.8 1594.0,1149.5 1594.5,1149.9 1595.0,1150.6 1595.5,1151.4 1596.0,1152.6 1596.5,1154.3 1597.0,1157.1 1597.5,1157.4 1598.0,1160.5 1598.5,1164.1 1599.0,1163.6 1599.5,1167.0 1600.0,1171.2 1600.5,1173.6 1601.0,1175.9 1601.5,1179.9 1602.0,1183.2 1602.5,1186.9 1603.0,1188.9 1603.5,1192.2 1604.0,1195.2 1604.5,1198.5 1605.0,1201.2 1605.5,1203.1 1606.0,1206.3 1606.5,1211.2 1607.0,1212.5 1607.5,1215.7 1608.0,1217.8 1608.5,1219.9 1609.0,1222.2 1609.5,1222.6 1610.0,1224.4 1610.5,1225.2 1611.0,1226.3 1611.5,1226.2 1612.0,1227.6 1612.5,1229.6 1613.0,1229.6 1613.5,1230.4 1614.0,1231.3 1614.5,1231.4 1615.0,1232.6 1615.5,1234.2 1616.0,1234.1 1616.5,1234.6 1617.0,1237.1 1617.5,1237.9 1618.0,1238.1 1618.5,1238.1 1619.0,1240.4 1619.5,1240.5 1620.0,1239.7 1620.5,1240.8 1621.0,1240.9 1621.5,1241.2 1622.0,1244.6 1622.5,1245.1 1623.0,1242.7 1623.5,1245.3 1624.0,1244.9 1624.5,1245.5 1625.0,1246.0 1625.5,1246.2 1626.0,1245.6 1626.5,1245.4 1627.0,1246.5 1627.5,1247.7 1628.0,1245.6 1628.5,1246.4 1629.0,1247.1 1629.5,1246.6 1630.0,1247.2 1630.5,1248.2 1631.0,1248.0 1631.5,1247.7 1632.0,1248.0 1632.5,1247.6 1633.0,1249.0 1633.5,1248.0 1634.0,1247.7 1634.5,1248.1 1635.0,1248.5 1635.5,1249.8 1636.0,1248.7 1636.5,1248.4 1637.0,1250.6 1637.5,1249.1 1638.0,1250.0 1638.5,1249.4 1639.0,1249.6 1639.5,1248.2 1640.0,1249.4 1640.5,1248.9 1641.0,1248.5 1641.5,1249.7 1642.0,1249.4 1642.5,1249.5 1643.0,1250.3 1643.5,1247.8 1644.0,1249.8 1644.5,1248.4 1645.0,1248.4 1645.5,1249.8 1646.0,1249.4 1646.5,1248.1 1647.0,1249.9 1647.5,1250.1 1648.0,1250.8 1648.5,1250.6 1649.0,1249.9 1649.5,1248.7 1650.0,1250.0 1650.5,1250.7 1651.0,1251.0 1651.5,1251.1 1652.0,1250.5 1652.5,1250.7 1653.0,1250.1 1653.5,1250.1 1654.0,1250.8 1654.5,1251.3 1655.0,1249.6 1655.5,1250.2 1656.0,1250.4 1656.5,1251.3 1657.0,1250.9 1657.5,1253.0 1658.0,1251.3 1658.5,1250.7 1659.0,1251.0 1659.5,1250.7 1660.0,1251.0 1660.5,1251.3 1661.0,1252.4 1661.5,1252.3 1662.0,1251.7 1662.5,1250.5 1663.0,1251.8 1663.5,1250.7 1664.0,1251.1 1664.5,1251.8 1665.0,1251.5 1665.5,1253.0 1666.0,1251.3 1666.5,1251.2 1667.0,1251.2 1667.5,1252.1 1668.0,1250.0 1668.5,1251.2 1669.0,1250.9 1669.5,1251.5 1670.0,1250.4 1670.5,1251.7 1671.0,1252.6 1671.5,1251.1 1672.0,1252.7 1672.5,1251.4 1673.0,1251.9 1673.5,1251.0 1674.0,1252.3 1674.5,1252.2 1675.0,1252.0 1675.5,1252.7 1676.0,1251.9 1676.5,1254.0 1677.0,1252.6 1677.5,1251.8 1678.0,1252.3 1678.5,1252.4 1679.0,1251.4 1679.5,1251.7 1680.0,1254.0 1680.5,1253.1 1681.0,1253.4 1681.5,1254.7 1682.0,1253.3 1682.5,1252.1 1683.0,1253.6 1683.5,1252.4 1684.0,1253.7 1684.5,1253.4 1685.0,1253.8 1685.5,1252.1 1686.0,1251.4 1686.5,1253.3 1687.0,1253.8 1687.5,1253.3 1688.0,1252.9 1688.5,1253.0 1689.0,1253.1 1689.5,1253.9 1690.0,1252.3 1690.5,1253.3 1691.0,1254.1 1691.5,1253.5 1692.0,1253.1 1692.5,1253.3 1693.0,1254.1 1693.5,1254.6 1694.0,1252.8 1694.5,1255.6 1695.0,1254.3 1695.5,1253.9 1696.0,1252.9" fill="none" stroke="#ff9a33" stroke-width="2.0" stroke-linejoin="bevel"/>
<path d="M1493.0,1166.8 1493.5,1165.2 1494.0,1165.7 1494.5,1164.9 1495.0,1165.0 1495.5,1164.8 1496.0,1166.3 1496.5,1165.9 1497.0,1164.4 1497.5,1165.6 1498.0,1165.9 1498.5,1166.6 1499.0,1165.8 1499.5,1165.2 1500.0,1164.8 1500.5,1165.8 1501.0,1166.5 1501.5,1166.0 1502.0,1165.2 1502.5,1165.3 1503.0,1163.7 1503.5,1165.1 1504.0,1165.8 1504.5,1164.5 1505.0,1164.7 1505.5,1165.5 1506.0,1164.6 1506.5,1165.8 1507.0,1164.7 1507.5,1165.1 1508.0,1163.8 1508.5,1164.5 1509.0,1165.3 1509.5,1162.9 1510.0,1165.2 1510.5,1162.4 1511.0,1163.7 1511.5,1164.2 1512.0,1163.2 1512.5,1163.9 1513.0,1164.6 1513.5,1163.9 1514.0,1162.0 1514.5,1164.0 1515.0,1163.9 1515.5,1162.9 1516.0,1162.8 1516.5,1162.8 1517.0,1161.4 1517.5,1162.2 1518.0,1163.8 1518.5,1163.1 1519.0,1162.6 1519.5,1161.5 1520.0,1161.8 1520.5,1162.4 1521.0,1161.8 1521.5,1161.7 1522.0,1161.2 1522.5,1161.8 1523.0,1160.7 1523.5,1161.2 1524.0,1162.0 1524.5,1159.6 1525.0,1161.2 1525.5,1159.8 1526.0,1158.4 1526.5,1159.4 1527.0,1159.5 1527.5,1161.1 1528.0,1161.1 1528.5,1162.0 1529.0,1159.6 1529.5,1159.4 1530.0,1159.4 1530.5,1160.5 1531.0,1159.5 1531.5,1159.0 1532.0,1158.2 1532.5,1160.2 1533.0,1157.1 1533.5,1158.1 1534.0,1157.9 1534.5,1158.2 1535.0,1156.4 1535.5,1158.4 1536.0,1156.8 1536.5,1155.7 1537.0,1155.8 1537.5,1156.1 1538.0,1155.0 1538.5,1155.9 1539.0,1154.2 1539.5,1155.0 1540.0,1155.8 1540.5,1154.3 1541.0,1154.5 1541.5,1153.9 1542.0,1151.4 1542.5,1153.5 1543.0,1151.7 1543.5,1152.0 1544.0,1151.8 1544.5,1150.8 1545.0,1150.0 1545.5,1148.4 1546.0,1149.6 1546.5,1148.4 1547.0,1148.1 1547.5,1148.0 1548.0,1145.8 1548.5,1146.9 1549.0,1146.9 1549.5,1144.8 1550.0,1143.2 1550.5,1145.5 1551.0,1143.6 1551.5,1142.8 1552.0,1141.8 1552.5,1140.5 1553.0,1139.8 1553.5,1139.9 1554.0,1139.1 1554.5,1138.0 1555.0,1137.0 1555.5,1137.4 1556.0,1135.6 1556.5,1134.6 1557.0,1134.3 1557.5,1133.7 1558.0,1135.1 1558.5,1133.7 1559.0,1134.8 1559.5,1134.1 1560.0,1134.8 1560.5,1133.5 1561.0,1133.3 1561.5,1131.8 1562.0,1130.5 1562.5,1132.2 1563.0,1132.1 1563.5,1130.6 1564.0,1130.3 1564.5,1130.0 1565.0,1129.6 1565.5,1130.8 1566.0,1129.2 1566.5,1129.6 1567.0,1129.2 1567.5,1127.9 1568.0,1129.9 1568.5,1127.9 1569.0,1127.1 1569.5,1128.4 1570.0,1127.3 1570.5,1126.1 1571.0,1125.0 1571.5,1124.1 1572.0,1123.9 1572.5,1124.3 1573.0,1122.6 1573.5,1123.3 1574.0,1121.5 1574.5,1121.7 1575.0,1119.5 1575.5,1119.3 1576.0,1118.6 1576.5,1117.5 1577.0,1116.7 1577.5,1115.5 1578.0,1115.1 1578.5,1115.7 1579.0,1113.4 1579.5,1113.2 1580.0,1112.1 1580.5,1110.1 1581.0,1109.4 1581.5,1107.6 1582.0,1105.9 1582.5,1104.3 1583.0,1102.7 1583.5,1101.3 1584.0,1102.3 1584.5,1099.6 1585.0,1098.3 1585.5,1097.6 1586.0,1093.4 1586.5,1094.5 1587.0,1093.3 1587.5,1092.1 1588.0,1090.3 1588.5,1088.9 1589.0,1088.9 1589.5,1088.0 1590.0,1086.6 1590.5,1085.4 1591.0,1085.0 1591.5,1084.6 1592.0,1083.9 1592.5,1085.3 1593.0,1085.0 1593.5,1085.0 1594.0,1087.3 1594.5,1088.1 1595.0,1089.6 1595.5,1091.0 1596.0,1091.7 1596.5,1093.9 1597.0,1096.0 1597.5,1097.4 1598.0,1101.8 1598.5,1105.1 1599.0,1107.4 1599.5,1110.7 1600.0,1114.1 1600.5,1117.4 1601.0,1119.4 1601.5,1123.0 1602.0,1125.1 1602.5,1127.2 1603.0,1130.4 1603.5,1132.3 1604.0,1135.3 1604.5,1138.9 1605.0,1142.2 1605.5,1143.0 1606.0,1144.7 1606.5,1148.6 1607.0,1148.8 1607.5,1151.5 1608.0,1152.6 1608.5,1154.1 1609.0,1155.0 1609.5,1155.5 1610.0,1158.3 1610.5,1158.7 1611.0,1159.1 1611.5,1161.1 1612.0,1161.1 1612.5,1164.3 1613.0,1163.7 1613.5,1163.2 1614.0,1164.6 1614.5,1164.7 1615.0,1165.0 1615.5,1165.6 1616.0,1166.3 1616.5,1167.2 1617.0,1167.4 1617.5,1167.6 1618.0,1168.5 1618.5,1169.3 1619.0,1168.2 1619.5,1169.9 1620.0,1170.2 1620.5,1168.6 1621.0,1169.7 1621.5,1169.8 1622.0,1170.6 1622.5,1171.7 1623.0,1171.4 1623.5,1170.3 1624.0,1171.4 1624.5,1171.1 1625.0,1172.5 1625.5,1171.3 1626.0,1170.9 1626.5,1171.7 1627.0,1171.8 1627.5,1171.1 1628.0,1171.7 1628.5,1171.6 1629.0,1171.4 1629.5,1171.5 1630.0,1172.6 1630.5,1172.5 1631.0,1173.7 1631.5,1171.9 1632.0,1172.2 1632.5,1172.3 1633.0,1174.3 1633.5,1172.9 1634.0,1174.5 1634.5,1171.3 1635.0,1173.0 1635.5,1175.4 1636.0,1173.1 1636.5,1174.5 1637.0,1173.1 1637.5,1172.8 1638.0,1174.5 1638.5,1174.4 1639.0,1174.3 1639.5,1176.1 1640.0,1173.9 1640.5,1174.5 1641.0,1175.6 1641.5,1175.8 1642.0,1174.1 1642.5,1175.0 1643.0,1174.7 1643.5,1173.6 1644.0,1175.4 1644.5,1174.7 1645.0,1174.6 1645.5,1174.8 1646.0,1175.5 1646.5,1173.7 1647.0,1175.3 1647.5,1174.6 1648.0,1174.1 1648.5,1174.8 1649.0,1174.8 1649.5,1175.2 1650.0,1174.4 1650.5,1175.4 1651.0,1175.0 1651.5,1174.3 1652.0,1175.5 1652.5,1175.9 1653.0,1174.8 1653.5,1176.7 1654.0,1176.8 1654.5,1173.3 1655.0,1175.0 1655.5,1174.3 1656.0,1174.3 1656.5,1176.3 1657.0,1175.4 1657.5,1175.4 1658.0,1176.2 1658.5,1175.3 1659.0,1174.4 1659.5,1175.3 1660.0,1176.9 1660.5,1175.8 1661.0,1176.5 1661.5,1175.8 1662.0,1174.8 1662.5,1174.8 1663.0,1176.4 1663.5,1176.3 1664.0,1177.5 1664.5,1176.8 1665.0,1176.1 1665.5,1177.2 1666.0,1174.4 1666.5,1175.6 1667.0,1175.6 1667.5,1174.1 1668.0,1176.0 1668.5,1175.0 1669.0,1175.8 1669.5,1176.7 1670.0,1175.2 1670.5,1175.6 1671.0,1176.8 1671.5,1175.2 1672.0,1177.2 1672.5,1176.2 1673.0,1175.0 1673.5,1175.9 1674.0,1177.1 1674.5,1175.6 1675.0,1177.0 1675.5,1175.7 1676.0,1175.6 1676.5,1176.5 1677.0,1177.1 1677.5,1175.6 1678.0,1175.1 1678.5,1176.9 1679.0,1177.2 1679.5,1177.0 1680.0,1177.2 1680.5,1176.5 1681.0,1176.0 1681.5,1176.2 1682.0,1177.7 1682.5,1176.2 1683.0,1176.6 1683.5,1176.9 1684.0,1177.2 1684.5,1175.7 1685.0,1176.2 1685.5,1175.9 1686.0,1177.8 1686.5,1176.6 1687.0,1176.4 1687.5,1178.0 1688.0,1176.7 1688.5,1177.4 1689.0,1178.2 1689.5,1177.9 1690.0,1178.1 1690.5,1176.3 1691.0,1176.5 1691.5,1177.3 1692.0,1177.5 1692.5,1175.8 1693.0,1176.7 1693.5,1177.9 1694.0,1176.8 1694.5,1176.1 1695.0,1176.5 1695.5,1175.8 1696.0,1177.8" fill="none" stroke="#ff8205" stroke-width="2.0" stroke-linejoin="bevel"/>
<path d="M1493.0,1099.7 1493.5,1100.4 1494.0,1098.6 1494.5,1098.9 1495.0,1098.8 1495.5,1099.1 1496.0,1098.7 1496.5,1100.7 1497.0,1097.6 1497.5,1099.8 1498.0,1098.3 1498.5,1098.7 1499.0,1100.4 1499.5,1097.4 1500.0,1098.4 1500.5,1097.1 1501.0,1099.1 1501.5,1097.3 1502.0,1098.9 1502.5,1097.6 1503.0,1099.8 1503.5,1095.6 1504.0,1099.8 1504.5,1098.2 1505.0,1096.3 1505.5,1096.0 1506.0,1097.9 1506.5,1097.2 1507.0,1096.8 1507.5,1098.7 1508.0,1097.1 1508.5,1095.5 1509.0,1098.1 1509.5,1097.0 1510.0,1096.8 1510.5,1096.5 1511.0,1096.3 1511.5,1095.5 1512.0,1096.2 1512.5,1094.5 1513.0,1096.1 1513.5,1094.3 1514.0,1095.9 1514.5,1094.9 1515.0,1095.5 1515.5,1094.8 1516.0,1094.8 1516.5,1094.2 1517.0,1094.7 1517.5,1096.1 1518.0,1095.0 1518.5,1095.4 1519.0,1093.4 1519.5,1095.1 1520.0,1094.5 1520.5,1093.4 1521.0,1093.1 1521.5,1093.7 1522.0,1093.1 1522.5,1094.2 1523.0,1093.6 1523.5,1092.7 1524.0,1091.6 1524.5,1092.9 1525.0,1091.5 1525.5,1092.5 1526.0,1092.2 1526.5,1091.9 1527.0,1091.6 1527.5,1090.5 1528.0,1090.6 1528.5,1089.1 1529.0,1091.1 1529.5,1091.2 1530.0,1090.2 1530.5,1089.0 1531.0,1090.0 1531.5,1089.1 1532.0,1089.2 1532.5,1090.5 1533.0,1088.6 1533.5,1087.8 1534.0,1088.4 1534.5,1087.6 1535.0,1086.7 1535.5,1087.6 1536.0,1088.0 1536.5,1086.5 1537.0,1087.7 1537.5,1086.1 1538.0,1084.6 1538.5,1085.7 1539.0,1084.4 1539.5,1085.5 1540.0,1083.9 1540.5,1084.1 1541.0,1083.5 1541.5,1083.7 1542.0,1083.6 1542.5,1082.7 1543.0,1081.1 1543.5,1082.6 1544.0,1081.8 1544.5,1079.3 1545.0,1081.2 1545.5,1079.4 1546.0,1079.2 1546.5,1078.9 1547.0,1078.8 1547.5,1076.8 1548.0,1075.6 1548.5,1074.9 1549.0,1074.3 1549.5,1071.5 1550.0,1071.0 1550.5,1070.5 1551.0,1069.2 1551.5,1068.5 1552.0,1067.9 1552.5,1066.7 1553.0,1066.4 1553.5,1063.5 1554.0,1062.8 1554.5,1061.1 1555.0,1060.7 1555.5,1059.7 1556.0,1055.9 1556.5,1055.0 1557.0,1053.4 1557.5,1052.6 1558.0,1051.7 1558.5,1050.6 1559.0,1049.3 1559.5,1048.8 1560.0,1046.8 1560.5,1048.9 1561.0,1046.5 1561.5,1045.3 1562.0,1046.6 1562.5,1045.0 1563.0,1046.3 1563.5,1043.2 1564.0,1043.9 1564.5,1042.6 1565.0,1042.9 1565.5,1041.5 1566.0,1041.2 1566.5,1040.4 1567.0,1040.1 1567.5,1041.3 1568.0,1039.6 1568.5,1040.2 1569.0,1038.3 1569.5,1038.8 1570.0,1036.5 1570.5,1036.1 1571.0,1036.7 1571.5,1035.1 1572.0,1032.5 1572.5,1033.0 1573.0,1031.4 1573.5,1031.2 1574.0,1029.2 1574.5,1028.6 1575.0,1026.7 1575.5,1024.5 1576.0,1022.3 1576.5,1021.7 1577.0,1020.4 1577.5,1017.3 1578.0,1018.7 1578.5,1015.4 1579.0,1016.3 1579.5,1014.9 1580.0,1014.7 1580.5,1011.7 1581.0,1009.4 1581.5,1007.9 1582.0,1007.1 1582.5,1006.2 1583.0,1002.5 1583.5,1002.4 1584.0,1000.9 1584.5,996.5 1585.0,993.9 1585.5,991.8 1586.0,991.0 1586.5,991.0 1587.0,987.2 1587.5,985.1 1588.0,986.5 1588.5,982.9 1589.0,982.6 1589.5,983.6 1590.0,982.6 1590.5,980.3 1591.0,981.7 1591.5,980.3 1592.0,981.2 1592.5,981.7 1593.0,982.9 1593.5,983.8 1594.0,983.4 1594.5,985.2 1595.0,986.8 1595.5,988.0 1596.0,991.0 1596.5,994.4 1597.0,999.0 1597.5,1004.3 1598.0,1007.5 1598.5,1012.6 1599.0,1014.4 1599.5,1020.2 1600.0,1024.3 1600.5,1028.2 1601.0,1031.9 1601.5,1036.5 1602.0,1039.5 1602.5,1043.6 1603.0,1047.9 1603.5,1053.0 1604.0,1055.8 1604.5,1058.9 1605.0,1062.5 1605.5,1067.1 1606.0,1070.9 1606.5,1073.9 1607.0,1077.8 1607.5,1081.2 1608.0,1083.1 1608.5,1085.8 1609.0,1086.5 1609.5,1089.7 1610.0,1091.0 1610.5,1092.3 1611.0,1092.9 1611.5,1093.8 1612.0,1095.4 1612.5,1096.8 1613.0,1096.1 1613.5,1097.1 1614.0,1098.6 1614.5,1100.4 1615.0,1100.5 1615.5,1102.1 1616.0,1100.6 1616.5,1101.1 1617.0,1102.9 1617.5,1102.9 1618.0,1104.7 1618.5,1104.0 1619.0,1104.7 1619.5,1104.4 1620.0,1105.4 1620.5,1105.3 1621.0,1105.2 1621.5,1105.8 1622.0,1105.6 1622.5,1105.9 1623.0,1106.8 1623.5,1108.0 1624.0,1107.2 1624.5,1108.1 1625.0,1107.1 1625.5,1106.3 1626.0,1107.5 1626.5,1106.4 1627.0,1106.4 1627.5,1107.8 1628.0,1106.1 1628.5,1107.6 1629.0,1108.0 1629.5,1110.2 1630.0,1109.1 1630.5,1108.4 1631.0,1107.5 1631.5,1110.2 1632.0,1108.5 1632.5,1107.2 1633.0,1110.4 1633.5,1109.4 1634.0,1108.9 1634.5,1109.8 1635.0,1109.0 1635.5,1109.8 1636.0,1109.2 1636.5,1110.3 1637.0,1110.4 1637.5,1109.4 1638.0,1108.4 1638.5,1109.0 1639.0,1111.0 1639.5,1108.2 1640.0,1109.7 1640.5,1109.0 1641.0,1109.3 1641.5,1109.2 1642.0,1109.6 1642.5,1109.4 1643.0,1110.6 1643.5,1109.4 1644.0,1109.1 1644.5,1109.2 1645.0,1110.0 1645.5,1108.2 1646.0,1110.1 1646.5,1110.4 1647.0,1108.1 1647.5,1110.0 1648.0,1110.9 1648.5,1110.4 1649.0,1110.0 1649.5,1109.0 1650.0,1110.3 1650.5,1109.9 1651.0,1110.5 1651.5,1110.5 1652.0,1110.3 1652.5,1109.9 1653.0,1110.3 1653.5,1109.4 1654.0,1110.8 1654.5,1110.8 1655.0,1109.8 1655.5,1109.3 1656.0,1110.1 1656.5,1109.5 1657.0,1110.6 1657.5,1111.2 1658.0,1109.9 1658.5,1108.5 1659.0,1111.4 1659.5,1110.5 1660.0,1109.6 1660.5,1109.3 1661.0,1110.1 1661.5,1111.7 1662.0,1109.6 1662.5,1110.9 1663.0,1111.2 1663.5,1110.5 1664.0,1109.4 1664.5,1112.5 1665.0,1111.6 1665.5,1110.8 1666.0,1111.1 1666.5,1111.3 1667.0,1110.5 1667.5,1111.9 1668.0,1112.1 1668.5,1110.9 1669.0,1111.0 1669.5,1111.4 1670.0,1110.5 1670.5,1111.2 1671.0,1111.7 1671.5,1109.3 1672.0,1111.0 1672.5,1111.7 1673.0,1110.0 1673.5,1110.9 1674.0,1114.3 1674.5,1112.0 1675.0,1112.3 1675.5,1111.1 1676.0,1112.1 1676.5,1111.1 1677.0,1109.6 1677.5,1112.7 1678.0,1111.4 1678.5,1111.4 1679.0,1112.6 1679.5,1112.0 1680.0,1112.3 1680.5,1113.3 1681.0,1112.9 1681.5,1111.9 1682.0,1111.6 1682.5,1112.1 1683.0,1112.2 1683.5,1112.5 1684.0,1112.3 1684.5,1112.1 1685.0,1112.2 1685.5,1112.1 1686.0,1112.6 1686.5,1112.7 1687.0,1112.9 1687.5,1113.1 1688.0,1112.2 1688.5,1113.1 1689.0,1112.6 1689.5,1112.5 1690.0,1113.4 1690.5,1112.8 1691.0,1111.2 1691.5,1112.0 1692.0,1113.2 1692.5,1111.7 1693.0,1112.0 1693.5,1112.4 1694.0,1114.4 1694.5,1112.3 1695.0,1113.0 1695.5,1113.6 1696.0,1113.4" fill="none" stroke="#ff5500" stroke-width="2.0" stroke-linejoin="bevel"/>
</g>
<line x1="1493.0" y1="1397.0" x2="1493.0" y2="1407.5" stroke="#000" stroke-width="2"/>
<text transform="translate(1465.29 1432.89) rotate(0.03) scale(1.0000 1.0000)" font-size="24.91" stroke="#000" stroke-width="0.7">2000</text>
<line x1="1594.6" y1="1397.0" x2="1594.6" y2="1407.5" stroke="#000" stroke-width="2"/>
<text transform="translate(1566.89 1432.89) rotate(0.03) scale(1.0000 1.0000)" font-size="24.91" stroke="#000" stroke-width="0.7">2100</text>
<line x1="1696.2" y1="1397.0" x2="1696.2" y2="1407.5" stroke="#000" stroke-width="2"/>
<text transform="translate(1668.49 1432.89) rotate(0.03) scale(1.0000 1.0000)" font-size="24.91" stroke="#000" stroke-width="0.7">2200</text>
<line x1="1543.8" y1="1397.0" x2="1543.8" y2="1402.8" stroke="#000" stroke-width="2"/>
<line x1="1645.4" y1="1397.0" x2="1645.4" y2="1402.8" stroke="#000" stroke-width="2"/>
<text transform="translate(1553.43 954.79) rotate(0.03) scale(1.0136 1.0000)" font-size="22.81" stroke="#000" stroke-width="0.7">Ru-H</text>
<text transform="translate(1614.93 1088.39) rotate(0.03) scale(0.9784 1.0000)" font-size="22.81" fill="#ff5500" stroke="#ff5500" stroke-width="0.7">180 mV</text>
<text transform="translate(1614.53 1159.60) rotate(0.03) scale(0.9784 1.0000)" font-size="22.81" fill="#ff8205" stroke="#ff8205" stroke-width="0.7">150 mV</text>
<text transform="translate(1615.23 1228.80) rotate(0.03) scale(0.9746 1.0000)" font-size="22.81" fill="#ff9a33" stroke="#ff9a33" stroke-width="0.7">120 mV</text>
<text transform="translate(1625.84 1308.69) rotate(0.03) scale(0.9810 1.0000)" font-size="22.81" fill="#ffaa5c" stroke="#ffaa5c" stroke-width="0.7">60 mV</text>
<text transform="translate(1614.86 1389.80) rotate(0.03) scale(0.9853 1.0000)" font-size="22.81" stroke="#000" stroke-width="0.7">no bias</text>
<text transform="translate(1445.52 937.69) rotate(0.03) scale(1.0460 1.0000)" font-size="50.71" stroke="#000" stroke-width="0.7">f</text>
</g>
</svg>
</body>
</html>
